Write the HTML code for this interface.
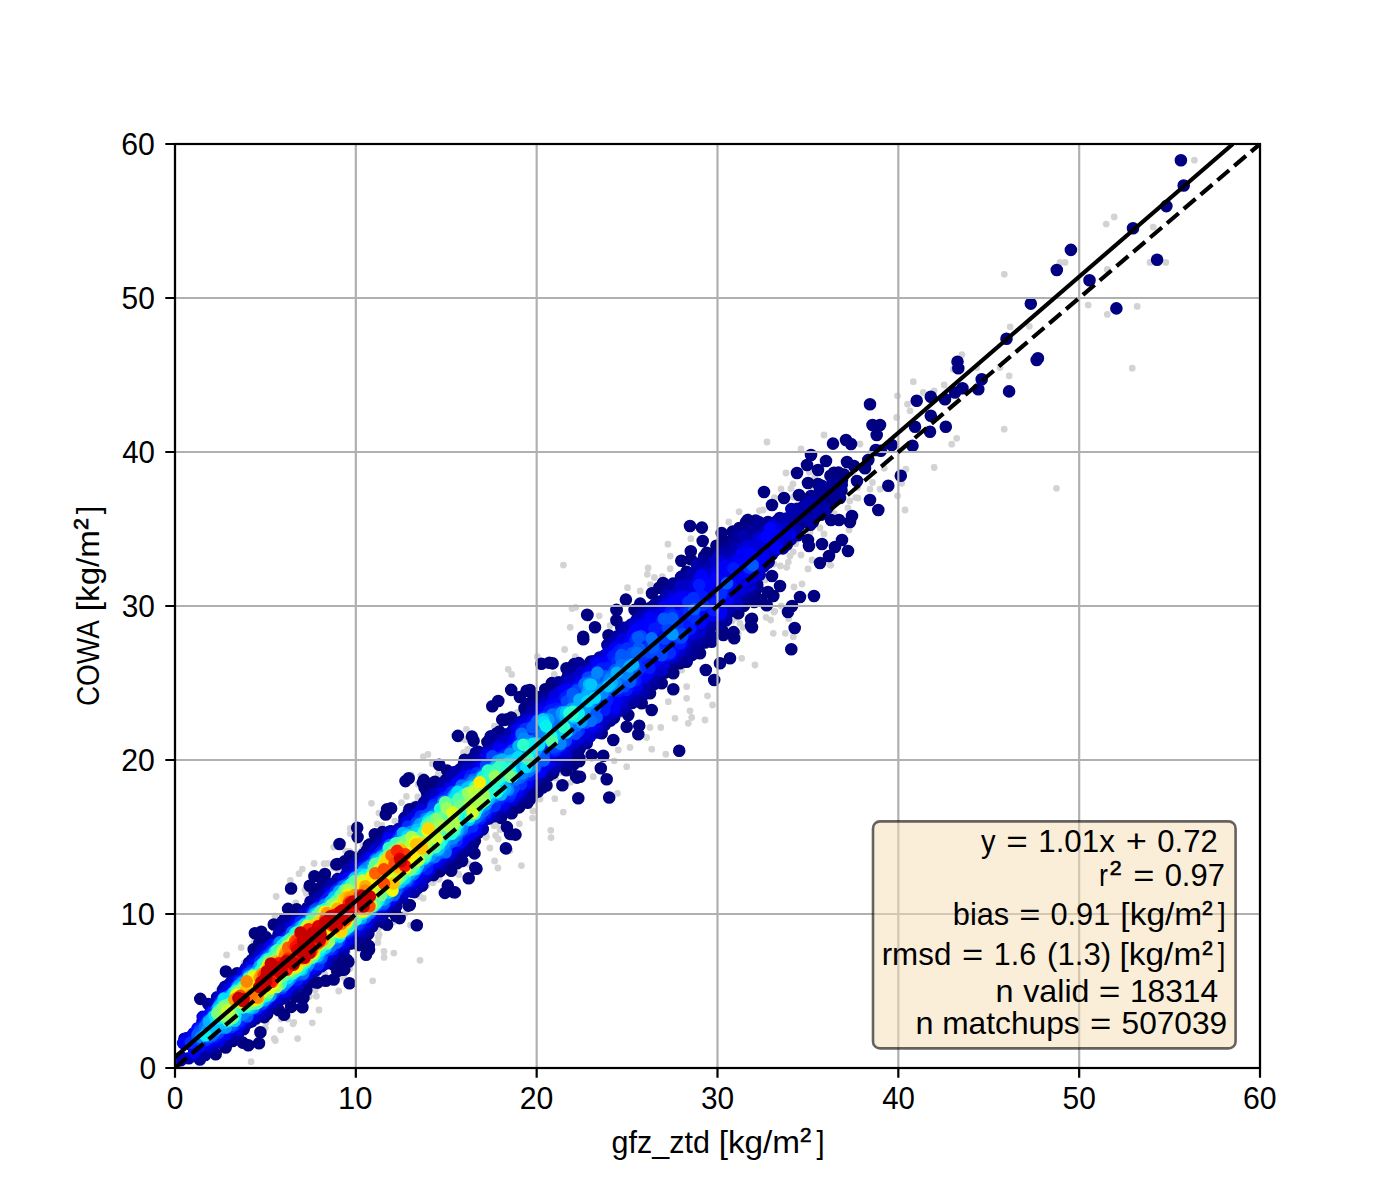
<!DOCTYPE html>
<html><head><meta charset="utf-8"><style>
html,body{margin:0;padding:0;background:#fff;}
svg{display:block;}
text{font-family:"Liberation Sans",sans-serif;fill:#000;}
</style></head><body>
<svg width="1400" height="1200" viewBox="0 0 1400 1200">
<defs><clipPath id="ax"><rect x="175.0" y="144.0" width="1085.0" height="924.0"/></clipPath></defs>
<rect width="1400" height="1200" fill="#fff"/>

<g clip-path="url(#ax)">
<path d="M319 1010h0M791 488.5h0M420.8 775.7h0M411.2 775.2h0M347.5 951.5h0M620.3 715h0M478.5 748.6h0M570.3 768h0M763.1 510h0M464.9 739.8h0M532.9 810.9h0M333.7 868h0M460.3 739.1h0M418.2 784.4h0M349.7 851.3h0M350.1 828.3h0M274.9 916h0M406.4 796.4h0M849.7 500.9h0M276.2 896.5h0M812.9 488.1h0M496 823.8h0M786.6 499.7h0M423.2 898.2h0M303.5 992.5h0M761 586.2h0M285.5 1002.3h0M423.3 756.6h0M417.8 796.8h0M467.8 749.4h0M410.5 925.2h0M509.2 816h0M371.5 803.3h0M312.3 1022.8h0M494.1 825.8h0M290.3 880.5h0M299 873.7h0M570.2 627.3h0M496.6 824.5h0M321.8 983.7h0M432.2 763.8h0M458.3 874h0M293 1023.8h0M521.4 865.6h0M564.6 649.5h0M857.5 487.7h0M315.2 989.9h0M803.5 526.8h0M484 834.7h0M797.7 504.6h0M280.6 1029.9h0M463.5 752.7h0M560.6 772.4h0M393.8 953.1h0M805.7 497.3h0M500 829.7h0M253.9 942.4h0M326.9 966.7h0M324.6 973.7h0M497.9 868h0M597.4 655.5h0M439.2 879.3h0M384.1 957.4h0M358.9 853.8h0M793.3 551.8h0M495.6 835.5h0M498.2 839h0M333.7 847.2h0M393.5 922.1h0M793.5 497.2h0M379.2 934.3h0M338.7 991h0M554.8 798.7h0M551 837.6h0M565.2 784.2h0M417.8 802h0M265.3 1027.8h0M550.8 830.3h0M575.6 607.3h0M809.3 472.3h0M774 564h0M378.3 928.8h0M572 608.6h0M394.9 821.1h0M258.5 1038.6h0M327.7 863.3h0M220 1098.3h0M293.8 1022.3h0M345.5 850.8h0M251.1 1061.7h0M256.5 1022.1h0M377.2 823.9h0M554.3 674.4h0M424 776.5h0M295.7 902.9h0M220.8 1047.8h0M489.9 848h0M508.2 669.3h0M377.9 942.6h0M361.5 850.9h0M359.4 854.9h0M555.6 778.2h0M304.9 889.8h0M793.1 543.2h0M343.7 977.4h0M563.4 565.1h0M511.6 674.4h0M404.6 812.3h0M437.6 875.9h0M433 882.8h0M570.6 782.3h0M427.9 754.4h0M350.1 833.6h0M485.9 837.3h0M436.8 879.1h0M384 951.4h0M226.6 955h0M532.5 818.1h0M466.3 729.4h0M316.4 996.2h0M297.6 1038.6h0M423.6 888.5h0M788.3 562.1h0M244 963h0M485.9 834h0M517.4 712.5h0M440.3 778.8h0M726.9 624.5h0M774.4 497.6h0M486.5 836.8h0M241.1 947.6h0M302.3 869.1h0M765.1 580h0M324.1 863.7h0M341.9 871.2h0M314.1 863.5h0M287.6 1019h0M470 752.8h0M349.9 968.4h0M563.3 812.1h0M218.8 990.3h0M494.4 726.2h0M309.4 996.5h0M855.8 497.6h0M736.4 617.8h0M244.5 964.4h0M280.9 1019.1h0M870.4 453.2h0M510 850.5h0M358.2 948.8h0M763.6 577.5h0M382 825.5h0M586.2 661.6h0M420 960.3h0M629.5 622.3h0M244.2 1032.6h0M389.7 915.2h0M834.1 513.3h0M494.6 861h0M244.8 965h0M759.4 510.6h0M413.4 804.5h0M405.1 913.4h0M802.7 501.1h0M401.5 802.6h0M663.5 678h0M306.4 893.5h0M426.8 885.6h0M795.8 543.7h0M814.7 477.4h0M266.2 1022.2h0M780.3 565.9h0M312.6 974.3h0M853 473h0M575.3 656.6h0M291 1000.1h0M468.8 864h0M458.9 874.8h0M558.3 772.3h0M532 801.8h0M362.9 845.6h0M537.3 656.7h0M378.9 813.1h0M438.3 774h0M274.3 1038.7h0M372.7 980.8h0M275.3 1040.5h0M419.6 896.4h0M518.6 717.4h0M378.3 937h0M519.4 823.8h0M540.1 799h0M338.6 871.3h0M1194.4 160.2h0M1114.2 216.9h0M1106.2 224.1h0M1153.2 227.1h0M1065 262.4h0M1060 262.4h0M1004.3 274.3h0M1165.8 262.4h0M1150 262.4h0M1107.3 269.4h0M1088.2 305.1h0M1107.3 314.4h0M1137.2 306.4h0M1010.2 326.8h0M1029.3 326.3h0M1132.2 368.2h0M1056.5 488.3h0M961.8 354.7h0M913.3 381.7h0M897.5 395.8h0M907.5 404.2h0M910 410.8h0M896.7 417.5h0M923.3 392.5h0M934.2 390.8h0M944.2 385h0M1009.2 375.8h0M1000 367.5h0M1004.2 429.2h0M956.7 438.3h0M951.7 444.2h0M934.2 467.5h0M905.8 469.2h0M901.7 483.3h0M897.5 495.8h0M905 510h0M880 489.2h0M870 489.2h0M872.5 482.5h0M884.2 468.3h0M953.3 369.2h0M976.7 367.5h0M767 442h0M824 435h0M801 449h0M860 444h0M786 473h0M793 484h0M781 489h0M858 498h0M848 508h0M820 528h0M824 534h0M810 532h0M849 530h0M790 556h0M801 555h0M812 560h0M830 565h0M808 569h0M802 584h0M794 587h0M774 612h0M830.7 565.3h0M786.7 567.3h0M781.3 606h0M774.7 611.3h0M770.7 620h0M766 617.3h0M773.3 633.3h0M785.3 633.3h0M793.3 636.7h0M788.7 618.7h0M739.1 511.7h0M728.8 522h0M748.6 516.5h0M690.8 538.7h0M667.9 544.2h0M670.2 556.1h0M670.2 568.7h0M648.1 568h0M647.3 574.3h0M654.4 577.5h0M662.3 576.7h0M627.5 587.7h0M640.2 590.9h0M650.5 584.6h0M610.1 625.7h0M732 621h0M743.1 627.3h0M738.3 633.7h0M599.2 615.8h0M741.7 658.3h0M755 665h0M681.7 670h0M686.7 686.7h0M668.3 701.7h0M686.7 698.3h0M707.5 695.8h0M712.5 705h0M690 710.8h0M691.7 717.5h0M688.3 723.3h0M705 720h0M675 718.3h0M660.8 727.5h0M650 727.5h0M646.7 737.5h0M651.7 749.2h0M630 747.5h0M618.3 750h0M665.8 754.2h0M614.2 760.8h0M626.7 766.7h0M617.5 793.3h0M593.3 776.7h0M726.7 623.3h0M740 623.3h0" stroke="#d3d3d3" stroke-width="6.8" stroke-linecap="round" fill="none"/>
<path d="M1180.9 160.2h0M1183.7 185.5h0M1166.4 206.1h0M1133 228.2h0M1070.9 249.9h0M1056.8 270h0M1157.1 259.8h0M1089.5 280.2h0M1030.8 303.6h0M1116.4 308.4h0M1006.5 338.7h0M1037.9 358.2h0M1009.1 391.4h0M870 404.2h0M872.5 425h0M880 425h0M876.7 435h0M875.8 450h0M880.8 450.8h0M891.7 445h0M868.3 460h0M865 468.3h0M870 500h0M878.3 510h0M888.3 485.8h0M900.8 475.8h0M916.7 400.8h0M930.8 396.7h0M945 399.2h0M955 392.5h0M962.5 388.3h0M981.7 379.2h0M978.3 389.2h0M957.5 361.7h0M958.3 368.3h0M930.8 415.8h0M915 426.7h0M930 431.7h0M945.8 426.7h0M912.5 445.8h0M1036.7 360h0M833 443.6h0M846 440h0M851 444h0M811 455h0M826 461h0M807 465h0M818 470h0M797 473h0M847 462h0M854 466h0M842 480h0M808 483h0M818 484h0M857 481h0M764 492h0M784 498h0M772 505h0M799 495h0M811 496h0M840 498h0M830 502h0M768 522h0M813 522h0M831 520h0M839 520h0M850 522h0M852 516h0M808 540h0M809 546h0M822 544h0M835 547h0M842 540h0M848 551h0M820 563h0M829 556h0M772 576h0M780 586h0M768 592h0M800 597h0M814 596h0M792 606h0M788 612h0M794.7 628h0M791.3 649.3h0M773.3 596h0M766.7 605.3h0M761.3 600h0M752 618.7h0M752 627.3h0M690 526h0M701.9 527.6h0M702.7 541h0M721.7 533.1h0M732.8 531.5h0M755.7 520.5h0M690.8 551.3h0M681.3 560.8h0M690.8 559.2h0M706.7 552.9h0M663.1 583h0M659.2 587.7h0M652 593.3h0M625.9 599.6h0M640.2 603.6h0M634.6 609.9h0M616.4 609.9h0M587.1 614.7h0M595 627.3h0M616.4 620.2h0M621.2 627.3h0M583.2 636.8h0M608.5 635.2h0M757.3 587.7h0M754.2 602h0M751 619.4h0M751 625.7h0M733.6 632.1h0M722.5 632.1h0M587.5 615h0M583.3 639.2h0M616.7 610h0M738.3 613.3h0M734.2 638.3h0M723.3 635h0M711.7 641.7h0M730 658.3h0M720 663.3h0M705.8 670h0M714.2 680h0M700 653.3h0M686.7 661.7h0M673.3 673.3h0M673.3 689.2h0M661.7 683.3h0M650 693.3h0M651.7 710h0M641.7 703.3h0M628.3 715h0M626.7 726.7h0M639.2 725.8h0M638.3 734.2h0M613.3 740h0M601.7 733.3h0M679.2 750.8h0M603.3 755.8h0M591.7 755h0M586.7 743.3h0M600.8 768.3h0M606.7 779.2h0M580 776.7h0M609.2 797.5h0M578.3 798.3h0M349.5 983.2h0M447.8 885.6h0M291.1 888.5h0M259 1043.3h0M254.9 933.3h0M510.1 834h0M506.9 827.1h0M200.3 998.9h0M416.8 925.3h0M444.9 892.9h0M314.4 876.2h0M457.9 735.9h0M471.9 736.6h0M577 777.6h0M339.5 844h0M302.4 1007.3h0M473.6 740.8h0M405.5 781.1h0M366.1 954.8h0M562.4 785.2h0M515.5 834.6h0M505.9 848.4h0M242.7 1042.6h0M549.4 662.8h0M576 776.4h0M357.2 827.7h0M408.7 778.3h0M541.4 663.8h0M552.6 663.4h0M475.3 867.7h0M248.3 1045.3h0M454.9 892.4h0M453.9 892.3h0M474.5 853.4h0M424.6 787.7h0M357.6 837.1h0M385.8 814.5h0M511.2 689.9h0M387.1 809.2h0M476.5 868.7h0M502.2 719.6h0M498.3 701h0M225.9 971.5h0M519.9 697h0M261.3 931.7h0M260.4 1032.3h0M451.2 870.7h0M391.1 808.4h0M468.7 878.3h0M492.3 706.2h0M369 949.9h0M425.2 783.4h0M529.9 690h0M288.1 908.9h0M439.2 764.7h0M344.3 969.6h0M374.8 834.3h0M333.7 979.5h0M309.7 885.8h0M504 720h0M427.3 790.6h0M526.6 690.7h0M447.2 770.6h0M422.8 782.6h0M399.7 918.1h0M457.1 863.3h0M434.9 781.7h0M423.9 780.1h0M462.1 861h0M273.8 924.5h0M284.1 1014.8h0M426.8 791.9h0M368.8 946h0M303.5 997.7h0M324.9 874h0M409.8 905h0M337.3 864.1h0M325.9 980.8h0M278.8 1010.2h0M408.5 905.6h0M336.3 864.4h0M337.1 970.9h0M337.9 970.9h0M296.1 996.5h0M396 916.1h0M324.5 876.5h0M387.1 924.8h0M349.9 856.3h0M317.5 982.6h0M507.2 719.4h0M338.6 963.9h0M323.2 883h0M306.3 990.3h0M259.1 943.5h0M315.8 982.4h0M306.3 987.2h0M333.9 965h0M291.2 1006.9h0M344.6 861.4h0M348.5 961.7h0M253.7 949.3h0M284.7 918.8h0M318.5 888.9h0M347 959.9h0M365.8 942.8h0M566.5 668.3h0M394.9 912.1h0M314.7 892.6h0M546.5 785.5h0M382.4 832.1h0M579.2 761.2h0M519 807.4h0M538 791.6h0M296.7 909.3h0M383.5 922.5h0M511.4 717.6h0M542.7 787.5h0M747.7 520h0M277.3 1007.8h0M368.9 845h0M369.8 844.4h0M755.1 593.7h0M282.6 921.4h0M361.7 942.6h0M472.9 844.6h0M359.1 944.9h0M743.9 605.9h0M566.3 770.2h0M746.2 521.9h0M830.4 475.7h0M748.4 600.9h0M532.2 796h0M511.7 813.3h0M531.3 796.9h0M368.3 933.9h0M530.2 799.1h0M579.4 758.2h0M265.9 937.1h0M527.5 802.8h0M574.3 664h0M215.7 1054.2h0M739.3 528h0M527 705.5h0M409.5 809.2h0M838.5 472.6h0M716.4 545.7h0M467.8 849.7h0M833.9 472.8h0M225.7 1047.5h0M464.6 759.8h0M545.3 689.3h0M752.3 593.7h0M357 943.6h0M487.4 742h0M573.7 764.4h0M536.6 696.7h0M748.3 525.1h0M737.5 611.3h0M354.4 858.1h0M460.5 854.6h0M471.9 843.2h0M324.3 886.8h0M264.3 1017.1h0M524.5 708.2h0M530.7 702.5h0M529.4 795.9h0M289.4 919.2h0M704.1 556.4h0M722.9 541.3h0M551.8 683.1h0M499.4 731.6h0M439.8 871.3h0M533.3 701.1h0M496.6 733.5h0M692.2 654.9h0M718.3 547.9h0M465.5 850.6h0M698.3 648.9h0M752.3 522.4h0M517.3 803.9h0M691.9 652.5h0M577.9 664.4h0M474.9 840.7h0M536.1 699.2h0M525.8 711.3h0M711.7 554.6h0M843.9 474.5h0M836.3 476.7h0M720.4 547.7h0M839.2 492h0M553.1 773.1h0M488.4 744h0M500.9 817.9h0M232.6 1041h0M549.2 775.2h0M237.1 973.2h0M514.4 722.8h0M267.2 1014h0M705.1 642.5h0M327.9 883.3h0M431.7 792.4h0M296.2 913.9h0M721.9 629.9h0M367.2 849.9h0M461.6 852.9h0M445.6 780.1h0M376.3 841.7h0M394.5 908.2h0M288.4 921.3h0M826 494.3h0M488.7 740.8h0M669.6 669.5h0M254.9 952.6h0M708.9 639.2h0M727.3 541.9h0M382.8 834.8h0M841.5 490.4h0M741.1 531.2h0M704.3 641.4h0M548.8 689.4h0M493.9 736h0M832.2 486.4h0M686.6 571.8h0M523 799.6h0M447.9 861.7h0M441.7 868.4h0M537.4 701.8h0M433.5 875.1h0M750.1 529.8h0M418 887.7h0M679.9 663.2h0M320.5 893.2h0M519.9 800.3h0M337.6 954.1h0M665.7 672.4h0M323 890.9h0M537.4 783.1h0M542.7 699.2h0M574.4 753.9h0M684.4 655.7h0M554.8 685.3h0M452.4 776h0M757.1 584.4h0M510.5 807.7h0M639.8 697.9h0M677.4 663.1h0M567 678.4h0M682.3 576.4h0M689.4 574.1h0M733.2 538.5h0M427.4 797h0M659 678.4h0M625.2 709.7h0M488.9 747.8h0M368.3 929.6h0M724.5 551.3h0M815.7 499.7h0M579.6 749h0M270.6 1007.3h0M747.2 533.2h0M308.8 978.5h0M651.3 607.2h0M416.1 807.3h0M782.2 519.3h0M477.8 833.1h0M460.2 769.3h0M269.4 1008.2h0M703.1 636.1h0M614 717.9h0M652.3 608.5h0M813.6 509.1h0M242.7 1028.3h0M351.2 943.4h0M274.9 1003.8h0M449 784.3h0M701.7 629.3h0" stroke="#000080" stroke-width="12.6" stroke-linecap="round" fill="none"/>
<path d="M284.3 920.9h0M490.8 736.3h0M578.8 663.1h0M343.5 951.3h0M821.9 485.9h0M414.3 892.1h0M199.9 1059.5h0M463.6 852.1h0M279.8 929.3h0M835.8 488.8h0M450.2 776.2h0M838.4 493h0M711.5 638.8h0M422.3 885.6h0M643.4 694.8h0M700.4 641.4h0M694 648.9h0M748.9 529.1h0M532.6 705.8h0M574.8 669.3h0M750.8 591.8h0M687.6 658.2h0M284.8 998.3h0M450.6 775.8h0M491.8 738.8h0M820.4 490.3h0M692.5 650h0M841.8 484.6h0M835.9 497h0M506.7 811h0M527.8 791.2h0M545.9 696.8h0M408.7 812.8h0M475.8 752.7h0M759.3 522.4h0M820 490.5h0M558.7 682.2h0M478.4 751.8h0M826.1 492.2h0M711.5 636h0M428.7 795.8h0M684 657.6h0M526 795.3h0M755.6 531.1h0M363.6 854.2h0M736.2 534.4h0M718.6 553.5h0M719.6 623.5h0M396.1 906.4h0M705.2 560.7h0M237.8 1034.8h0M467.8 845.2h0M826.8 508.9h0M706.5 562h0M568.4 674.3h0M699.8 563.4h0M464 763.5h0M726.2 549h0M810.4 524.8h0M832.5 483.4h0M574.5 751.3h0M681.1 577h0M243.8 1029h0M234.7 977.3h0M653.8 684.3h0M825.4 490.2h0M310.4 901.8h0M684.9 654.4h0M740.1 602.5h0M532.4 709.2h0M357.8 938.2h0M701.6 563.2h0M467.8 761.8h0M724.9 550.3h0M561.8 683.5h0M821.1 501.4h0M820.9 514.7h0M278.5 934.5h0M757.8 530.8h0M566.5 762h0M404.5 817.9h0M571.3 673.2h0M655.1 604h0M678.7 582h0M412.2 891.8h0M691.1 647.3h0M673 583.6h0M671.1 586h0M726.2 620.3h0M452.6 855.7h0M812.9 520.4h0M382.1 918.4h0M707 633.8h0M356 939.6h0M707.1 636.8h0M825.2 507.8h0M813.3 497.8h0M677 583h0M357 938h0M444 784.2h0M743.8 596.4h0M756.6 585.5h0M817.2 504.2h0M779.8 518h0M715.1 624.5h0M372.2 926.5h0M745.2 533.1h0M482.7 828.9h0M671.3 587.8h0M473.1 757.9h0M388.4 910.7h0M625.2 708.1h0M701.2 564h0M639.3 615.1h0M725.7 551.2h0M249 962.8h0M364.1 854.6h0M750.6 589.6h0M381.4 918.1h0M448.3 858.7h0M669.1 590.5h0M726.9 550.7h0M641.5 613.4h0M817 515.4h0M326 890.4h0M208.3 1004.1h0M704.8 634.4h0M707 565h0M251.8 960h0M821.2 507.7h0M330.4 959.1h0M688.3 648.5h0M271.7 1006.4h0M738.8 535h0M373 924.9h0M418.3 885.9h0M681.8 581.3h0M525.4 791.9h0M815.7 508.8h0M337.5 879.1h0M251.3 960.6h0M743.1 594.6h0M360.6 934.5h0M822.9 510.8h0M749 589.1h0M260.4 950.8h0M759.1 530.9h0M554.6 768.8h0M696.1 640.2h0M576.4 748.8h0M520.7 797.6h0M282.2 931h0M378.9 918.1h0M778.4 519.7h0M489.5 747.9h0M758.7 532.7h0M394.9 904.8h0M632.5 702.9h0M682.3 653h0M704.3 636.9h0M470 840.6h0M583.5 743.4h0M551.4 769.3h0M811.5 519.2h0M728.4 549.9h0M741.5 595.7h0M527.4 715.3h0M205.2 1055h0M550.4 769.9h0M686.2 578.6h0M316.9 898.6h0M223 989.7h0M728 613h0M710.1 562.1h0M296.9 917.2h0M659.8 601.5h0M610.5 720.6h0M388.8 832.3h0M323.3 893.5h0M505 734.6h0M705.7 566.9h0M497 740.5h0M375.8 846.2h0M633.9 701.1h0M590.9 661.5h0M733.6 542.8h0M777.9 521.1h0M675.9 587.8h0M254.6 957.3h0M371.3 925.4h0M374.6 847.3h0M469.7 840.5h0M353.4 941.7h0M768.7 562.1h0M632.1 702.1h0M644.4 687.1h0M498.6 814.1h0M812.9 512.4h0M757.6 535.5h0M371.8 849.7h0M261 951h0M798 535.2h0M725.3 615.7h0M674.1 589.9h0M332.5 955.5h0M688.9 646h0M407.7 817.9h0M585.4 741.3h0M541.1 776.3h0M334.6 953.9h0M329.4 886.9h0M730.8 550.2h0M616.8 636.6h0M385.2 911.2h0M753.1 538h0M411.9 889.7h0M692.1 640.3h0M284.7 996.1h0M813.6 507.3h0M643.1 614h0M481.5 755.1h0M775.9 522.5h0M697.8 638h0M738 543.6h0M674.4 591h0M744.9 538.3h0M574.6 674.1h0M515.6 800.7h0M630.2 702h0M698.5 569.2h0M809.2 519.4h0M478.3 831.7h0M645.1 683.4h0M441.1 788.2h0M274.2 940.6h0M604.9 724.7h0M409.8 815.6h0M748.4 587.3h0M643.7 686.3h0M786.8 544.5h0M608.9 720.8h0M480.3 756.8h0M227.8 985.5h0M328 888.8h0M724.2 616.5h0M635.3 699.8h0M533.3 783.9h0M609.7 720.3h0M441 789.3h0M656.1 677.1h0M449.1 856.7h0M722.8 617.2h0M357 934.7h0M668.8 664.1h0M607.4 644.9h0M255.8 1018.5h0M798.8 519.7h0M701.3 631.9h0M729.6 609.4h0M493.9 816.3h0M796.8 509.1h0M568.8 750.2h0M374.7 918.9h0M736.7 595.5h0M624.8 702.8h0M462.4 770.7h0M258.8 953.1h0M716.3 558h0M307.4 907.8h0M222.6 1043.2h0M565.1 759h0M334.1 953.2h0M627.4 627.4h0M227.9 1040.2h0M715.7 619.9h0M450.1 783h0M391.2 831.3h0M464.1 845.3h0M322.8 895.1h0M338.2 882.3h0M581.3 670.1h0M744.7 588.8h0M350.5 943.3h0M740.1 591.9h0M593.1 661.2h0M493.3 746.9h0M721.4 558.4h0M279.1 1000.6h0M697.8 635h0M742.2 536.9h0M525.8 717.9h0M610.6 717.7h0M231.3 1036.5h0M799 525.5h0M611.8 643.1h0M316.4 901.4h0M657.5 673.6h0M463.5 846h0M799.1 510.3h0M526.8 717h0M660 603.9h0M247 1023.5h0M388.7 834h0M603.8 724.5h0M567.3 682.8h0M652.2 610.2h0M357.8 861.5h0M798 509.4h0M664.4 599.8h0M738.3 545.8h0M808.5 502h0M797.9 524.2h0M424.3 802.2h0M339.1 882.3h0M589.7 663.8h0M795 514.2h0M397.8 900.1h0M377.6 915.2h0M616 640.6h0M617.4 638.8h0M796.5 532.8h0M636.6 620h0M775.9 524.4h0M766.7 529.2h0M257.9 1015.6h0M682 649.8h0M805.8 520.9h0M598.2 730.3h0M610.4 718h0M593.3 661.8h0M217.1 997.2h0M462.1 773h0M524.8 789.4h0M644.7 682.1h0M618.9 637.2h0M251.6 1021.6h0M348.2 871.6h0M285.4 994.3h0M689.1 582.2h0M743.2 543h0M380.2 845h0M723.6 614.7h0M453.2 851.5h0M796.5 529.8h0M299.3 918h0M700.3 629.2h0M570.9 680.6h0M332.7 886.7h0M635.3 692.9h0M654.7 610.9h0M705.8 625.3h0M737.4 592.1h0M802.6 507.2h0M619 709.2h0M654.5 676.4h0M455.5 849.4h0M804.8 505.1h0M408.2 819h0M782.7 525.4h0M783.4 541h0M475.2 832.3h0M761.7 566.8h0M421.3 807.5h0M646.2 615.8h0M261.2 1012h0M631.5 696.5h0M765 559.8h0M563.8 752.8h0M575.1 676.8h0M296.2 921h0M479 828.3h0M497.4 745.2h0M537.7 777.2h0M570 747.1h0M753.4 543.4h0M589 736.7h0M508.8 734.5h0M744.7 543.5h0M364.1 861.9h0M794.1 533.3h0M258 956.2h0M361.8 928.6h0M762.9 563.7h0M562.3 688.2h0M249.8 965.5h0M583.8 670h0M514.4 799h0M587.6 737h0M705.1 624.8h0M554.4 762.4h0M732 604.9h0M779.5 536.8h0M711 573.2h0M537.4 709.6h0M781.8 527.7h0M599.6 657.6h0M745.4 585h0M566.9 685.8h0M500.4 742.9h0M709.1 575.1h0M678.2 650.8h0M754.7 546.4h0M736.8 586.7h0M425.9 807.3h0M766.2 534.5h0M287.7 990.9h0M474.1 764.8h0M712.6 573.4h0M265.9 1004.6h0M679.6 595.4h0M707.1 618.7h0M610.1 650.1h0M479.4 763.8h0M667.6 660.6h0M658.3 667.9h0M373 915h0M392.4 900.2h0M656.7 612.4h0M408.4 822.7h0M655.1 672.1h0M414.7 881.8h0M671.8 656.8h0M325.8 897.4h0M502.9 745h0M554.3 757.6h0M694.1 629.9h0M300.1 980.8h0M510.8 800.2h0M485.7 759.3h0M422.7 811.2h0M749.9 557.3h0M721.8 603.9h0" stroke="#000096" stroke-width="12.6" stroke-linecap="round" fill="none"/>
<path d="M454.7 772.1h0M280 933.1h0M482.4 829.5h0M697.1 565.4h0M824.9 508.7h0M691.9 573.7h0M442.7 786.2h0M262.6 949.4h0M775.3 522.3h0M817.3 509.8h0M451.2 780.4h0M666.2 594.2h0M684.7 649.8h0M624.9 628h0M389.9 831.5h0M725 554.4h0M642.7 690.3h0M283.4 929.8h0M413.5 888.9h0M643.9 688.2h0M719.2 555.2h0M744.4 591.6h0M450.7 855.6h0M767.2 563.1h0M365.1 931.1h0M791.3 509.1h0M441.4 864.6h0M810.7 520.5h0M326.3 963.2h0M380.5 915.8h0M265.9 1011h0M623.6 708.1h0M331.2 885.2h0M543.4 701.9h0M231.2 981.9h0M326.5 962.2h0M379.7 915.7h0M225 986.7h0M353.5 864.6h0M295.6 987.4h0M641.6 689.2h0M431.1 796.6h0M356.7 861.4h0M799.1 516.6h0M344.1 947.8h0M735.2 547.6h0M434.5 793.9h0M517.5 723.9h0M597.3 732.5h0M288.4 926.4h0M530.6 713.1h0M410.5 890.8h0M374.4 849.6h0M782.9 548.4h0M380.2 843.2h0M347.7 869.8h0M586.6 740.4h0M261.8 1014.1h0M640.4 616.8h0M291.9 922.3h0M786 518.5h0M683.2 587h0M740 593.4h0M695.9 636.8h0M797.1 534.6h0M710.9 622.5h0M811.1 502.3h0M697.7 637h0M699.7 634.1h0M627.7 627.7h0M621.8 633.2h0M743.3 536.1h0M566.1 756.5h0M767.2 560.5h0M425.9 877.3h0M565.7 683.6h0M763.7 566.4h0M796.7 511.3h0M387.8 835h0M620 710.6h0M316.7 900.1h0M615.6 639.2h0M332.8 954.2h0M292.8 989.2h0M320.8 897h0M642.1 686.9h0M235.8 1032.6h0M687.8 583.4h0M481.7 756.7h0M772 554.2h0M631.2 624.6h0M418.5 884.1h0M459.3 775h0M694.9 636.2h0M622.8 704.7h0M428.2 874.6h0M719.9 557.9h0M281.8 935.4h0M504 807.1h0M402.3 897.1h0M294.8 920.7h0M573.1 744.4h0M687 584h0M764.9 561.6h0M553.4 766.1h0M789.1 517.6h0M535 781h0M681.8 588.1h0M635.6 692h0M804.7 508.6h0M648.3 611.5h0M474.9 761.7h0M711.2 564.9h0M285.5 994.8h0M709 621.2h0M706.1 569.6h0M389.3 905.5h0M422.5 805.2h0M469.9 765.1h0M662.6 601.4h0M466.9 767.3h0M258.5 1015.2h0M483.8 754.4h0M615.9 712.8h0M633.9 697.5h0M610.1 716.4h0M253.8 960.7h0M781.1 548.3h0M404.4 822.1h0M449.1 855.2h0M793.3 526.2h0M675.8 657h0M210.6 1048h0M796.1 515.7h0M544 771.6h0M415.2 884.9h0M556.3 763.7h0M448.5 785.3h0M707.1 570.5h0M601.6 725.3h0M374.6 917h0M581.7 741.5h0M622.2 704.9h0M520.9 722h0M456.5 848.4h0M212.7 1046.2h0M341.5 879.8h0M486.8 752.4h0M611.7 714.8h0M265.5 1006.3h0M703.3 627.4h0M359.1 862.9h0M263.5 1011.1h0M661.6 603.3h0M677.2 592.3h0M645.1 616.2h0M351.5 938.9h0M514 728h0M769.2 556.8h0M648.4 679h0M326.8 893.3h0M794.4 527.2h0M271.1 944.5h0M731.5 555.5h0M422.9 805.2h0M689.1 585.5h0M510.2 732.9h0M791 520.3h0M746.9 584.8h0M725 612.6h0M629.8 628.3h0M662.6 666.2h0M747.3 542.8h0M765.5 531.4h0M645.5 616.9h0M368.9 923.1h0M809.1 503h0M700.8 572h0M749 543.1h0M279.9 997.6h0M791 539.3h0M381.4 844h0M626.2 631.1h0M728.1 559.4h0M316.4 970h0M345.9 875.2h0M762.4 534.1h0M759.7 574.8h0M738.7 548.3h0M561.6 757.8h0M445 787.6h0M728.3 608h0M681.1 590.9h0M780.8 545.1h0M456.2 780h0M303.5 913.5h0M806.2 504.7h0M662.2 603.7h0M697.9 574.8h0M345.2 876.6h0M701.9 627h0M383.4 841.5h0M496.6 812.9h0M790.4 518.9h0M422.5 876.8h0M623 635.8h0M626.1 634.8h0M395.9 899.8h0M423.8 876.5h0M779.3 527.4h0M515.6 727.4h0M608.9 647.5h0M563.2 754.2h0M423.3 875.4h0M340.1 883.2h0M583.4 739.6h0M657.5 608.5h0M691.1 582.4h0M550.2 766.3h0M525.3 787.1h0M772.5 526.9h0M232 1033.6h0M780.6 527h0M622.6 637.2h0M688.6 640.1h0M544.6 770.8h0M761.4 565.2h0M674.4 656.6h0M713.7 618.2h0M493.9 813.7h0M589.8 733.5h0M537.9 708.7h0M758.9 569.2h0M639.2 620.6h0M691 589.4h0M392.1 833.2h0M788.8 522.9h0M317.3 902.9h0M640.5 685.1h0M698.1 629.5h0M292.1 988h0M522.2 723.4h0M374.2 915.9h0M774.3 527.4h0M756.4 541.5h0M706.5 622h0M568.6 748.1h0M756 543.8h0M789.7 537.7h0M510.4 734.7h0M769.2 554.7h0M621 638.9h0M253.3 1016.1h0M696.3 576.2h0M755.2 544.6h0M774.4 528.2h0M245.8 968.5h0M774.3 551.4h0M502.1 740.2h0M472.4 834.5h0M787.3 535.1h0M522.9 789.3h0M607.3 716.8h0M691.1 634.3h0M723.4 613.3h0M492.2 813.9h0M321.3 966.2h0M554.7 694.9h0M496.5 748.1h0M245.5 1022.3h0M510.8 736.3h0M653.2 674h0M572.5 681h0M443.9 857.5h0M756.6 568.5h0M497.7 809.9h0M771 529.6h0M425.9 806.1h0M757.9 543.1h0M665.2 662.8h0M398.5 829.1h0M772.5 529.3h0M488.8 818.5h0M770 552.9h0M656.4 610.5h0M684.8 593h0M751.4 546.1h0M431 870.1h0M464.2 775.4h0M734.5 591.1h0M339.7 947.2h0M762.3 538.1h0M227.3 989.5h0M738.4 588.1h0M728.5 603.4h0M539 709.2h0M465.3 773.2h0M573.8 681.3h0M736.5 588.4h0M778.8 546.1h0M188.8 1058.2h0M304.7 915.1h0M498.1 746.5h0M231.7 984.7h0M415.6 814.5h0M606.5 654.1h0M742.3 548.4h0M588.3 730.7h0M600.3 658.9h0M526.9 785.1h0M544.6 706.1h0M732.7 595.2h0M687.4 593.2h0M426.7 807.2h0M238.2 1028h0M619.1 643.3h0M692.7 584.7h0M605.3 655h0M611.3 711.1h0M732.5 597.2h0M389.9 902.5h0M671.1 657.6h0M484 758.4h0M745.5 581.8h0M753.8 575.9h0M692.4 586.2h0M456.4 846.9h0M548.9 765.5h0M282.1 937.7h0M597.8 661.1h0M586.3 735.7h0M513.6 732.6h0M489 814.1h0M653 615.4h0M719.2 563.2h0M370.7 857.5h0M708.3 576.9h0M528.9 719.2h0M586 735.5h0M256.3 960.4h0M607.1 713.6h0M713.8 571.8h0M767.9 554h0M555.8 757h0M644 678.6h0M358.8 866.2h0M274.2 1001.7h0M740 585.9h0M604.7 657h0M605.1 716.6h0M278.3 940.6h0M184.4 1038.8h0M264.7 1005h0M378 850.9h0M633.4 629h0M766.6 555.2h0M717.2 565.2h0M508.1 737.8h0M729.6 601.3h0M469 835.6h0M348.3 876.2h0M462.5 842.2h0M620 643h0M284 993.2h0M267.1 950.3h0M761.8 558.9h0M585.9 731.3h0M619 698.6h0M695.5 583h0M617.7 646.2h0M559.5 693.1h0M383.1 846.9h0M494.9 750.3h0M532 717.8h0M505.2 741.6h0M609.2 650.5h0M561.2 751.7h0M722.1 613h0M419.7 877.1h0M759.6 562.4h0M211.4 1043.5h0M777.3 542.6h0M501.6 744.6h0M761.7 542.1h0M619.6 644h0M666.5 603.8h0M602.5 658.8h0M737.9 556.5h0M246.8 1019.7h0M500.9 803.7h0M734.6 558.7h0M670.8 601.8h0M617.3 700.4h0M611.1 651.1h0M325.1 958.6h0M395.3 833.5h0M616.4 702.9h0M555.5 754.3h0M292.5 927h0M767 553.4h0M740.1 553.7h0M427.3 807.6h0M764.7 554.6h0M695.3 585.6h0M561.3 750.1h0M413 883.3h0M613.9 707.5h0M551.1 763h0M563.1 749.2h0M606.4 657.8h0M596.3 663.7h0M684.4 643.1h0M606.1 713.9h0M629 634.6h0M412.1 883.6h0M531.5 779.4h0M696.8 584.1h0M754.4 568.5h0M729.7 597.6h0M733.8 560.8h0M760.5 558.9h0M746.5 548.7h0M714.9 568.5h0M376.6 853.3h0M422.3 810.3h0M261.7 1006.7h0M288.9 931.1h0M549.9 705.3h0M677.5 649.1h0M432.6 866.5h0M504.7 803.1h0M715.2 569.4h0M729.9 596.7h0M418.8 878.4h0M537.7 772.6h0M356.6 869.1h0M722.1 565.7h0M766.5 540.5h0M196.7 1053.1h0M752.6 551.3h0M427.3 869.5h0M563.2 690.6h0M551.5 759.3h0M730.8 592.4h0M764 550.6h0M611.3 651.7h0M512.3 798.1h0M355.9 869.5h0M599.2 719.8h0M754.2 566.5h0M761.3 556.7h0M359.6 928.3h0M766 542.2h0M440.2 796.3h0M529.3 720.7h0M647.6 673.8h0M700 623.6h0M429.5 868.8h0M392.5 898.9h0M770.5 533.7h0M585.9 728h0M631.6 690.3h0M590.3 668.1h0M570.2 687.7h0M550.3 760.7h0M450.4 787.5h0M533.1 776.9h0M605.5 659.4h0M620.9 646.7h0M507.7 743.6h0M740.3 579.6h0M516.3 731.2h0M584.2 732h0M523.4 727.1h0M404.1 829.4h0M732.8 563.1h0M709 585.4h0M757.4 560.9h0M334.5 948.3h0M696.7 585.2h0M528.9 723h0M555.9 700.1h0M696.7 625.1h0M717.2 567.9h0M264.4 954.2h0M718.9 579.1h0M515.7 736h0M320.6 902.6h0M487.8 813.7h0M247.7 969.5h0M507.9 745.1h0M362.5 924.6h0M668.9 608h0M583 731.6h0M720.7 576.9h0M770.1 536.3h0M326 956.3h0M434.3 862.2h0M514.2 737.8h0M641.1 676.6h0M287.7 988.1h0M709.4 585.8h0M470.3 831.7h0M718.9 569.8h0M700.8 582.4h0M622.7 646h0M651.6 669.2h0M354.8 872.3h0M686.4 635.5h0M417.2 877.8h0M286.6 935.8h0M668.2 609.5h0M454.7 786.6h0M612.3 700.8h0M448.7 848.9h0M641 629.8h0M534.4 772.8h0M730 581.6h0M414.4 821.8h0M204.6 1044.8h0M256.6 1009.9h0M513.3 739.5h0M654.6 663.4h0M202.5 1022h0M499.8 802.2h0M581.4 728.6h0M610.5 703.3h0M475.5 822.3h0M605.8 663.2h0M518 787.8h0M629 690.1h0M605.6 706.7h0M614.9 655.9h0M477 820.4h0M467.1 831.4h0M664.4 626.1h0M669.8 613.9h0M614.3 691.4h0" stroke="#0000ad" stroke-width="12.6" stroke-linecap="round" fill="none"/>
<path d="M737.3 603.9h0M661.7 670.6h0M680.5 586.4h0M750.4 585.7h0M749 585.9h0M566 754.6h0M700.2 631.3h0M569.6 681.2h0M590 736.5h0M757.4 538.3h0M733.7 601.6h0M420.8 881.9h0M323.2 964.9h0M374.5 850.3h0M758.3 537.3h0M772.2 525.6h0M622.9 702.9h0M614.3 711.7h0M686.2 586.6h0M684.9 590.4h0M324.5 962.7h0M333.8 952.1h0M716 560.6h0M697.3 632.6h0M721.4 560.1h0M582 672h0M598 727.4h0M759 539.9h0M652 613.2h0M406 822.4h0M327.9 893.2h0M521.2 792.3h0M634.1 624.9h0M602.3 720h0M359.5 930.9h0M673.3 657.8h0M343.5 878.2h0M261.3 954h0M257.1 1013.1h0M487.7 753.2h0M623.4 700h0M242.8 972.7h0M679.1 651.3h0M502.9 806.3h0M454.4 848.8h0M704.1 573.1h0M652.2 614.7h0M575.7 678.1h0M493.6 749.4h0M513.1 799.8h0M638.3 686.7h0M786.3 528.5h0M620.1 701.9h0M734.2 594.6h0M758.4 568.3h0M574.7 742.3h0M467.1 770.4h0M492.7 750.1h0M776.5 528.2h0M779 543.1h0M286.7 991.8h0M404.8 892.2h0M719.9 561.7h0M527.4 719.8h0M673.3 595.9h0M387.8 837.8h0M645.7 617.9h0M436.4 795.7h0M261.3 1010.4h0M474.9 831.3h0M786.1 533.9h0M664.2 663.4h0M778.1 539.6h0M698.9 627.1h0M758.8 542.4h0M298.7 983.9h0M310.4 972.9h0M778.3 547.1h0M575.6 740.9h0M348.1 940.3h0M303.8 915.5h0M249.6 1018.9h0M667.6 601.6h0M440.5 793.6h0M489.5 814.2h0M330.1 893h0M686.1 593.4h0M558.9 691.7h0M555.7 760.9h0M546.4 704.3h0M392.6 834.6h0M513.8 798.4h0M608.3 713.9h0M180.8 1060.2h0M440.9 859.6h0M762.6 559h0M588.5 730.1h0M403.7 891.9h0M498.7 745.5h0M732.4 595.9h0M290.3 928.4h0M691.8 633.4h0M685.6 643.3h0M254.9 1013.7h0M776.5 548.8h0M434.8 798.7h0M743.1 548.5h0M208.8 1045.4h0M354.6 868h0M591.7 727.7h0M394.3 833.8h0M643.2 620.7h0M483.4 760.9h0M622.8 699.4h0M605.7 716.9h0M434.9 864.1h0M421.3 809.3h0M502.6 744h0M706.5 619h0M566 748.5h0M596 725.2h0M713.1 578.2h0M485.2 757.5h0M755.6 575.2h0M384.4 907.6h0M506.4 740.9h0M770.8 551h0M642.5 679.3h0M259.5 956.8h0M685.2 643.4h0M751.3 547.6h0M607.4 654.2h0M772.8 530h0M218.3 998.5h0M706.4 617.8h0M299.4 982.3h0M743.9 583.1h0M564.3 749.8h0M429.7 869.9h0M765.6 538.3h0M775.6 548h0M642.2 621.6h0M755.2 570h0M459.1 844.7h0M685.6 594.9h0M765.1 538.9h0M568 687.4h0M346.8 876.9h0M452.9 784.9h0M306.7 913.8h0M705.9 579.7h0M736.9 555.9h0M469.5 771.2h0M568.8 743.2h0M769.2 533.6h0M404.1 890.1h0M725.6 563.8h0M667.3 603.3h0M692.7 631.2h0M182.1 1057.8h0M774.7 548.6h0M732.8 589.9h0M339.7 946.1h0M607.5 712.7h0M360.3 865.6h0M257.7 959.4h0M451.3 786.5h0M449.4 787.1h0M695.2 590.2h0M690.1 595.1h0M406.4 826.3h0M522.2 786.8h0M444.1 855.8h0M761.5 544.1h0M218.6 1042.1h0M544.4 708.9h0M485.9 819h0M766.4 552.9h0M736.5 559h0M487.2 756h0M272.6 1001.7h0M768.8 535.4h0M760 560.4h0M378.2 911.6h0M525.6 722.8h0M686.5 595.8h0M276.3 998h0M234.6 983.2h0M674.9 600.3h0M654.7 669.7h0M477.2 765h0M309.3 911.7h0M285.5 990.9h0M555.7 752.5h0M639.8 681.8h0M636.8 626.7h0M755.2 568.2h0M512.9 797.2h0M736.6 559.3h0M465 777.4h0M379.2 851.8h0M490.8 812.4h0M543.4 710.1h0M544.4 767.1h0M676.5 598.1h0M523.5 785.6h0M762.5 545.8h0M546.4 765.5h0M547 707.5h0M673.3 654.2h0M614.4 649h0M202.7 1016.9h0M685.8 638.3h0M463.2 777.8h0M774.2 548.4h0M629.2 638.2h0M603.5 715.5h0M465.6 777.7h0M614.6 649.2h0M673.5 604.6h0M753.9 555.2h0M656.7 667h0M753.6 555.8h0M317.5 967.2h0M435.9 799.3h0M767.1 550.3h0M348.9 937.2h0M304.4 916.6h0M663.9 607.5h0M362.4 865.5h0M765 550.3h0M475.6 827h0M764.6 547.5h0M650.4 672.8h0M375.8 912h0M612 651.4h0M653.9 669.7h0M371.4 915.8h0M409.7 884.9h0M767.3 542.8h0M518.1 729.3h0M643.6 624h0M497.8 751.2h0M633.7 687.1h0M563.9 692.1h0M353.4 872.2h0M281.3 939.4h0M253.6 1013.5h0M300.6 979.5h0M623.2 644.2h0M752.6 568.2h0M750.6 573.6h0M595.8 665h0M594.9 724.1h0M345.2 880.5h0M598.1 720h0M345.8 941.6h0M209.3 1042.6h0M346 879.7h0M755.6 564.5h0M746.9 555h0M313.2 968.8h0M614.3 705h0M216.2 1001.9h0M735.9 561.3h0M639.6 680.7h0M259 1009.6h0M383.4 848.1h0M216.6 1041.1h0M699.1 581.5h0M298.8 980.5h0M640.9 678.5h0M528 724.9h0M572.9 739h0M530.3 721.3h0M450.3 788.5h0M695 625.9h0M585.4 728.8h0M421.6 874.7h0M553.9 704h0M439.7 857.9h0M743.8 564.6h0M662.6 661.2h0M624.3 644.5h0M556.6 700.4h0M598.1 663.1h0M547.8 764.4h0M276.6 996.8h0M558.1 749.6h0M485.3 760.2h0M664.4 608.6h0M635 631.6h0M702.5 620.4h0M549.6 707.8h0M502.3 747.5h0M384.4 847.2h0M339.9 945.2h0M627.3 641.9h0M283.5 938.3h0M452.8 846.6h0M413.3 880.7h0M733 583.3h0M627.1 694.5h0M621.9 646.5h0M545.6 763.4h0M634.3 685.1h0M405.1 888.3h0M643.4 673.8h0M703.1 618.2h0M720.9 566.6h0M483.4 819.5h0M502.6 801.6h0M498.8 751.2h0M520.1 786.9h0M713.7 585.9h0M518.3 789.6h0M681.8 606.4h0M224.8 1035.9h0M606.6 709.5h0M548.4 761.9h0M581.7 732.7h0M411.6 882.2h0M741.1 566.2h0M643.4 627h0M636 683.4h0M719.3 568.9h0M477.3 767.1h0M404.2 829.5h0M487.2 812.9h0M691.3 596.4h0M404.7 829.2h0M733.6 573.9h0M740.8 576.4h0M502 749.9h0M697.2 592.3h0M456.2 843.2h0M607.7 660.4h0M574.6 685.9h0M549.6 760.2h0M723.8 575.2h0M289.3 932.4h0M723.5 602.1h0M701.5 617.4h0M242 977.7h0M580.9 681.9h0M262.3 956.3h0M646.1 670.1h0M290.3 986.1h0M711.6 614.3h0M687.7 597.5h0M290.3 932h0M727.6 592.4h0M745.5 567.4h0M420 874.8h0M522.5 731h0M564.3 698h0M724.7 600.7h0M731 566h0M238.8 1024.8h0M555.3 705.1h0M250.5 968.8h0M580.9 731.9h0M289 987.1h0M429.9 866.7h0M242.8 1020.1h0M564.5 745.5h0M672.2 609.9h0M584.8 727h0M499.6 802.6h0M574.7 686.9h0M653.2 666h0M202.8 1045.7h0M746.3 574.1h0M703 612.2h0M506.6 746.6h0M685.2 604h0M449.2 789.9h0M747.9 570h0M611.4 654.8h0M729.2 582.2h0M579.1 736.7h0M719 600.6h0M585.1 676.5h0M389.1 900h0M729.1 588.3h0M697.9 593h0M708.3 589.3h0M694.7 595.6h0M722.1 583.9h0M519.2 732.3h0M725.3 597.5h0M546.9 710.5h0M602.8 709.4h0M628.2 644.3h0M322.3 902.9h0M699.9 589.6h0M435.2 803.2h0M684.5 606.7h0M481.9 818.8h0M733.5 570.1h0M553.8 707.6h0M406.4 829h0M549.8 709.5h0M514.4 740.4h0M457 842h0M724.1 569.2h0M705.6 591.9h0M254.9 1010.8h0M359.7 925.6h0M687.7 626.9h0M711.3 595.6h0M424.1 870.3h0M235.5 1026.5h0M400 833.3h0M587.9 673.7h0M622.2 692.8h0M619 650.6h0M687.7 626.4h0M254.6 967.7h0M506.1 748h0M633.2 683.3h0M362 923.2h0M653.5 658.4h0M704.3 591.8h0M560.4 704.2h0M705 604.5h0M595.1 668.7h0M513.6 742.8h0M448.8 793h0M708 601.5h0M475.1 772.3h0M634 640.5h0M669 651.8h0M638.2 675.4h0M400.6 889.5h0M588 675.6h0M493.7 806.8h0M660.9 620.6h0M694.5 618.2h0M582 683.5h0M410.1 880.7h0M723.8 588.7h0M373.5 858.9h0M652.9 630.3h0M291.9 983h0M416.1 822.6h0M681.6 610.8h0M623.4 692.2h0M516.3 785.4h0M629.3 685.8h0M630.5 682.1h0M380.5 853.6h0M490.8 758.4h0M698.9 594.8h0M377.1 908.8h0M568.1 698.6h0M267.5 1001h0M632.6 649.7h0M645.5 664.2h0M695.7 603.3h0M701.6 603.6h0M696.1 598.1h0M290.9 984.2h0M640.1 637h0M579 726.6h0M413.2 876h0M650.5 640.4h0M603.6 700.6h0M438.1 803.5h0M376.9 856.6h0M656.2 654.2h0M638.8 659.1h0M204.6 1040.8h0M681 634.9h0M563.5 739.9h0M273 949.1h0M673.6 614h0M346.5 935.5h0M454.6 790.3h0M667.8 635h0M678.4 632.4h0M439.5 852.2h0M402.3 885.5h0M643.2 655.8h0M649.1 649.5h0M473.2 819.9h0M585.9 713.1h0M612.5 670h0" stroke="#0000c8" stroke-width="12.6" stroke-linecap="round" fill="none"/>
<path d="M740.9 589.1h0M237.1 1029.9h0M368 857.6h0M269.7 946.7h0M449.5 854h0M411.7 818.5h0M748 546.4h0M487.2 754h0M756.9 574.6h0M596 662.1h0M692.4 633.8h0M527.8 784.3h0M503.7 804.9h0M622.4 639.2h0M367.1 922.5h0M303.6 978.3h0M349.7 939.1h0M525 722h0M776.8 528.8h0M790 533.5h0M760.1 541.4h0M776.4 537.9h0M554.4 695.8h0M540.6 708.9h0M556.6 695h0M733.4 592.5h0M593 727.6h0M650.9 616.3h0M703.3 576h0M407.8 822.4h0M296.9 922.1h0M720.5 615.1h0M759.7 563.4h0M694.4 585.3h0M465.6 775.1h0M715 572.4h0M221.7 995.6h0M523 723.9h0M723 563.8h0M427.3 870.6h0M552.7 702.2h0M635.4 688.7h0M751.1 577.6h0M620.7 697.7h0M752.6 575h0M362.3 865.1h0M735.4 585.8h0M483.7 760.7h0M322.1 963.8h0M409.7 821.6h0M514.5 796.7h0M608.4 653.6h0M499.7 746.7h0M623.9 641.2h0M653.5 616.7h0M342.8 882.3h0M418 813.2h0M674.7 597.9h0M564.4 748.9h0M672 598.5h0M638.3 625h0M727.7 563.4h0M612 709.8h0M237.1 980.6h0M634.6 628.9h0M747.4 579.1h0M256.3 962.6h0M459.2 780.8h0M470.3 834.6h0M243.4 974h0M777.5 542.3h0M264.2 1005h0M707.7 616.6h0M753.8 571.1h0M622.4 642.1h0M344.6 942.6h0M588.1 727.7h0M673 603.5h0M584.8 732h0M414 819h0M712.7 580.2h0M662.1 662.6h0M437.4 862.1h0M751.8 549.6h0M363.2 924.8h0M517.5 728.6h0M698.6 578.6h0M247.5 1017.6h0M775.4 536.7h0M556.6 698.3h0M733.7 582.2h0M639.8 625.3h0M749.9 576.3h0M391 900.4h0M691.2 630.6h0M516.5 729.7h0M615 703.1h0M694.7 593.9h0M568.9 742.3h0M549.7 762.5h0M718.3 570.4h0M705.8 580.7h0M593.4 725.6h0M398.2 832.2h0M462.9 840.7h0M452.6 847.6h0M444.2 792.9h0M550.4 761.6h0M332.1 891.3h0M249 967.8h0M292 928.5h0M601.6 660.9h0M716.1 615.3h0M546 709.1h0M705.4 617.2h0M501.5 747.8h0M262.9 1005h0M708.2 583.8h0M435.5 861.6h0M738.5 560.7h0M644.2 675.7h0M545.6 710h0M430.7 807.2h0M691 630.2h0M319.4 966h0M233.6 1029.4h0M228.2 989.5h0M330.3 952h0M688.6 631.9h0M494 753.7h0M463 839.3h0M729.5 593.2h0M349.4 877.2h0M422.9 811.7h0M771.1 536.2h0M660.1 663.2h0M389.2 840.7h0M660.1 612.4h0M774.1 543.5h0M415.3 818.6h0M742.5 578.4h0M766.6 544.4h0M679.1 607.2h0M358.6 868.5h0M724.7 602.5h0M572.4 738.7h0M457.8 843.6h0M650.4 620.3h0M187.3 1038.1h0M240.3 1023.8h0M596.5 720h0M519.1 729.1h0M580.1 737.1h0M728.6 565.2h0M593.5 667.6h0M659 616.2h0M578.2 738h0M558.9 699.4h0M752.9 560.6h0M657.6 663.5h0M374.8 912.1h0M218.8 1040.1h0M669.8 608.3h0M430.9 808h0M683.5 601.7h0M330.7 951.2h0M628.7 639.8h0M393.4 897.6h0M617.6 695.5h0M662.7 659.3h0M319.9 904.2h0M722 579.7h0M395.1 836.1h0M611.5 703.5h0M657 663.7h0M771.4 537.8h0M741 564.8h0M331.2 894.6h0M432.3 864.5h0M727.9 596.7h0M689 631.2h0M620.6 695.6h0M562.5 747.5h0M650.2 669.9h0M519.6 786.5h0M673.4 608.5h0M550.7 759.1h0M570.6 690.5h0M649.1 621.4h0M753.9 561.4h0M607.5 707.7h0M697.8 590.5h0M503.2 749.1h0M644.6 628.2h0M458.5 784.3h0M625.3 644.6h0M709.9 588h0M723.4 577.8h0M694.6 623.7h0M223.3 1036.2h0M600.6 663.6h0M769.5 544.6h0M580.8 734.5h0M657.4 663.3h0M738.1 571.2h0M538.2 768.1h0M686.5 631.7h0M354.1 930.9h0M629.7 640.2h0M278 993.6h0M337.6 888.1h0M586.8 726h0M658.5 660.9h0M261.7 1005.8h0M475.5 823.3h0M658.6 659.7h0M586.4 726.6h0M473 773.1h0M493.1 755.2h0M699.1 587.1h0M623.6 648.1h0M723.7 577.5h0M744.8 572.5h0M512.4 742.5h0M388.4 842h0M687.9 600h0M410.6 881.3h0M538.7 716.6h0M725.2 569.9h0M344.7 939.9h0M729.4 584.3h0M232 987.5h0M252.8 1012.7h0M465.3 835.7h0M626.5 693.1h0M279.6 992.3h0M560.6 702.6h0M745.7 569.9h0M509.4 798.5h0M742.6 572h0M329.3 897.5h0M316.5 965.2h0M420.2 814.4h0M480.4 768.2h0M364.4 921.7h0M729.3 571.3h0M651.1 661.1h0M719.5 596.7h0M393.4 839h0M730.7 570.4h0M655.6 659.3h0M487.2 761.2h0M328.7 952.4h0M446.6 850.8h0M630.3 642.4h0M665.2 656.6h0M448.2 848.3h0M729.6 569.1h0M598.2 716h0M721.4 596.2h0M600.4 714.9h0M356.3 929.4h0M355.6 873.8h0M511.9 744.6h0M422.4 815.2h0M638.7 679.2h0M422.8 813.6h0M535.9 770.5h0M464.6 835.1h0M701.3 590.6h0M629.6 690.8h0M346.4 881.3h0M242.6 978.2h0M241.6 1020.3h0M688.7 625.6h0M623.3 693.2h0M484.4 766h0M704.7 608h0M639.9 631.1h0M646.9 668.6h0M354.5 874.9h0M468.4 777.9h0M517 787.4h0M638.5 631.9h0M416 822.1h0M728.1 581.4h0M646.6 628.2h0M703.9 590.7h0M665.9 615h0M654.8 656.7h0M671.8 611h0M601.3 711.2h0M569.2 693.2h0M299.9 923.4h0M649.6 661.7h0M713.6 601.1h0M648.6 632.4h0M439.9 799.1h0M425.2 812.6h0M658 621.5h0M566.4 695.6h0M648.5 660.8h0M712 606.9h0M444.7 852.4h0M239 982h0M725.4 592.7h0M541.4 715.7h0M449.7 845.2h0M301.5 921.9h0M670.1 648.6h0M227.4 992.4h0M718.7 590.8h0M574.3 733.9h0M309.1 969.6h0M686.2 629.7h0M697.6 618.1h0M470.2 776.7h0M568.7 694.4h0M251 970h0M578.2 685h0M192 1035.6h0M520.1 782h0M687.6 605.2h0M282.2 989.7h0M630.3 687.1h0M407.1 828.7h0M651 630.9h0M565.2 699.1h0M469.6 830h0M324.8 902.1h0M704 602.9h0M616.8 693.6h0M381.7 905.9h0M706.5 598.7h0M391.7 840.1h0M514.6 742.1h0M372.2 859.2h0M310.5 913.5h0M244.8 1017.2h0M693.3 603.3h0M673.1 611.3h0M367.3 918.4h0M210 1013.1h0M272.3 948.6h0M472 824.6h0M549.7 753.9h0M575.3 731h0M251.4 1011.9h0M649.5 658.6h0M501.6 799.6h0M686.9 607.4h0M209.1 1041.1h0M277.8 992.5h0M688.7 606.6h0M481.2 818h0M557.9 708.3h0M587.9 676.8h0M616.9 691.9h0M701.6 591.1h0M363.5 868.6h0M465.3 834h0M690.7 606.3h0M645.9 637.3h0M514.5 787.3h0M358.9 925.2h0M535.1 721.5h0M684 631.4h0M512.7 790.5h0M578.7 728.7h0M693.1 605.6h0M247.8 1013.5h0M568.8 738h0M649.6 656.3h0M434 859h0M533.8 770.4h0M489.5 809.4h0M657.8 634h0M446.7 796.4h0M337.9 943h0M541.8 762.4h0M309.3 968.8h0M370.2 862.3h0M694.4 599.4h0M422.6 815.8h0M666.9 649.1h0M406.5 830.1h0M647.7 658.3h0M570.2 698.3h0M550.1 751.2h0M551.9 710.7h0M413.2 825.5h0M597.8 710.9h0M426.6 813.9h0M639.2 639.5h0M692.7 608.5h0M517.8 739.8h0M568.3 703.5h0M486.8 765.4h0M448.1 794.5h0M416.9 823.5h0M687.4 610.4h0M191.5 1045.3h0M629.5 651.7h0M692.2 607.8h0M680.7 637.7h0M534.5 723.8h0M661.2 637h0M194.4 1048.2h0M516 783.1h0M616.6 656.1h0M212.9 1037.6h0M402.1 887.3h0M659.7 650.3h0M374.3 909.2h0M204.9 1021.3h0M601.5 700h0M632 680.9h0M653.2 639.8h0M561.6 741.4h0M419.9 819.5h0M510.8 747.6h0M655.6 637.7h0M495.8 800.8h0M486.3 810.6h0M665.9 623h0M274.3 993.6h0M689 616.4h0M258.2 967.5h0M671.4 616.1h0M424.4 816h0M489.5 760.6h0M489.1 808h0M313.3 963.9h0M245.7 1014.3h0M457.8 836.7h0M244 978.8h0M610.5 667.2h0M504.4 797h0M667.9 632.2h0M350.4 879.5h0M410.4 828h0M348.9 932.5h0M512 786.6h0M624 681.4h0M669.6 625.2h0M676.9 614.4h0M242.9 1015.6h0M492.2 759.4h0M239.6 1019.9h0M647.8 655h0M251.1 971.9h0M379.8 904.8h0M524.8 775.3h0M603.3 673.2h0M594.8 675.5h0M675.6 635.1h0M507.5 752.5h0M305.5 921.1h0M252.6 1009.3h0M453.6 836.9h0M595 704.8h0M207.2 1018.3h0M251.6 972.4h0M615.6 686.2h0M581.5 693.4h0M576.2 703.3h0M567.2 710.1h0M383.3 901.8h0M201 1036.3h0M414.9 827.4h0M490.6 804.2h0M418.1 869.7h0M340.6 936.5h0M466.6 824.9h0M239.1 1016.8h0M489.3 769.3h0M257.2 970.3h0M504.8 779.4h0" stroke="#0000df" stroke-width="12.6" stroke-linecap="round" fill="none"/>
<path d="M701.3 575.2h0M776.7 547.4h0M389.1 838h0M464.9 776.1h0M475.3 830.3h0M644.4 677h0M540.7 771.8h0M254.6 963.9h0M240.9 1024h0M664.6 606.3h0M614.6 707.4h0M564.4 690h0M701.8 577.1h0M615.4 647.7h0M762.8 555.4h0M650.1 618.3h0M757.9 562.8h0M674.3 601.7h0M679.6 599.7h0M721 612.5h0M670.2 606h0M441.4 856.6h0M683.7 596.4h0M236.6 981.9h0M540.3 769.5h0M518 791.7h0M482.4 763.9h0M499.1 749.9h0M774.5 535.6h0M670.8 607.6h0M646.5 673.6h0M742.1 553.3h0M772.6 534.2h0M712 614.6h0M716.9 579.9h0M252.1 967.2h0M478 823.5h0M715.1 581.5h0M737.2 561h0M559.3 749.6h0M365 922.2h0M615.6 699.6h0M648 672.5h0M286 989.7h0M341.8 943.9h0M194 1052.6h0M541.4 714.3h0M268 951.1h0M754.1 562h0M773.5 537.1h0M746.7 565.5h0M676.3 607.8h0M465 836.8h0M444.1 793.6h0M674.8 649.3h0M642.9 624.9h0M719.9 605.3h0M516.1 792.3h0M598.2 664.1h0M485.3 815.6h0M655.6 619.9h0M390.6 899.1h0M371.5 914.6h0M750.2 570.9h0M526.9 781.8h0M283.7 991.4h0M460.6 782.2h0M737.2 575.7h0M183.1 1043.1h0M722.2 567.2h0M384.3 847.7h0M723.3 575.2h0M619 649.6h0M542.9 712.8h0M388.9 900.6h0M435.8 802.2h0M667.1 655.9h0M411.3 882.2h0M451.9 847h0M626.7 645.1h0M677.5 646.5h0M560.9 701.9h0M344.9 940.6h0M543.3 765.1h0M305.7 974h0M446.8 851.7h0M474.4 827.4h0M681.8 643.7h0M650.1 623.2h0M434.3 861h0M725.5 598.4h0M653.3 622h0M736.9 566.5h0M708.6 587.6h0M533.2 773.8h0M656.7 619.2h0M722.1 568.4h0M632.6 634.7h0M739.1 571.2h0M690.2 597.6h0M566.1 693.5h0M728 575.4h0M287.3 987.3h0M331.7 894.1h0M712.3 611h0M704.5 609h0M611 658.3h0M610.6 702.9h0M724.5 580.8h0M340.5 943.7h0M656.4 622.5h0M630.9 641h0M415.2 878.5h0M207 1043h0M512.2 794.2h0M448.1 848.5h0M624.2 648.7h0M568.2 692.7h0M650.9 663.5h0M388.1 901h0M703.1 589.6h0M673.6 610.1h0M727.6 589.1h0M484.3 813.7h0M387.5 843.5h0M461.8 836.7h0M245.3 974.5h0M612.4 655.1h0M389.9 898.7h0M685.6 606.4h0M374.2 911.2h0M570 738.4h0M520.7 731.8h0M680.6 609.2h0M501.2 752.3h0M506.6 798.8h0M515.8 738h0M521.8 782.1h0M467.5 832.2h0M295.8 926.1h0M589.2 673.5h0M225.3 1033.7h0M712.8 611.2h0M615.8 653.5h0M602.9 663.3h0M723.7 582.6h0M626 648.4h0M433 861.7h0M456 787.1h0M386.8 845.5h0M698.6 616.4h0M496.2 754.4h0M580.6 683.4h0M727.6 587.1h0M674.6 644.3h0M464.5 781.2h0M545.9 761.9h0M389.9 842.3h0M527.8 777.7h0M343.4 884.3h0M355 929.8h0M586.9 675.7h0M629.3 647.1h0M265.8 1002.6h0M260.9 959.8h0M676.6 610.9h0M642.5 669.5h0M418.6 874.7h0M633.2 640.9h0M525.3 778.9h0M728.8 567.5h0M602.3 707.5h0M376.5 855.9h0M719.7 588.6h0M434.8 806.4h0M713.7 595.9h0M681 610.1h0M397.7 836.3h0M488.4 761.6h0M611.6 699.5h0M592.4 719.9h0M256 1009.8h0M458.6 785.9h0M366.1 919.8h0M547.1 713.4h0M491.1 757.2h0M380.2 907.1h0M325.6 954.4h0M691.8 604.5h0M719.5 593.6h0M700.6 607.2h0M697 614.6h0M556.2 748.9h0M293.9 981.3h0M720.6 591.1h0M532.1 773.2h0M549.3 712.6h0M700.3 607.8h0M581 726.2h0M494.3 755.9h0M414.6 876.2h0M305.9 972h0M611.9 661.6h0M540.7 717.2h0M352.2 930.9h0M576.2 688.4h0M297 977.8h0M704.3 602.3h0M681.2 641.6h0M577 687.1h0M480.1 770h0M510.4 747.2h0M346.9 936.3h0M263.7 1003h0M249.4 970.8h0M324.2 902.9h0M416.2 875.2h0M246.1 1015.3h0M391.8 896.6h0M545.6 761.4h0M489.6 759.3h0M284.3 939.4h0M507.3 748.9h0M638.6 671.9h0M634 678.8h0M604.1 665.8h0M429.1 812.2h0M405.9 883.9h0M377.5 855.5h0M660.1 624.4h0M655.9 632.6h0M366.8 865.9h0M654.1 656.9h0M540.6 763.8h0M610.5 698.7h0M544.5 715.5h0M611.5 694.9h0M700.4 592.9h0M684.8 623.8h0M457 787.9h0M702.1 602.5h0M520.9 734.7h0M208.6 1039.8h0M608.7 702.6h0M607.9 699.9h0M435.8 805.8h0M390.1 897.3h0M445.7 848.7h0M518.4 782h0M623.6 690.8h0M206 1017.6h0M604.9 702.1h0M679.5 612.3h0M439.1 854.1h0M651.6 632.3h0M694.1 610.4h0M236.6 1024h0M318.4 907.5h0M257.7 965.3h0M211.4 1038.8h0M331.1 948h0M643.5 661.3h0M277.5 944.1h0M413.8 876.1h0M571.7 735.6h0M635.8 675.8h0M532.2 728.2h0M226.9 994.3h0M685.9 610.4h0M299.1 975.9h0M398.1 837.3h0M363.6 920.4h0M618.3 690.4h0M386.8 900.9h0M672.6 642.1h0M361 922.5h0M691.4 607.9h0M665.8 632.2h0M444.5 850.4h0M193.8 1033.2h0M415 875.2h0M494.5 757.5h0M639.2 640.1h0M679.9 640.1h0M447.7 846h0M607 666.1h0M563.6 741.4h0M495 802.3h0M329.6 899.1h0M258.7 963.9h0M631.7 650.6h0M341.6 939.9h0M541.6 717.6h0M506.9 750.9h0M659.4 654.4h0M581.8 685.5h0M693.6 614.7h0M462.6 834.7h0M395.6 892.9h0M649.6 645.4h0M505.3 752.6h0M590 718h0M240.7 1019.8h0M664.1 624h0M211.9 1011.3h0M678.5 639.6h0M645.4 658h0M475.3 775.1h0M257.4 967.2h0M562.9 742.8h0M354.7 927.7h0M455.9 838.9h0M570.7 734.9h0M465.2 831.4h0M553.3 748.9h0M659 640.4h0M534.3 725.8h0M689.7 617h0M661.2 644.8h0M253.8 1010h0M333.5 894.2h0M564.1 738.8h0M578.6 688.5h0M680.7 635.7h0M508.6 794.4h0M574.4 695.8h0M537.1 763.5h0M293.2 980.2h0M653.8 635h0M209.2 1015.4h0M654.8 636h0M304.9 971.3h0M657 637.9h0M619.6 686.4h0M432.6 858.6h0M615.4 659.3h0M531.4 771.5h0M406 881.9h0M651 653.7h0M308.9 967.6h0M193.3 1039.7h0M360 871.3h0M252.7 970.9h0M547.7 753.2h0M424.1 867.3h0M300.3 974.6h0M319.8 960.4h0M307.9 917.2h0M322.1 905h0M635.2 637.6h0M422.3 868.8h0M641.8 648.3h0M606.1 694.3h0M445.1 847.7h0M478.6 816.9h0M605.5 669.4h0M579.2 691.3h0M604.8 698.6h0M214 1037h0M642.4 650.1h0M636.9 648.4h0M552 711.6h0M239.3 982.9h0M255.6 969.3h0M613.7 660.1h0M418 872.9h0M533.2 769.6h0M331.4 947h0M198 1043.8h0M220.9 1033h0M526.5 735.3h0M645.2 650.3h0M428.8 814.4h0M201.4 1026.3h0M348.8 932.3h0M377.3 907.6h0M668 619.8h0M627.4 656.2h0M291.5 980.9h0M256.7 969.4h0M568.4 707.9h0M624.3 679.9h0M597.1 704.1h0M569.3 733.8h0M532.2 732.7h0M413.3 874.9h0M352.8 929.5h0M306 969.9h0M292.8 979.5h0M504.5 754h0M547.9 750.7h0M210.1 1037.2h0M450.1 795.6h0M653 642.9h0M636.6 649.6h0M632.9 651.4h0M464.9 829.5h0M613 666.7h0M423.1 867.8h0M669.9 624.5h0M569 707.4h0M369.5 864.6h0M670.2 637h0M469.6 822.2h0M579.3 692.5h0M457.3 789.6h0M587.5 680.9h0M249.7 1010.8h0M234.4 1023.9h0M278.4 989.7h0M584.6 715.7h0M280.8 988.5h0M523.8 737.3h0M255.7 970.3h0M505.3 794.5h0M579.3 697.7h0M436.8 807.6h0M529 735.3h0M401.2 885.3h0M492.1 803.1h0M412.4 828h0M490.2 763.7h0M504.3 795.1h0M570.6 727h0M429 815.4h0M238.4 1019.6h0M518.5 742h0M340 938.9h0M506.3 754.6h0M431.5 813.7h0M495.2 800h0M522.3 739.8h0M216.5 1034.9h0M596.4 700.6h0M592 677.4h0M584.9 712.2h0M280.3 987.7h0M205.5 1022.7h0M630.5 674.1h0M509.3 786.2h0M249.8 973.9h0M271.7 996h0M407.8 831.5h0M580.1 698h0M548.2 719.4h0M586 693.1h0M489 805.6h0M584.2 716h0M523.2 773.9h0M636.9 651.1h0M546 752.1h0M489.6 805.2h0M542.7 752.7h0M625.2 677.5h0M542.9 720.5h0M530.7 738.3h0M479.2 776.3h0M568.4 725.5h0M625.7 661.5h0M556.3 715.7h0M591.6 706h0M418.2 870.8h0M277.6 988.6h0M434.8 854.2h0M560.7 738.8h0M559.8 742.1h0M373.2 861.9h0M536.4 758.3h0M310.6 916.9h0M277.6 946.2h0M469 783.8h0M252.6 972.6h0M593.5 700.9h0M232.4 991.2h0M499.4 795.1h0M584.5 706.9h0M320.1 954.8h0M509.8 780.4h0M554.2 744.3h0M308 965h0M221.3 1002.9h0M462.7 827.8h0M433.6 815.4h0M555.6 743.3h0M219.9 1030h0M287.2 980.5h0M513.2 755.1h0M527 740.6h0M616.1 682.2h0M357 920.9h0M435.3 851.9h0M453.2 833.7h0M586 697h0M587.2 701h0M531.5 752.9h0M441.7 845.5h0M227.6 1023h0M429.3 854.6h0" stroke="#0000fa" stroke-width="12.6" stroke-linecap="round" fill="none"/>
<path d="M770 528.3h0M765.8 536.7h0M716.2 578.5h0M727.7 600.9h0M456.5 783.7h0M460.3 842.7h0M704.1 582.8h0M552.1 705.2h0M593.1 725.4h0M749.8 553.4h0M273 944.9h0M636.7 684h0M732.1 585.9h0M637.1 629.4h0M634.8 685h0M740.6 563.7h0M331.3 893.1h0M347.2 878.5h0M464.4 838.4h0M701 622.9h0M754.7 557.6h0M752.7 558.7h0M312.5 968.6h0M671.6 654h0M520.4 729.3h0M372.5 857.5h0M570 689.8h0M702.9 584.8h0M711.5 614.8h0M699.1 584.3h0M518.2 789.1h0M629.5 641.3h0M451.3 788.7h0M561.6 700.7h0M253.2 967.3h0M731 571.9h0M204.2 1017.5h0M372.4 912.9h0M700.7 613.8h0M475.3 824.6h0M702.5 587h0M632.8 634.3h0M391.2 840.2h0M557.1 704h0M296.8 980.9h0M648.7 625.1h0M727.2 594.4h0M569.8 691.5h0M617.6 694.6h0M654.5 661.4h0M690.3 628.1h0M714.8 606.5h0M336.8 889.1h0M700.8 589.9h0M653 625.9h0M698.6 619.7h0M744.5 571.8h0M658.4 621.2h0M427.7 866.3h0M707.5 592.5h0M532.8 721.5h0M376.6 909.7h0M300.3 976.5h0M499.9 801.5h0M487.6 760.8h0M659.7 658.9h0M697.7 622.1h0M437.7 801.8h0M725.7 583.4h0M472.8 774.6h0M715.5 588.1h0M626.8 647.7h0M703.1 607.2h0M716.5 591.4h0M341.8 941.1h0M547.6 759h0M355.4 874.5h0M638.9 632.7h0M672.6 651.4h0M557.1 707.6h0M451.9 789.5h0M612.7 658.8h0M664.1 618.2h0M491.2 808.7h0M283 989.5h0M552.9 751.1h0M292.9 982.9h0M295.1 980.9h0M662.1 656.5h0M724.5 588.2h0M362.7 921.6h0M240.2 1022.2h0M594.7 715.9h0M726 585.8h0M627.5 648.8h0M573.4 690.7h0M466.2 832.8h0M533.1 771.1h0M295.1 927.2h0M473.1 824.7h0M681.6 641h0M517.7 738.2h0M639.7 672.5h0M515.9 787.6h0M475.8 820.7h0M553.1 709.2h0M567.2 695.9h0M665.8 619.8h0M675.8 642.5h0M444.3 851.3h0M199.7 1046.8h0M581.7 684.3h0M613.5 659.2h0M716.3 592.1h0M602.7 706h0M417.6 820.6h0M535.7 720.2h0M572.2 692.8h0M322.2 904.1h0M567 740.2h0M469.2 778.4h0M686.5 627.2h0M660.6 654.7h0M641.7 633.8h0M667.1 653.8h0M470.5 826.8h0M496 755.8h0M650.8 635.3h0M486 766h0M683.1 627.8h0M696.9 607.3h0M329 949.9h0M382.7 905.1h0M214.3 1038h0M698.4 595.1h0M596.5 669.8h0M275.2 946h0M197.6 1028.3h0M599.2 708.5h0M649.2 638.2h0M506.2 796.6h0M540.4 718.5h0M472.5 823.1h0M470.3 779.1h0M632.3 648.2h0M635.7 634.5h0M567.1 737.8h0M658.7 636.3h0M576.1 691.7h0M292.2 931.4h0M540.7 717.7h0M562.5 708.3h0M462.6 785h0M609.6 694.1h0M505.4 751.6h0M571.5 696.6h0M684.6 620.1h0M316.4 962.9h0M314.2 910.5h0M615.2 691.7h0M218.8 1036.3h0M639 661.8h0M682.5 627.5h0M454.1 789.1h0M660.7 649.1h0M565.6 708.4h0M241.3 980.1h0M616.8 690.2h0M419 872.5h0M388.4 899.2h0M587.4 723.5h0M512.2 787.9h0M513.4 746.5h0M408.4 828.9h0M436.5 806.1h0M332.5 895.9h0M447.2 845.7h0M487.2 766.3h0M430.5 812.4h0M692.4 609.1h0M286.7 938.5h0M530.7 729.6h0M487.1 766.7h0M580.1 725.5h0M637.1 640.1h0M505.3 795.9h0M618.3 689.2h0M225 997h0M666.4 636.7h0M585.6 680.3h0M531.5 771.6h0M599.2 668.6h0M554.1 747.7h0M650.6 655.4h0M384.7 850.4h0M638.3 636h0M684.4 612.1h0M590.4 719h0M283.1 987.8h0M570.5 700.6h0M655.4 649.8h0M250.2 971.5h0M651.8 643.5h0M225.4 1031.2h0M634 674.9h0M679.6 612.9h0M464.2 832h0M623.5 688.4h0M324.6 952.7h0M286 985.3h0M616 658.1h0M450.2 794.1h0M529.9 772.7h0M552.1 748.7h0M228 1028.5h0M656.5 640.8h0M481.5 770.2h0M576.7 694.5h0M637.5 665.2h0M609 694.7h0M419.4 820.4h0M539.6 760.7h0M489.8 761.5h0M533.7 727.5h0M432.6 811.3h0M499 756.4h0M476.2 820h0M566.5 735.7h0M508.3 749.9h0M470.5 823.6h0M645.5 655.8h0M417.9 822.8h0M529.7 733.4h0M657.7 638.9h0M468.8 825.8h0M198.9 1027.8h0M489.6 763.4h0M261.4 960.8h0M331.4 898.5h0M678.9 629.1h0M668.6 636.4h0M591 675.1h0M362.1 870.6h0M502.2 755.4h0M257.7 967.8h0M613.2 665.1h0M537.4 723.2h0M587.5 721.2h0M459.3 787.8h0M623.9 684.3h0M494.1 802.9h0M546.8 754.5h0M393 894.5h0M614.2 688.6h0M630.5 676.8h0M398.4 889h0M550.3 714.2h0M531.7 770.6h0M579.8 723.5h0M527.1 774.3h0M604.2 696h0M288.8 936.5h0M669.7 631.4h0M637.3 668.1h0M232.4 989.6h0M403.4 885h0M454.9 790.9h0M604.4 672.4h0M612.9 689h0M280.8 988.9h0M596.3 673.4h0M676.6 616.9h0M502 796.6h0M465.5 785h0M585.3 722.4h0M569.9 730.9h0M590.1 709.3h0M536.2 728.5h0M672.8 625.7h0M608.4 690.3h0M683.4 614.3h0M685.5 614.5h0M342.8 937.8h0M221.6 1001.1h0M474.3 778.1h0M491.8 759.8h0M471.5 821.3h0M676.7 635.2h0M647.1 654.7h0M490.8 806.5h0M355.1 925.9h0M275.9 991.1h0M671.9 619.2h0M561.8 738.3h0M582.1 690.4h0M640.3 656.7h0M597.9 672.5h0M576.4 698.2h0M198.8 1037.7h0M374.2 860.2h0M622.4 657.8h0M647.9 653.5h0M635.9 655.3h0M270.3 997.6h0M319.4 908.3h0M341.3 888.3h0M322.3 954.6h0M568.3 730.8h0M670.5 632.6h0M463 787.1h0M223.6 1030.7h0M203.5 1037h0M673.9 627.7h0M645.2 651.2h0M427.2 860h0M537.9 760.7h0M599.6 697h0M203.2 1026.5h0M615.4 666.7h0M563.4 710.9h0M613.2 688h0M419.1 824h0M321.8 954.3h0M529.7 770h0M228.8 994.4h0M370.1 911.8h0M539.9 722.8h0M560.9 711.6h0M579.4 722.4h0M528 772.9h0M332.4 898.3h0M412.2 828.9h0M248.6 974.7h0M256.1 970.7h0M422.5 818.7h0M585.9 688.3h0M603.4 692.6h0M515.4 748.1h0M527.3 771.8h0M576.8 703h0M260.4 964.5h0M230.1 993.2h0M618.4 659.8h0M328 902.5h0M318.3 959.8h0M604.9 690.6h0M478.7 815.2h0M590.6 679.3h0M630.1 671.1h0M541.4 732.7h0M465.9 825.5h0M508 788.1h0M533.5 765.3h0M229.7 1025.7h0M576.3 720.7h0M617.4 664.2h0M521.1 741.2h0M246.5 977.8h0M462.5 787.8h0M383.2 900.7h0M537.8 738.9h0M623.9 661.7h0M421.8 867.3h0M398 887.8h0M462.7 787.9h0M440.1 806h0M621.3 661.5h0M333.2 943.2h0M389.9 845.7h0M516 748h0M629.3 670.7h0M396.3 889.6h0M525.4 738.2h0M626.1 664.4h0M610.9 687.8h0M245.1 1011.8h0M528.9 736.4h0M399.6 885.6h0M207 1034.4h0M451.1 839.4h0M538.6 754.9h0M529.2 738.2h0M551.3 743h0M464 829.2h0M203.3 1028.6h0M446.8 842.2h0M540.2 751.4h0M240.5 1014.2h0M636.1 651.5h0M283.9 983.3h0M233.7 1021.7h0M210.2 1033.4h0M530.1 767.9h0M610 687.3h0M542 748h0M331.2 943.7h0M518.9 776h0M554.3 721.1h0M236.7 1018.9h0M399.2 839.1h0M625.2 674.8h0M620 668.1h0M546.9 722.7h0M464.9 823.9h0M627.4 665.2h0M575.6 706.3h0M261.6 1001.7h0M602.7 689.3h0M357.4 878h0M430.7 856.7h0M593.2 701.8h0M422.4 823.2h0M291.8 935.5h0M294.3 974.7h0M556.5 742.1h0M339.5 936.9h0M494.8 795.2h0M466.5 820h0M580.9 716.4h0M268.5 996.2h0M561.7 718.6h0M514.4 754h0M475.4 817.5h0M238.5 1013.4h0M583.8 703.9h0M568 711.2h0M487.8 804.7h0M438.8 810.3h0M448.7 801.7h0M563.4 714.6h0M226.8 999.5h0M604.3 686h0M611 679.9h0M545.2 734.4h0M316.3 958h0M235.4 1017.5h0M274.6 989.3h0M352.4 882.1h0M548.9 738.5h0M407.3 876h0M552.9 739.1h0M441.3 808.9h0M249.5 976.2h0M382.9 856.4h0M414 831.6h0M431.1 854.7h0M537.1 746.7h0M335.7 897.2h0M400.6 881h0M459.1 793.7h0M300.4 928.5h0M499 785.5h0M514 765.2h0M549.1 735.6h0M278.3 948.8h0M537 744.5h0M380.7 899.5h0M249.4 979.5h0M377.6 864.5h0" stroke="#0001ff" stroke-width="12.6" stroke-linecap="round" fill="none"/>
<path d="M690 628.9h0M380.8 852.1h0M604.3 710h0M555.2 750.6h0M426.9 868.6h0M699.3 585h0M485.7 812.7h0M332.6 949h0M327.9 898.4h0M620.3 649.7h0M239.3 981.2h0M297.3 979.7h0M733.5 568.4h0M509.9 796.3h0M565.4 697.6h0M330.1 896.6h0M654.4 628.9h0M470.5 776h0M715.1 603.6h0M649.3 667.9h0M679.9 643.3h0M713.6 610h0M480.4 818.5h0M420.3 816.9h0M325.8 901h0M317 963.4h0M613.5 656h0M437 803.8h0M362.8 867.8h0M531.6 726.2h0M444 797.9h0M440.3 801.1h0M304.1 919.9h0M683.2 635.2h0M383.6 905.1h0M359.7 924.4h0M549.2 711.1h0M667.4 654.6h0M552.1 709.8h0M341.6 886.2h0M621.4 653h0M530.1 775.1h0M521.9 732.3h0M561.1 745.9h0M690.3 619.7h0M604.4 705.4h0M670.3 612.3h0M257.2 1008h0M635.3 680.6h0M261 1004.8h0M564.6 742.4h0M722.4 589.9h0M592.8 716.8h0M568.7 695.4h0M569.5 695.8h0M664.1 651.2h0M436.5 856.4h0M634.4 642h0M641.3 666.1h0M600 708.1h0M662 621.9h0M619.8 653.8h0M617.3 653.4h0M542.5 761.2h0M409 881.2h0M702.2 596.3h0M547.5 715.3h0M529.5 774.2h0M265.5 956h0M607.5 700.1h0M240.1 1021h0M556.5 708.6h0M251 970.7h0M572.6 733.3h0M521.2 780h0M287.6 937h0M566.1 737.3h0M618.7 690.7h0M596.1 711.2h0M334.7 945h0M666 628h0M647.8 656.9h0M492.7 805.8h0M427.5 864.5h0M369.2 864.4h0M544.1 716.9h0M692.2 616.9h0M443.4 800.2h0M700 595.9h0M682.4 624.8h0M635.2 647.8h0M608.3 667.5h0M364.8 868.4h0M550 713.1h0M535.7 767.5h0M520.9 737.8h0M676.5 640h0M594.8 710.1h0M312 912.9h0M626.6 689.8h0M327.9 900.7h0M420.7 818.3h0M664.4 621.7h0M404 884h0M259.7 1005.4h0M343.8 885.5h0M560.8 709.9h0M387.5 846h0M658.7 642.9h0M215.1 1036.2h0M366.2 866.9h0M334 945.7h0M628.1 654h0M592.1 708.8h0M680 637h0M637.5 671.4h0M569.5 703.3h0M615.1 690.4h0M207.1 1039.8h0M529.2 773.1h0M622.6 656.5h0M236.6 1022.8h0M514.1 783.4h0M658.6 643.7h0M690.3 609.1h0M684.9 612.6h0M265.9 956.6h0M653.6 649.8h0M410 878.3h0M343.4 886.1h0M443.3 850.2h0M377.7 857.1h0M199.6 1028.2h0M311.5 914.5h0M544.2 718.6h0M249 1011.8h0M413.3 827.4h0M601.8 668.5h0M399.1 888.2h0M681.7 624.3h0M631.6 674.8h0M588.4 679.2h0M597.7 701.9h0M584.6 688.1h0M676.6 616h0M374.3 859.5h0M461.9 785.8h0M365.6 868.5h0M581.1 724.1h0M243.7 1014.5h0M554.9 713h0M604.5 672.3h0M645.2 656.2h0M679.7 626h0M675 616.9h0M266.3 1000.6h0M599.1 671h0M470.2 781.9h0M528.5 734.3h0M615.1 688.3h0M241.5 1016.3h0M263.8 958.6h0M628.5 677.5h0M219.2 1032.8h0M328.2 901.6h0M254.2 1009h0M502.3 756.5h0M669.5 634h0M451.6 840.3h0M510 786.2h0M573.5 724.8h0M347 933.8h0M499.8 798.7h0M300.5 973.4h0M629 677.4h0M625.5 679h0M574.1 704.2h0M553.8 715.5h0M353.2 878.6h0M461.7 832.5h0M488.2 767.8h0M291.6 979.6h0M311.5 964.2h0M452.7 839.3h0M541.3 758.2h0M412.2 874.5h0M504.2 755h0M498.5 799.1h0M675.2 628.6h0M438.7 805.3h0M276.4 989.8h0M335.3 893.7h0M398.3 838.3h0M449.6 797.4h0M480.4 773.5h0M527.8 736h0M486.6 769.5h0M287.2 938.6h0M584.3 717h0M464.7 828.9h0M404.7 882.4h0M650.5 647.8h0M340 889.2h0M247 976.6h0M569.3 727.9h0M493.4 761.7h0M502.9 794.2h0M396.6 889.5h0M212.6 1012.5h0M626.7 678.3h0M633.7 652.6h0M556.1 712.5h0M460.6 832.9h0M587.3 689.2h0M514 781.5h0M403.6 882.5h0M627.8 675.7h0M532 766.6h0M298.5 927.3h0M545.6 719.2h0M581.4 696.2h0M538 729h0M589.3 686.4h0M227.2 996.4h0M597.2 675.3h0M445.1 800.3h0M640.5 652.5h0M414.9 873h0M436.9 809.1h0M424.6 864.3h0M353.8 878.7h0M539.3 727.6h0M506 789.6h0M498.1 797.8h0M366.4 869.1h0M514.9 778.8h0M583.3 715.2h0M303.7 970.6h0M335.6 940.5h0M583.1 695.3h0M472.2 819.4h0M594.6 678.8h0M542.6 745.9h0M200.9 1033h0M631 669.8h0M580.5 699.4h0M435.5 812.8h0M495.7 796.6h0M542.5 721.8h0M561.4 713.1h0M391 845h0M385.3 853.3h0M561.5 733.1h0M420.5 868.4h0M488.3 769.7h0M322.6 952.3h0M476.4 778.1h0M559 736.1h0M518.2 743.5h0M461.7 830.4h0M540.9 728.2h0M572.2 707.4h0M376.7 859.5h0M426.4 860.7h0M265.8 1000h0M340.2 889.7h0M524.9 771.6h0M509.9 780.6h0M402.5 836.4h0M520.7 774.9h0M565.7 724.7h0M322.9 951.3h0M441.3 846.7h0M241.3 1012.1h0M528.1 740.1h0M587.4 694.1h0M603.7 678.8h0M558.9 714.9h0M559.4 717.7h0M217.7 1031.1h0M504.3 789.6h0M463.9 788.4h0M591 705h0M235.3 1019.3h0M352.6 925.7h0M619.7 677.2h0M351.4 926.5h0M554.6 743.6h0M283.1 983.4h0M596.7 693h0M349.2 929.5h0M490.8 768.2h0M260.5 1002.7h0M270.7 954.2h0M309.1 963.5h0M539.6 749.4h0M546.3 727.9h0M622.7 673.5h0M436.1 813.2h0M488.8 802.9h0M560 717.7h0M419.6 867.7h0M584.9 697.9h0M592.8 700.6h0M560.3 733.3h0M359.2 875.8h0M525.1 741.2h0M590.3 682.4h0M572.7 718.6h0M259.7 967.7h0M460.6 830.1h0M450.1 800.8h0M544.1 736.5h0M354.3 923.8h0M389.5 893.7h0M248.1 977.1h0M288.8 979.1h0M558.5 726h0M489.3 802.4h0M411.1 872.6h0M500 793.8h0M476.2 816h0M422.5 864.6h0M269.6 994.2h0M318.4 956.9h0M321.3 909.2h0M562.7 732.1h0M612.6 680.5h0M422.3 825.7h0M287.9 979.4h0M372.9 864.5h0M429.4 817.4h0M360.8 875.2h0M612.2 684.7h0M496.6 792.6h0M314.2 914.5h0M531.1 758.4h0M469.8 817.9h0M257 1004.5h0M305 967.3h0M546.1 737.3h0M460.7 791.6h0M312.2 960.5h0M389.9 892.7h0M227.1 1023.8h0M432.4 816.7h0M323.8 908h0M510.5 757.4h0M610.8 684.2h0M449.6 835.8h0M263.1 1000.7h0M443.2 842.5h0M333.7 937.8h0M293.2 934.8h0M610.6 682.2h0M393 889.7h0M312.9 958.8h0M347.6 928.3h0M297.7 930.2h0M559.6 727.5h0M265 961h0M476.6 810.7h0M460 825.1h0M383.5 856.7h0M491.6 769h0M488.6 796.6h0M297.3 931.1h0M497.8 764.1h0M331 902.6h0M496.8 790.2h0M291.2 975.2h0M345.5 929.6h0M571 712.3h0M232.8 993.6h0M461.8 818.5h0M525.6 760.9h0M530 744.4h0M249.2 1006.2h0M477 808.7h0M378.6 898.3h0M505.1 776h0M265.3 996.8h0M439.4 816.9h0M471.3 814.8h0M342.8 930.7h0M356.4 915.3h0M380.2 863h0M446.1 810.7h0M470.9 791.4h0M502.5 767.7h0M462.1 813.8h0" stroke="#0019ff" stroke-width="12.6" stroke-linecap="round" fill="none"/>
<path d="M748.9 567.6h0M407.7 826.6h0M525.4 728.8h0M521 784h0M433.6 805.2h0M300.4 922.1h0M318.3 964.4h0M721.1 594h0M578.7 731h0M456.7 840.9h0M693.2 598.2h0M670 652.7h0M688.4 602.1h0M627.6 648.3h0M472.2 826.5h0M623.6 651.3h0M628.9 653h0M494.7 805.7h0M554.8 748.8h0M576.5 689.9h0M420.9 816.3h0M703 604.9h0M317.1 908h0M446.4 848.2h0M510.7 793.4h0M693.8 616.7h0M339.5 941.1h0M234.1 1025.3h0M231.1 1027.1h0M190.8 1042.6h0M671.8 615.3h0M558.9 745.8h0M661.2 652.1h0M667.5 618.6h0M636.1 639.6h0M648.6 647.1h0M521.6 738.2h0M669.9 616.5h0M336.1 890.9h0M476.9 773.3h0M630.4 652.9h0M632.7 676.7h0M631.6 677h0M260.2 961.4h0M452.2 791.8h0M571.9 700.8h0M358.7 923.7h0M639.5 668.5h0M244.4 1015.5h0M251.5 970.9h0M204.9 1040.3h0M299.8 974.4h0M428.5 860h0M429.4 813.1h0M653.9 646.4h0M517.2 780.6h0M296.9 975.9h0M238.8 1020.8h0M276.9 945.7h0M449.5 795.5h0M538.1 762.3h0M559.4 710.8h0M474.4 819.4h0M689.3 612h0M466.5 827.7h0M470 779.6h0M570.7 730.7h0M238.4 1021.1h0M603.5 695.2h0M677 638.6h0M274.2 992.7h0M636.6 637.7h0M689.4 611.5h0M677.1 625.2h0M336.3 892.5h0M416.2 825.5h0M262.4 960.4h0M634.4 651h0M637.7 667.5h0M671 627.3h0M466 829.2h0M634.7 671.5h0M466.9 783.5h0M488.5 807.8h0M672.4 625.6h0M459.4 789.2h0M461.6 787.1h0M381.5 903.5h0M589 719h0M642.5 655.7h0M358.5 922.6h0M460.6 788.4h0M569.6 728.2h0M235 1023.1h0M468.1 826.7h0M382.1 854.1h0M526.3 774.4h0M431.9 813.2h0M632.3 671.6h0M617.4 661.5h0M202.3 1038.2h0M591.1 676.7h0M240.3 1016.5h0M380.6 904.4h0M620.4 681.3h0M502.2 796.1h0M346.6 884.5h0M362.5 919.4h0M500.4 758.3h0M315.2 911.4h0M328.3 948.6h0M487.7 807.3h0M271.7 951.1h0M220.1 1002.4h0M350.7 930.2h0M542.5 720.6h0M536.8 727.7h0M575.2 704.3h0M502.2 795.3h0M534.5 763.6h0M492.5 763.1h0M381.4 855.4h0M361.7 919.7h0M500 796.1h0M332.7 943.9h0M578.2 703.2h0M567.5 709.5h0M520.5 776.5h0M590.6 707.1h0M456.7 834.4h0M581.8 719.2h0M335 942.2h0M442.4 803.6h0M634.8 667h0M302.5 924h0M309.8 964h0M226.7 997.5h0M410.8 830.4h0M237.3 1019.7h0M601.1 693.7h0M581.1 720.9h0M541.7 754.6h0M479.3 813.9h0M310.8 916.1h0M531.2 767.4h0M541.3 754.9h0M323.9 905.4h0M279.1 988.2h0M337.8 891.8h0M596 698.2h0M611.5 677.6h0M619.5 664.4h0M541.8 753.2h0M245 978.8h0M540.5 752.3h0M387.2 897.6h0M498.5 797.3h0M320.5 908.2h0M294.4 931.2h0M387.2 849.9h0M632.4 667.2h0M339.5 937.7h0M397.2 840.1h0M603 691.6h0M600.3 693.2h0M406 879.4h0M443.4 845.1h0M481.1 811.4h0M606.4 687.7h0M594 703.6h0M593.9 702.7h0M625.4 676h0M397.1 888.9h0M254.6 1007.1h0M284.5 941.2h0M413.8 828.8h0M461.3 831.2h0M539.7 739.7h0M452.2 796.4h0M551.7 719.2h0M624.3 666.1h0M590.8 706.2h0M238.5 985.3h0M632.2 667.8h0M509.1 754.1h0M581.4 700.4h0M612.8 678.4h0M590.4 686.8h0M200.6 1031.9h0M617.7 670.8h0M253.8 1007.3h0M317.1 960h0M582.9 696.4h0M218.6 1005.7h0M386.6 897.2h0M330.2 945.4h0M514.3 750h0M411.6 873.3h0M368.5 867.5h0M405 880.1h0M250.1 974.9h0M251.7 1008.6h0M500.2 759.2h0M398.2 887.3h0M404.2 835.8h0M592.9 703.6h0M315.6 959.3h0M524.1 771.9h0M353.4 879.5h0M389.9 894.7h0M497.3 795.8h0M504.8 788.2h0M483.2 809h0M526.9 770.2h0M551.8 723.3h0M490 800.7h0M538.1 754.2h0M509.6 753.1h0M534.1 754.9h0M288.9 939.3h0M619.6 671.6h0M591.8 703.3h0M445.5 803.4h0M586 705.6h0M608.7 686.8h0M252.6 1007.7h0M346.8 931.8h0M462.7 826h0M444.6 841.9h0M307.6 921.3h0M604.4 688.1h0M388.3 849.9h0M502.4 791.5h0M204.5 1031.8h0M453 834.7h0M261.1 1001.6h0M505.4 756.4h0M222.3 1002.5h0M609.4 678.8h0M208.5 1031.1h0M391.5 891.7h0M448.9 838.5h0M525 766.9h0M370.6 866.4h0M537.6 742.8h0M495 764.3h0M482 774.3h0M503.2 788.3h0M332.8 900.2h0M386.8 852.8h0M210.4 1019.1h0M357.6 920.1h0M510.9 754.7h0M374.8 905.8h0M352.2 925.8h0M494.1 765.4h0M221.5 1026.2h0M241.6 1010.8h0M223 1002.5h0M414.2 830.3h0M340.4 891.3h0M483 774.3h0M286.2 980.1h0M401.4 838.4h0M236 1015.6h0M605.2 682.8h0M393.6 889.9h0M461.8 790.1h0M589.9 695.9h0M493.4 766.4h0M376.1 903.9h0M365.8 914h0M567.5 712.5h0M276.5 948.8h0M567.5 719.2h0M556.8 727.3h0M358.5 877.3h0M268.6 994.8h0M278 987.1h0M348.4 928.6h0M486.5 804.3h0M589.3 701.6h0M265.8 999.1h0M574.7 709h0M236 1014.8h0M283.9 981.9h0M247 979.1h0M218.1 1009.2h0M224.7 1024.4h0M444.2 807.3h0M536.1 743.2h0M218.9 1024.7h0M504.1 779.4h0M421.3 826.6h0M439.1 847.6h0M223.2 1023.9h0M555.7 735.1h0M238.7 987.8h0M494.7 793.1h0M354.2 881.9h0M524.2 759.9h0M219.4 1023.3h0M306.3 963.6h0M488.8 771.5h0M350.5 925.2h0M220.3 1007.9h0M428 854.9h0M467.4 815.7h0M480.9 807h0M241.6 985.7h0M221.9 1020.8h0M484.6 803.4h0M307.9 961.8h0M379.5 899.1h0M470.5 788.2h0M507.6 763.1h0M217.1 1016.4h0M325.5 944.5h0M569.9 713.3h0M284 978.8h0M508.9 767.6h0M213.2 1022.8h0M307.3 924.3h0M286.5 976.4h0M380 860.4h0M212.6 1021.7h0M302.4 967.5h0M310.6 959h0M217.7 1017.6h0M281.8 980.6h0M222.1 1007.8h0M274.2 954.4h0M351.6 920.5h0M460.7 816.8h0M334.8 935h0M309.8 923h0M416.3 835.4h0M485.7 801.7h0M224 1018.8h0M481.2 781.7h0M415 864.7h0M447.4 810.9h0M456.4 820.7h0M434.6 843.5h0M414.8 862.8h0M344.4 926.5h0M333.4 906.4h0M297.9 937.1h0" stroke="#002dff" stroke-width="12.6" stroke-linecap="round" fill="none"/>
<path d="M492.3 756.4h0M575.5 733.8h0M486 765.4h0M565.8 740.9h0M433.4 808h0M661.7 655.2h0M641 636.3h0M566.9 701.2h0M262.5 1003.5h0M314.9 909.7h0M416.6 822.8h0M681.5 637.5h0M664.8 638.8h0M513.7 787.9h0M577.4 690.9h0M588 677.9h0M282.1 988h0M624.5 686.1h0M682.2 634.1h0M668.1 627.4h0M356 876.5h0M572.6 728.3h0M653.7 643.1h0M328.8 949.2h0M407 881h0M649.7 652.2h0M487.4 767.8h0M425.4 816h0M198.7 1039.1h0M401.3 834.8h0M430.5 813.4h0M510.7 790.1h0M615.6 686.7h0M557.4 746.3h0M588.5 710.1h0M533.6 768.2h0M588.8 678.8h0M323 953.4h0M441.6 850.3h0M479.9 816h0M535.9 724.4h0M492 760.8h0M248 973.8h0M391.4 895h0M297.8 974.7h0M672.1 630.2h0M625.8 657.3h0M543.9 755.8h0M545.6 718.3h0M553.5 747h0M432 858.2h0M346.2 885.2h0M436.6 853.6h0M562.1 736h0M547.7 717.7h0M335.4 894.8h0M448.5 841.6h0M197.3 1035.6h0M356.8 923.5h0M367.7 867.5h0M471.5 820.3h0M290.2 935.8h0M469.1 783.3h0M641 651.4h0M542.5 755.8h0M268.5 955.1h0M209.1 1037.3h0M555.5 716.4h0M626.7 677.1h0M218.2 1032.5h0M433.6 855.3h0M296.9 928.6h0M389.1 847.2h0M595.8 699.6h0M582.1 695.8h0M614 672.2h0M406.8 833.3h0M624.1 658.7h0M205.4 1025h0M236.6 986.7h0M556.8 713.6h0M512.5 750.4h0M569.2 722.9h0M565.4 732h0M220.2 1003.9h0M208.1 1035.5h0M318.7 909.4h0M582.5 697.5h0M507.1 784h0M309.1 918.8h0M539.9 724.2h0M482.9 809.8h0M496.9 759.7h0M440.9 806.4h0M574.4 706.4h0M519.2 777.3h0M425.3 862.5h0M577.2 703.7h0M560 713.6h0M534 739.9h0M337 939.8h0M535.7 741.3h0M199.9 1030.7h0M207 1022.1h0M597.7 677.9h0M362.2 917.7h0M290.6 936.3h0M308 919.9h0M548.9 720.4h0M485.1 772.3h0M484 808.6h0M630.3 663.8h0M371.7 865.2h0M267.2 998.7h0M276.6 947.8h0M316.9 959.3h0M364 917h0M242.7 1011.8h0M629.8 669.2h0M591.9 704.5h0M557.1 737.6h0M326.5 948.6h0M421.6 866.1h0M294.9 932.4h0M560 716.3h0M231 1022.7h0M351.4 880.9h0M589.7 705.1h0M444.9 842.8h0M533.9 756.5h0M317.9 957.6h0M576.1 718.6h0M514.7 777.4h0M496.1 763h0M618.3 676.5h0M545.4 722.6h0M337.2 937.8h0M206.1 1027.1h0M321.9 951.8h0M506.5 781.1h0M418.4 826.5h0M592.8 682.5h0M457.6 832.8h0M485.9 805.8h0M354.2 880.5h0M545 739.7h0M502.9 789.5h0M322.3 951.3h0M324.9 948.6h0M624.9 672.1h0M548 739.2h0M552.3 739.5h0M516.8 775.9h0M552.2 725.7h0M566.5 723.9h0M420.6 865.9h0M421.2 825h0M220.6 1028.5h0M379.2 901.7h0M208.3 1027h0M424.2 822.2h0M478.6 778.1h0M306.1 966.4h0M546.4 737.8h0M308.9 920.4h0M453.4 797.2h0M503.2 781.4h0M619.5 675.3h0M539.8 744.8h0M564.1 718.7h0M396.7 886.3h0M350.6 925.5h0M446.2 839.5h0M532.1 741.6h0M549.4 729.5h0M545.9 735.9h0M337.3 936.6h0M332.8 941.6h0M461.7 826.9h0M489.6 798h0M395.2 887.3h0M475 816.2h0M422.6 863.6h0M580.4 713.7h0M530.9 758.8h0M426.9 857.6h0M364.5 914.7h0M436 815.1h0M579.6 715.2h0M557.2 728.3h0M332.2 900.9h0M477.7 780.4h0M512.2 776h0M557.5 727.4h0M364.7 872.1h0M461.4 826h0M231 1022.1h0M374.7 903.2h0M432.9 853h0M550.1 732.2h0M461.9 821.7h0M242.3 983.6h0M422.7 825h0M445.5 805.2h0M386.2 855.1h0M438.4 848.5h0M419.8 866h0M239.7 986.5h0M513.7 773h0M565.2 714.3h0M232.8 1019.7h0M561.9 728.9h0M511.4 758.1h0M473.9 784.2h0M498.1 790.1h0M325.5 946.7h0M524.1 763.6h0M561 727.5h0M215.4 1027.7h0M445.4 806.1h0M551.3 730.1h0M500.4 762.4h0M555.2 731.7h0M558.9 729.9h0M346.8 928.7h0M527.6 764.7h0M506.3 759.5h0M392.4 846.9h0M510.2 758.8h0M487.1 774.1h0M389.2 850.1h0M459.1 829.3h0M384.6 894.5h0M439.8 813.1h0M494.3 790.8h0M440.9 843.8h0M322.2 949.4h0M210.5 1020.6h0M528.2 758.5h0M566.3 713.6h0M244.9 1007.6h0M507.5 776.5h0M227.3 1001.1h0M535.1 745.3h0M508.6 760h0M505.8 762.3h0M526 754.8h0M458.5 796.9h0M373.9 904h0M365.6 912.6h0M308.4 922.7h0M324.6 908.4h0M526 744.2h0M221.8 1005.9h0M286.5 978.6h0M461.5 816.7h0M351.4 884.7h0M243.7 984h0M233.9 1017h0M297.6 971.1h0M306.9 962.5h0M449.9 833h0M498.8 780h0M468.6 814.8h0M609.6 683.1h0M411.4 834.9h0M318.7 950.8h0M248.2 979.8h0M272 988.3h0M458 826.9h0M464.8 815.1h0M403.4 839.7h0M216.8 1019.5h0M393.7 846.4h0M348.8 923.8h0M426.1 824.3h0M494 783h0M472 788.1h0M501.2 776.6h0M394 886.2h0M421.8 857.8h0M571.8 714.9h0M412.2 867.7h0M456.5 829h0M221.7 1019.7h0M283.3 979h0M398.6 879.3h0M222.3 1018.5h0M370.3 871.8h0M394.9 881.5h0M442.1 815h0M500.5 772.5h0M483.6 800.7h0M300.3 967.9h0M421.8 854.9h0M457.9 816.4h0M404.3 843.1h0M369 907.4h0M263.9 992.7h0M421 852.8h0M398.5 877.2h0M287.5 973.7h0M342.5 927.8h0M311.1 923.7h0M302.8 960.7h0" stroke="#0044ff" stroke-width="12.6" stroke-linecap="round" fill="none"/>
<path d="M752.7 565.2h0M596.7 717.4h0M247.4 1016.2h0M727 583.2h0M663.8 618.8h0M302.9 974.2h0M384.1 903.4h0M621.4 655.1h0M572.6 693.8h0M694.4 609.3h0M394.1 895.1h0M630.2 681.7h0M439.7 853h0M543.8 760.4h0M532.7 727.2h0M537.4 721h0M321.4 957.7h0M534.8 767h0M594.9 707.7h0M613.4 690.1h0M617.5 688.2h0M638.9 648.1h0M585.7 722.5h0M584.1 684.6h0M589.1 720.3h0M370.2 913h0M653.4 647.5h0M638.2 637.2h0M617.4 686.9h0M451.9 841.6h0M483.7 810.9h0M574.3 701.6h0M672.4 618.4h0M448.6 843.3h0M375.5 859.1h0M605.5 676.4h0M365.5 917.4h0M574.3 723.7h0M563.5 735.1h0M197.8 1034.5h0M634.3 668.4h0M231.7 1025h0M632.3 653.4h0M621.2 659.1h0M523.3 739.2h0M539.5 758.1h0M519.9 777.8h0M613.5 687.3h0M516.2 778.9h0M606.2 690.5h0M240.3 982.9h0M456.7 791.5h0M212.3 1035.6h0M475.2 818.4h0M614.9 670.4h0M539.1 726.1h0M523 774.8h0M228.5 996.3h0M626.4 660h0M632.6 666.1h0M225.6 998.6h0M307 967.3h0M449.4 799h0M508.3 788.6h0M349.4 883.1h0M589.9 706.5h0M396.1 890.8h0M537.7 759.1h0M252.1 973h0M348 884.2h0M559.3 739.5h0M416.7 826.8h0M301.1 926h0M599.7 675.1h0M313.9 912.8h0M446.7 801.4h0M470.4 783.4h0M380.4 856.9h0M320.4 909.3h0M349.6 928.9h0M228.4 1025.3h0M603.3 684.7h0M518.3 747.5h0M621.7 677h0M426.3 860.4h0M272.2 991.6h0M436 851.7h0M238.4 1015.7h0M549.6 740.6h0M592.6 681.6h0M434.4 813.8h0M527.9 769.9h0M533.3 761.3h0M624.6 673.4h0M583.4 697.7h0M224.8 1025.7h0M275.5 989.4h0M578.4 718.7h0M614.5 678.9h0M475.1 781.4h0M532.3 763h0M584.2 697.2h0M411.9 831.4h0M595.3 696.6h0M606.9 687.4h0M344.1 887.4h0M425.2 861.1h0M519.3 745.3h0M412.2 872.1h0M296.2 973.8h0M447.7 839.3h0M249.7 1008.6h0M216.8 1010.1h0M208.7 1020.5h0M545.2 737.5h0M258.3 970.3h0M334.7 896.8h0M366.5 870.1h0M557.9 724.5h0M257.6 971.2h0M407.6 876h0M562.9 718.1h0M591.6 695.6h0M553.2 742.3h0M585.1 702.9h0M409.1 832.8h0M479.7 810.8h0M402.8 880.5h0M253.5 1006h0M248.6 977.5h0M406.4 877.4h0M437.9 812.4h0M207.4 1025.4h0M267.4 958.5h0M482.5 807.9h0M516.7 773.4h0M529.7 763.2h0M247.7 978h0M551 727.7h0M277.3 987.7h0M522.2 745.7h0M474.1 783.1h0M339.6 935.6h0M290.5 976.3h0M562.9 725.5h0M422.9 862.3h0M481.3 775.1h0M403 878.9h0M352.7 882.2h0M443.3 805.7h0M370.4 867.7h0M483.8 805.6h0M502 760.4h0M215 1028.7h0M607.5 684.7h0M589.2 700.4h0M531.3 751.2h0M423.8 860.4h0M577.7 711.6h0M315.4 914.2h0M535.4 748.1h0M435.6 850.3h0M528.2 743.1h0M608.2 681.7h0M460.6 824.9h0M560.9 726.3h0M369.4 869.6h0M430 854h0M561.4 729.7h0M384.6 896.8h0M264.3 962.1h0M478.5 810.8h0M402.2 838.4h0M523.7 743.8h0M567.3 716.5h0M458.8 830.4h0M400.6 839.6h0M450.9 803h0M513.1 758.3h0M573 709.3h0M219.3 1008.7h0M310.5 920.4h0M488 800.2h0M332.1 937.7h0M303.6 967.5h0M528.9 758.3h0M244.8 981.9h0M223.9 1023.5h0M410.2 833.9h0M268.7 992.7h0M371.6 907.6h0M510.6 774.4h0M459.8 823.1h0M512.2 768.5h0M242 1009.7h0M281.9 983.2h0M456.5 831.3h0M247.9 1007.3h0M419.2 864.9h0M435.2 848.8h0M230.6 1019.7h0M567.3 714.2h0M358.5 878.5h0M505.8 763h0M391.7 889.9h0M575.7 715.2h0M499.7 780h0M500 765.2h0M262.3 965.4h0M236.8 1009.9h0M378 861.2h0M393.2 887.7h0M328.1 941.7h0M529.7 745.4h0M344.7 930.2h0M487.6 795.8h0M455.3 800.6h0M378 898.8h0M234.8 1014.2h0M325.5 944.7h0M503 778h0M433 819.1h0M474 785.9h0M274.1 953.3h0M491.2 774.4h0M254.2 975h0M454.7 802.1h0M439.3 816.4h0M279.5 982.6h0M431.4 849.8h0M382.5 859.3h0M382.5 894.9h0M428.1 821.4h0M236.4 991h0M421.1 861.7h0M573.7 714.4h0M260.4 970.5h0M376.3 864.4h0M501.3 768.5h0M482.7 803.9h0M448.8 832.7h0M329.8 905.2h0M453.6 830.1h0M571.4 714.7h0M436.4 818.6h0M465 797.2h0M227.9 1002.4h0M243.2 1006h0M454.2 804h0M464 798.4h0M409.4 837h0M371.9 903h0M455.8 826.5h0M235.2 993h0M393.2 885h0M311.5 922.5h0M444.7 811.8h0M477.1 803.4h0M491.7 776.6h0M498 772.2h0M500.6 772h0M452.6 828.7h0M227.4 1018h0M471.3 813.4h0M324.6 944.1h0M472.3 790.8h0M326.6 938.8h0M278.1 951.4h0M425.1 828.4h0M277.2 953.8h0M240.4 1004.7h0M393.2 852.9h0M475.6 790.1h0M483.5 801.3h0M475.2 795.9h0M339.1 931.6h0M409.1 840.1h0M394.8 877.5h0M297.6 967.6h0M444.2 816.3h0M376.1 894.6h0M476.7 796h0M332.5 932.6h0M369.9 875.3h0M409.4 841.4h0M391.3 880.1h0M343.1 926.2h0M367.8 902.7h0M367.9 899.1h0M302.3 959.8h0" stroke="#0059ff" stroke-width="12.6" stroke-linecap="round" fill="none"/>
<path d="M445.6 852.2h0M303.6 972.7h0M461.5 785.6h0M521.6 733.8h0M591.1 720.9h0M651.7 638.4h0M577 725.1h0M585 683.6h0M434.6 856.8h0M245.8 1012.3h0M552.3 714.6h0M343.5 886.2h0M443.5 801.2h0M570.8 729.8h0M292.4 932h0M331.5 945.9h0M456.9 835.3h0M336.6 942.5h0M324.7 904.5h0M531.6 767.8h0M473.4 779.7h0M366.6 867.9h0M630.6 664h0M529 771.1h0M390 845h0M208.1 1036.2h0M212.1 1034.3h0M515.1 779.6h0M407.3 878.7h0M610 677.1h0M636.9 652.9h0M594.3 680.5h0M413 874.4h0M368.9 912.5h0M242.7 981.4h0M586.3 708.1h0M260.9 964.6h0M582.3 716.6h0M476 817h0M388.5 895.6h0M621.6 665.2h0M334.9 939.7h0M370.2 910.6h0M456.2 792.8h0M204.6 1027.5h0M357.6 876.6h0M281.8 943.4h0M595 698.9h0M478.4 814.2h0M523 740.6h0M289.8 979.4h0M582.5 710.7h0M546.3 720.9h0M387.1 851.4h0M214 1032.5h0M581.8 714.3h0M542.8 726.7h0M618.1 678.9h0M334.2 897.6h0M500.2 759.8h0M495 796.3h0M455.3 794.3h0M415.4 871h0M508 780.3h0M623.1 672h0M535.2 752h0M220.1 1004.8h0M401.9 881.8h0M449.9 838.4h0M545.9 724.6h0M389.4 849.1h0M217 1009.3h0M584.1 698.8h0M590.2 682.6h0M472.6 818h0M568.2 720h0M469.6 785.4h0M581.4 712.9h0M294.1 932.9h0M455.8 793.8h0M489.2 769.7h0M212.6 1031.7h0M319.6 953.8h0M435.8 814.3h0M580.9 710.1h0M289.6 977.8h0M295.9 931.5h0M553.9 725.6h0M318.1 910.8h0M270.1 993h0M562 724.9h0M376.6 904.2h0M212 1030h0M245.2 980.4h0M498.6 792.7h0M505.8 759.3h0M511.9 777.7h0M529.3 764.3h0M307.8 962.9h0M530.6 741.3h0M478.3 811.9h0M335.3 897.7h0M534 751.5h0M522.4 765.2h0M610 686h0M538.6 746.7h0M416.4 829.9h0M525.5 741.5h0M449.4 836.8h0M446.8 837.9h0M462 829.2h0M341.2 890.5h0M246.5 1008.8h0M521.6 748.4h0M268.2 995.3h0M307.3 922.2h0M576.7 709.5h0M329.5 943.8h0M546.7 736.5h0M502.2 780.6h0M383.7 898.8h0M374.3 905h0M451.1 801.4h0M592.1 698.7h0M368 869.8h0M469.9 786.4h0M441.9 810.5h0M574.4 709.4h0M209.9 1024.8h0M587.9 699.6h0M403.6 836.9h0M399.7 840h0M346.1 887.2h0M318.4 954h0M523.8 743.1h0M241.5 985.4h0M462.4 819h0M457.1 796.2h0M447 837.5h0M516.8 759.2h0M487.4 772.3h0M416.8 868.5h0M551.2 733.6h0M554.9 734.5h0M414.7 831.5h0M460.3 795.1h0M337.8 895.3h0M454.6 798.2h0M281.1 944.9h0M521.6 757h0M559.1 728.4h0M422.4 860.9h0M220.4 1006.9h0M501.8 778.6h0M394.5 844.2h0M452 832.7h0M210 1022h0M344 889.1h0M485.7 775.1h0M373.1 904.6h0M236.4 1013h0M495.2 769.1h0M288 941.2h0M572 716.7h0M375.9 863h0M479.9 807.8h0M505.4 763.7h0M321.7 910.1h0M370.9 868.4h0M424.3 857.1h0M442.8 839.8h0M455.7 799.2h0M257 1002.3h0M441.7 812.3h0M531.6 744.7h0M271.5 956.3h0M345.8 888.1h0M494.2 787.6h0M413.9 833.7h0M468.6 789.5h0M427.3 853.8h0M478.1 782.6h0M498.1 780.3h0M404.9 838.5h0M494.9 784.6h0M493.5 771h0M266.2 961h0M252.2 976.7h0M359.2 915.7h0M467.9 792.2h0M385.6 892.1h0M297.8 933h0M507.9 773h0M323.9 946.8h0M487.4 794.4h0M360 878h0M266 993.9h0M231.6 997.3h0M220.4 1011.3h0M361.4 878.3h0M462.1 815.8h0M234.1 993.5h0M479.9 784.6h0M478.8 804.8h0M297.9 970.3h0M324.4 910h0M278 983.7h0M303.2 927.3h0M403.5 875.6h0M433.4 820.5h0M443.4 814.3h0M254.7 975.9h0M461 800h0M421.9 833.4h0M352.8 918.8h0M293.2 938.9h0M297.3 934.5h0M354.3 884.7h0M348 888.5h0M469.2 792.7h0M232.8 996.1h0M218.6 1013.5h0M409.9 838.1h0M448.5 810.5h0M408 869.6h0M350.5 920.8h0M314.4 919.2h0M229.5 1002.6h0M359.8 912.7h0M333.9 933.7h0M222.7 1016.5h0M396.6 879.1h0M280.2 979.7h0M406.3 870.4h0M427.8 847.6h0M322 913h0M347.8 923.6h0M301.5 966h0M220.8 1011.4h0M379.5 893.2h0M458.5 814.9h0M295.7 938.1h0M356.5 913.3h0M316.2 920h0M317 950.1h0M465.9 807.6h0M413.5 862.4h0M317.8 915.4h0M453 815.3h0M364.7 878.8h0M232.5 1008.5h0M416.8 856.8h0M258.8 976.4h0M240.4 992.8h0M363.1 884h0M264.5 987.1h0M352.8 911.7h0" stroke="#006dff" stroke-width="12.6" stroke-linecap="round" fill="none"/>
<path d="M279.7 942.4h0M560.5 743.7h0M242.4 1014.5h0M523.9 738.5h0M200.7 1037.1h0M597.3 672.6h0M284.5 984.9h0M602.5 693.7h0M508 789.8h0M258.8 966.9h0M370.5 911h0M387.5 896.8h0M615.9 683.9h0M282.9 985.5h0M370.8 865.2h0M440.1 850.1h0M452.7 838.4h0M363.5 870.6h0M522.2 773.5h0M419.2 826.3h0M541.9 734.8h0M626.6 674.3h0M376.1 905.4h0M323.8 906.1h0M205.8 1032.3h0M533.6 759.7h0M337.6 938h0M249 1009.7h0M576 708.3h0M238.3 986h0M533.8 753h0M626.9 669.7h0M589.2 694.6h0M528.4 767.8h0M370.8 910h0M627.6 671.6h0M468 785.9h0M561.7 715.6h0M460.5 790h0M593.4 695.6h0M381.7 856.3h0M583.4 705.3h0M492.5 794.7h0M376 861h0M234.3 1019.3h0M291.4 977.1h0M576.9 709.1h0M247.6 1008.9h0M489.9 798.7h0M605.3 686.7h0M572.6 708.4h0M510 753.7h0M291.4 976.1h0M613.6 683.4h0M505.8 779.5h0M571.2 710.3h0M609.4 679.7h0M473.2 782.3h0M231.3 995.4h0M585.4 701.9h0M323.6 949.4h0M463.2 824.4h0M426.2 818.8h0M562.9 716.4h0M496.3 764.4h0M532.2 761.4h0M592 696.8h0M560.7 731.3h0M411 831.7h0M302.6 968.9h0M254.6 973.5h0M384.7 897.8h0M548.4 731.7h0M501.2 790.5h0M359.6 917.7h0M311.7 918.1h0M468.2 787h0M537.8 744.1h0M533.7 749.6h0M516.3 758.2h0M269.5 956.8h0M578.3 710.9h0M528.6 762.8h0M509.7 757.9h0M354.6 920.9h0M527.8 741.3h0M231.7 1020.7h0M380 859h0M589.9 698.5h0M286.7 941.4h0M278.7 985.9h0M237.8 1012h0M554.5 737h0M512.3 771.5h0M558.5 730.9h0M334.2 900.5h0M486.2 803.7h0M246.3 1008.8h0M209.5 1024h0M353.8 920.8h0M420.1 828.4h0M558.3 731.7h0M235.8 1014h0M222.1 1005.3h0M589.9 699.3h0M495.1 767.2h0M502.7 779.7h0M437.3 816.4h0M527.5 762.7h0M433.2 851h0M441.1 845.7h0M302.1 968.6h0M273.2 989.3h0M367.6 911.9h0M387.5 893.2h0M272.4 953.9h0M481 807.9h0M325.6 907.5h0M509 775.7h0M447.4 835.7h0M273.5 952.4h0M452.3 802.7h0M429.4 854.5h0M455.5 798.5h0M279.9 946.8h0M382.6 897.6h0M298.6 930.3h0M492 790.8h0M422.9 859.1h0M240 1008.8h0M511.3 769.9h0M459.3 827.3h0M329.3 904.9h0M399.2 841.4h0M359.8 876.9h0M488.5 794.4h0M439.9 844.3h0M482.1 805.6h0M358.5 879.1h0M435.6 848.1h0M494.7 788.8h0M378 899.8h0M472.6 816h0M418.1 831.8h0M240.6 1007.9h0M282.7 980h0M366.6 873.4h0M384.9 893.6h0M228.1 1001h0M328 940.7h0M479.6 781.4h0M228.4 1021.6h0M382.3 896h0M317.9 912.8h0M217.7 1020.9h0M457.7 824.1h0M232.2 1018.3h0M425 824.6h0M494.9 782.7h0M326.5 907.4h0M360 914h0M295.3 935.4h0M449.1 833.7h0M489.2 775.9h0M320.9 948.6h0M246.1 983.2h0M506.5 765.8h0M415.6 865.8h0M284.8 978.1h0M304 965h0M491.7 787.6h0M487.6 788.6h0M451.7 831.1h0M446.1 810.5h0M374.1 900h0M275.4 955.3h0M503.6 769.5h0M256.4 975.1h0M430.3 820.7h0M327.7 939.7h0M275.5 953.6h0M493.3 780.5h0M226.7 1003.3h0M487.6 778.3h0M258.1 1000.6h0M251.6 1003.7h0M256.7 975h0M455.4 826.7h0M280 981.9h0M220.9 1017h0M240.7 987.7h0M274.5 986.6h0M220.8 1010h0M384.3 858.9h0M574.1 713.3h0M417.6 862.3h0M245.8 983.9h0M428.8 821.8h0M227.2 1003.9h0M362.7 877.2h0M237.8 991.2h0M385.1 889.9h0M422.9 832h0M328.7 906.4h0M273.5 985.6h0M324.9 911h0M394.2 851.1h0M488.8 778h0M354.8 885.2h0M482.2 802.9h0M263 969h0M316.5 953h0M310.7 957.6h0M437.1 843.6h0M266.7 963h0M248 983.2h0M381.5 892.4h0M488.8 783.8h0M456.6 807h0M386.1 858.5h0M304.8 960.8h0M278.7 951.8h0M443.7 832.8h0M331.1 906.4h0M234.2 995.3h0M381.6 890.1h0M290.1 942.3h0M344.7 926.2h0M327.5 909.7h0M362.3 910.6h0M324.1 943.4h0M315.7 953.8h0M297.2 937.1h0M246.4 985.4h0M463.5 805.3h0M379.1 864.3h0M448 820.8h0M272.4 961.1h0M474.9 790.9h0M249.3 983.5h0M234 997.3h0M383.1 862.3h0M306.4 928.9h0M431.1 844.5h0M434.2 825.1h0M259.6 996.8h0M316.2 950.1h0M427.5 837.5h0M242.6 989.1h0M273.7 984.2h0M339 902.8h0M429.3 833.3h0M363.1 882.9h0M275.4 961.9h0M345.1 896.7h0M300.7 959.6h0M297.4 941.1h0" stroke="#0085ff" stroke-width="12.6" stroke-linecap="round" fill="none"/>
<path d="M253.7 1007.8h0M581.3 722.1h0M672.4 634.2h0M587.6 692h0M225.9 1027.6h0M548.4 719.5h0M420.1 824h0M584.4 710.7h0M287.7 981.6h0M270.4 995.9h0M444.4 843.8h0M376.2 860.4h0M497.6 761.1h0M443.3 803.7h0M562 712.4h0M566.8 726.6h0M454.1 795.2h0M308.7 964.1h0M311.8 917.2h0M264.5 1000.1h0M363.1 872.1h0M583.5 703.4h0M300.9 926.7h0M218.2 1007.8h0M313.9 914.3h0M536.1 749.6h0M530.6 766.2h0M383.5 899.9h0M597.3 689.8h0M453.5 833.6h0M571.2 709.4h0M207.7 1029.3h0M430 855.7h0M589.4 703.5h0M390.5 848.2h0M355 880h0M416.2 829.4h0M384.4 854.9h0M219.8 1027.7h0M224.2 1001.4h0M516.3 765h0M237.9 987.4h0M215.8 1029.8h0M486.1 773.3h0M457.3 795.4h0M448.2 803.1h0M513.7 770h0M489 799.3h0M318.4 956.2h0M482 776.8h0M383.9 856.1h0M499 790.3h0M220.5 1025.1h0M213.4 1026.6h0M458.2 830.9h0M375.5 862.4h0M424.9 858.4h0M255.8 973h0M304.3 925.1h0M477.3 781.9h0M488.9 798.4h0M352.2 924.2h0M331.6 939.2h0M254.9 1004.9h0M325.7 945.5h0M345.4 930.7h0M526.3 747.2h0M485.2 804.5h0M321.5 910h0M432.4 852h0M224.6 1003.3h0M577.3 711.1h0M295.3 933.9h0M464.9 791.7h0M303.2 926.5h0M293.7 973.6h0M450 834h0M504.7 763.5h0M254 1005.3h0M573.1 710.1h0M413.5 832.7h0M436.5 847.1h0M327 906.1h0M327.6 944.3h0M216.3 1023.4h0M310.1 921.5h0M222.5 1021.6h0M455.3 799.9h0M342.6 932.3h0M406 874.6h0M497.5 767h0M211.4 1021.1h0M391.1 850.5h0M240.4 987.6h0M353.2 883.4h0M478.4 782.2h0M571.4 716h0M461.1 818.9h0M333.8 936h0M216.5 1017.2h0M350 885.6h0M234.4 992.8h0M253.4 1004.8h0M342.4 891.6h0M267.8 990.8h0M289 941h0M501.7 776.8h0M370.9 869h0M383 894.1h0M501.7 766.5h0M442.9 838.3h0M381.5 896.5h0M214.5 1021.9h0M235.7 1011h0M454.2 830.6h0M256.8 974.2h0M464.2 797.5h0M439.9 841.5h0M484.7 777.2h0M338.2 896.9h0M361.6 913h0M279.9 948.8h0M258.5 973.2h0M224.5 1004.6h0M486.1 794.3h0M393.5 847.8h0M422.4 856.3h0M309.3 959.6h0M289.8 973.9h0M441.6 838.5h0M300.1 931.1h0M396.3 845.7h0M226.3 1003.6h0M243.3 985.5h0M456.7 823.1h0M325.7 943h0M440.5 839.9h0M292.6 938.4h0M292.1 940.2h0M404.7 875.3h0M390.5 853.6h0M398.3 844.2h0M293.2 972.4h0M360.6 912.8h0M389.2 855.8h0M431.6 846.7h0M402.1 876h0M242.3 987.9h0M395.2 881.4h0M360.7 879.8h0M394.7 847.5h0M377.9 896h0M247.8 1005.3h0M222.8 1017.8h0M375.5 898h0M412.7 866.5h0M412.9 837.4h0M389.8 888h0M380.9 894.2h0M462.7 800h0M456.9 819.6h0M253.3 1002.9h0M350.5 888.7h0M472 813.6h0M482.6 783.1h0M445.8 831.3h0M247.7 1004.1h0M442.5 833.8h0M370.3 903.6h0M373.7 872.3h0M270.4 961.4h0M364.6 876.8h0M303.1 930.8h0M440.7 836.2h0M455.5 809.1h0M358.7 882.3h0M337.6 900.7h0M461.3 810.3h0M395 879.3h0M463.2 808.8h0M395.7 877.6h0M367.2 877.2h0M227.4 1014.5h0M468.7 806.4h0M322.7 943.5h0M464.9 806.9h0M432.9 822.5h0M410.2 839.6h0M397.1 852.2h0M300.6 964.4h0M439.3 820h0M269 962.5h0M410.6 863.7h0M227.9 1005.2h0M429.9 826h0M392.6 879.6h0M436.2 840h0M427.3 830.6h0M369.8 901.3h0M410.1 863.6h0M277.8 979.6h0M408.1 841.9h0M363.5 909.2h0M394.4 876.3h0M318.5 946.4h0M332.5 908.7h0M236.1 1002.8h0M423.6 845.8h0M381.6 872.6h0M286.3 949.8h0M239.3 1002.1h0M387.3 861.8h0M405.3 866.6h0M297.8 938.8h0M309.3 954.8h0M360.4 908.1h0M385.1 884.1h0M368.4 894.1h0" stroke="#0099ff" stroke-width="12.6" stroke-linecap="round" fill="none"/>
<path d="M403 833h0M633 664.6h0M579.4 699.6h0M501.1 794.5h0M589.1 684.5h0M505.4 788.6h0M629.7 666.4h0M518.6 746.1h0M361 918.2h0M616.7 672.7h0M339.3 891.2h0M405.4 878.5h0M213.5 1016.3h0M587.6 695.8h0M400.5 882.4h0M260.8 966h0M405.7 835.1h0M520.9 747.9h0M248.9 976.4h0M242.9 982.8h0M502.2 759.5h0M380.9 858h0M437.4 850.2h0M575.8 708.6h0M219 1006.8h0M239.3 985.9h0M510.7 776.6h0M574.5 717.9h0M409.7 873.8h0M565.4 716.3h0M208.8 1021.8h0M216.4 1028.1h0M376.9 860.7h0M490.6 795.3h0M379.7 900.6h0M585.9 697.7h0M397.3 883.5h0M467.3 788h0M410.3 871.5h0M373 866.1h0M424.5 823.1h0M416.2 869h0M330.1 903.1h0M310.9 918.7h0M465.7 789.9h0M460.1 794.4h0M211.4 1019.2h0M512.6 769.4h0M487.8 799.1h0M576.7 715.5h0M554.8 735.9h0M394 844.4h0M447.6 803.6h0M513.8 759.7h0M493.2 769.1h0M472.7 785.5h0M331.5 939.3h0M445.8 806.4h0M456.9 830h0M520.6 762.1h0M313 919.1h0M473.8 785.1h0M349.8 924.1h0M390.8 889.5h0M348.3 925.2h0M527.8 744.5h0M332 902.1h0M454.5 801.5h0M293.2 936.2h0M482.3 778.9h0M453.4 803h0M276.4 951.2h0M215 1023.6h0M611.5 683h0M526.8 760.1h0M357.2 918.2h0M496.7 783.3h0M364.3 912.8h0M510.4 774.7h0M386.9 891.9h0M263.7 965h0M500.8 764.9h0M214.4 1024.3h0M489.1 793.2h0M483.4 777.8h0M406.9 837.7h0M435.3 847.5h0M497.9 768.5h0M272.2 956.3h0M309.5 959.6h0M484 776h0M492.8 788.7h0M429.2 820.4h0M495.6 782.5h0M574.3 715h0M300.9 967.8h0M232.4 1015.1h0M372.9 904h0M448 806.2h0M372.8 902.4h0M379.9 862.3h0M346 889h0M430.3 850.1h0M425 826.2h0M249.5 1005.4h0M456.7 800h0M456.2 801.8h0M244.1 985.1h0M384.4 857.9h0M366 874.4h0M294.7 935.9h0M486.2 799.4h0M249.7 979.4h0M339.5 932.5h0M452.4 806.4h0M505.7 774.9h0M383.3 893.4h0M474.9 810.4h0M453 806.5h0M444.2 812.9h0M470.8 789.3h0M373.4 869.4h0M260.7 972.4h0M500.5 770.3h0M284.6 976.5h0M262.6 997.9h0M468.5 814.1h0M433 845.9h0M231.7 998.7h0M473.8 814.4h0M456.3 804.7h0M445.8 812.4h0M444.4 833.6h0M470.2 792.8h0M415.1 837.3h0M363 878.1h0M372.3 871h0M343.2 893.2h0M484.7 798.9h0M444.4 814.7h0M265.4 964.4h0M297.9 968.5h0M358 882h0M386.4 857.9h0M415.1 838.2h0M373.5 872.2h0M265.9 989.5h0M233.7 1009.9h0M478.4 801.6h0M343.9 927.7h0M345.1 891.3h0M415.9 862.2h0M278.7 979.7h0M391 884.5h0M367.2 875.5h0M284.3 945.2h0M334.7 903.5h0M455.9 816.2h0M252.4 979.6h0M412.8 838.6h0M477.9 800.5h0M380.9 891h0M232.3 1012.6h0M352.9 917.1h0M398.6 846.3h0M293.9 938.5h0M364.7 878.3h0M283.5 947.7h0M421.6 851.6h0M412.6 862.7h0M370.6 900h0M226.2 1005.6h0M428.4 826.2h0M427.2 827.8h0M398.6 847.5h0M483.6 799.3h0M342 928.8h0M231.9 1010.9h0M281.6 951.3h0M425 847.7h0M366 878.9h0M284.7 973.7h0M277.3 956.3h0M427.3 833.9h0M400 848.4h0M358.2 888.5h0M402.9 844.9h0M289.3 944.5h0M307.1 928.4h0M376.4 878h0M432.5 829.8h0M304.6 958.6h0M412.7 857.6h0M317.6 920.1h0M297.9 938.1h0M270.5 985h0M248.8 985.2h0M405 846.9h0M236.2 995.8h0M254.7 981.3h0M364.2 882.8h0M265.4 988.1h0M288.5 947.4h0M382.8 878.4h0M283.3 952.8h0M361.7 884.5h0M253.2 982.2h0M280.6 957.4h0M273.3 963.4h0M377.8 887.4h0M251.3 999.9h0M384.8 882.4h0M360.2 890.6h0M238.3 995.1h0M344.6 903h0M340.1 905.9h0M329.5 915.3h0M390 860.3h0M393.8 865.4h0M294 947h0M286 967.5h0" stroke="#00b1ff" stroke-width="12.6" stroke-linecap="round" fill="none"/>
<path d="M543.1 719.2h0M354.4 878.4h0M235 1020.8h0M333.9 897.4h0M566.1 712.3h0M330.6 901.5h0M469 819.9h0M438.5 848.8h0M360.6 874.4h0M591.1 684.5h0M254 973.9h0M301.9 969.7h0M531.9 756.8h0M495.6 792.5h0M316 913.5h0M431.4 817.1h0M452.2 800h0M347.5 886.2h0M417.2 829.9h0M608.3 686.1h0M250 1007.5h0M461.6 792.6h0M399.9 881.7h0M265.9 959.6h0M221.8 1003.9h0M325.4 947.8h0M233.2 992.7h0M536.7 743.4h0M467.1 788.7h0M214.3 1027.7h0M469.9 787.1h0M417.8 866.1h0M424.2 858.9h0M362.3 874.5h0M316.5 956.2h0M481.3 778.8h0M266.5 996.4h0M232.2 994.4h0M444.1 809.3h0M511.8 771.4h0M556.1 734h0M496 767.2h0M224.9 1022.8h0M527.4 746.1h0M388.1 891.6h0M455.3 831.3h0M227.2 1021.6h0M497.3 785.6h0M446.2 807.5h0M510.7 760.8h0M232.4 1018.8h0M365.1 912.8h0M440.3 843h0M575.8 711.4h0M463.4 793h0M487.5 797.8h0M361.6 875.9h0M289.8 975.3h0M506.2 776.8h0M511 762.3h0M458.1 799.2h0M458.7 824h0M275.1 951.6h0M367.1 911h0M354.8 919.3h0M317.2 954.9h0M575.2 714.8h0M233.9 1016h0M300.3 930.5h0M306.4 924.6h0M345.4 889h0M337.6 935.1h0M399.1 843.1h0M298.4 931.7h0M419.4 832.1h0M392.6 887.1h0M420.7 831.1h0M220.3 1009.4h0M427.6 852.7h0M380 895.8h0M237.4 990.3h0M458.9 821h0M395.3 882.9h0M380.7 860h0M234.8 1011.9h0M286.1 976h0M457.2 802.1h0M226.9 1020h0M406 839.3h0M263.4 966.4h0M423.1 828.9h0M239.2 989.3h0M333.1 935h0M231.5 999h0M501.7 776h0M361.9 877.3h0M444.8 834.6h0M236.6 1008.8h0M493.2 775.1h0M481.4 781.2h0M419.4 861.2h0M331.3 934.5h0M232.1 1014.2h0M316.4 914.4h0M469.3 792.3h0M400.8 877h0M334.2 902.8h0M405.5 840.8h0M455.2 822.8h0M336.3 900.4h0M302.1 930.6h0M470.1 794.5h0M444.9 813.2h0M424.5 828.6h0M369.7 905.9h0M240.9 989.4h0M370.2 873.4h0M397.8 846.8h0M275.8 956.5h0M471.6 793.6h0M321.3 946.1h0M449.7 828.3h0M256.5 1001.3h0M474.6 790.1h0M416 839.1h0M263.3 997.1h0M461 813.1h0M277.4 983h0M426.8 848.7h0M280.1 950.7h0M367.7 908.7h0M419.1 856.2h0M375.8 867.4h0M393.2 882.1h0M459.6 804.2h0M228.8 1015.8h0M456.7 817h0M389.1 886.3h0M338 932.6h0M232.2 1012h0M451.4 811.5h0M305.9 927.5h0M351.1 919h0M303.8 961.6h0M325.7 939.9h0M223.8 1010.8h0M426.5 827.4h0M238.8 990.8h0M341.7 929.9h0M428.6 825.4h0M230.2 1014.2h0M454 813.5h0M290.3 942.8h0M401.8 873.9h0M229.4 1013.5h0M345.9 921.7h0M284 974.6h0M376.6 871.6h0M391.7 882h0M391 881.4h0M400.8 875.1h0M229.8 1012.2h0M275.5 982h0M265.7 965.4h0M230.6 1011h0M353.2 891.4h0M337.1 902.3h0M228.4 1013.5h0M413.1 840.2h0M367.6 906.6h0M400.2 875.5h0M369.1 879.8h0M346.6 892.9h0M247.9 1002.7h0M267.5 987.1h0M241.4 991.3h0M264.1 969.5h0M337.5 931.4h0M393 855.7h0M280.3 953.3h0M434.6 828.7h0M322.6 941.8h0M290.1 970.8h0M245.6 1002.6h0M359.9 910.8h0M355.3 911.8h0M285.1 972.7h0M392.3 874.5h0M320.1 917.6h0M229.2 1006.8h0M252.5 985.4h0M358.9 891h0M315.1 927.2h0M248.2 1000h0M298.9 960.6h0M379.9 884h0M255.4 984.3h0M336 912.9h0M310.1 929.9h0M353.4 898.2h0M286.5 959.1h0M296.6 958.9h0M331.2 920h0" stroke="#00c5ff" stroke-width="12.6" stroke-linecap="round" fill="none"/>
<path d="M223.6 998.6h0M566.3 732.4h0M543.9 722.4h0M339.7 936.6h0M594.9 697.7h0M457.6 791.9h0M518.1 757.3h0M295.1 933.2h0M500.8 788.4h0M526.7 766.1h0M587.7 701.2h0M526.3 766.9h0M455.4 796.8h0M539.3 744.7h0M214.7 1016h0M529.8 759.3h0M304.3 924.4h0M388.3 892.5h0M403.8 878.2h0M405 877h0M287.5 978.2h0M430.3 819h0M320.3 950.7h0M499.2 781.5h0M226.2 1001.6h0M236.2 989.9h0M490.3 792.6h0M337.4 935.7h0M234 992.4h0M428.1 820.4h0M389.3 853.4h0M532.7 745.9h0M572.8 716.3h0M447.2 835.1h0M230.5 998.2h0M511.6 763h0M510.9 772h0M409.4 835.5h0M230 1019.7h0M407 836.3h0M569.8 715.4h0M215.4 1018.2h0M285.3 943.4h0M345.6 929.2h0M460.8 797.7h0M418.2 833.2h0M309.2 923h0M389.9 888.9h0M368.5 909h0M357.8 915.7h0M479.7 805.4h0M278.1 984.8h0M335.4 900.4h0M216.9 1016.7h0M315.2 916.2h0M495.2 770.5h0M299 969.3h0M499.5 768.5h0M348.6 922.7h0M344.6 928.2h0M450.6 807h0M392.4 885.6h0M265.8 992.8h0M483.7 779h0M383.2 859.3h0M300.7 931.4h0M493.7 779.8h0M452.2 830.4h0M406.6 871.4h0M228.7 1018.8h0M391.4 886.6h0M387.6 888.7h0M491.2 783.7h0M375.5 867.6h0M431.2 846.2h0M384.1 891h0M489.1 784.8h0M338.5 898h0M482.9 802.1h0M493.1 777.1h0M460.5 802.5h0M305.9 961.6h0M387.7 888h0M373.5 897.3h0M267.8 961.9h0M473.2 790h0M482.3 786.5h0M371.2 902.7h0M484.5 795h0M435.2 821.4h0M227 1016.8h0M437.7 838.2h0M353.9 886.4h0M390 885.5h0M318.1 949.9h0M269.9 988.3h0M271.2 960.7h0M466.7 810.7h0M447.5 812.4h0M289 942.8h0M452.7 816.8h0M255.5 977.1h0M410.6 865.9h0M462.3 811.5h0M449.5 824.7h0M331.7 906.8h0M433.6 841.9h0M330.1 908.9h0M411.3 864.6h0M293.1 940.5h0M341 896.9h0M440.2 834.2h0M455 811.2h0M425.1 831.4h0M475.7 797.1h0M266.8 989.1h0M417.5 856.2h0M482.3 795.4h0M228.5 1004.3h0M352.7 916.5h0M256.8 977.3h0M447 813.3h0M348.1 890.6h0M299 935.7h0M279.7 977.7h0M421.1 850.5h0M424.9 832.3h0M310.2 956.8h0M407.4 843h0M483.5 797h0M233.4 998.5h0M262.7 969.6h0M371.2 877.6h0M258.9 998.1h0M301.1 963.3h0M298.8 967.2h0M302.2 962.3h0M371 878.9h0M289.5 971.7h0M430.2 841.3h0M341.7 927.6h0M391.6 879.6h0M329.8 910.4h0M323.6 940.8h0M419.6 841.4h0M375.8 876.3h0M255.7 999.7h0M399.7 873.5h0M345.2 921.9h0M271.9 984.8h0M341.7 927.2h0M279.7 955.3h0M283.3 952.1h0M379.1 888.6h0M259.8 994.2h0M322.4 916.3h0M411.6 858.5h0M269.2 964.4h0M251.3 983.9h0M279.3 959.5h0M333.4 909.4h0M366.3 906.7h0M320 945h0M380.8 878.3h0M421.4 846.1h0M263.2 974.1h0M284.5 972.4h0M350.7 915.5h0M294.5 941.8h0M332.8 911.8h0M343.4 901h0M341 927.9h0M323.2 916h0M248.7 1001.1h0M388.8 859.5h0M414.3 848.6h0M306.3 956.8h0M404.1 848.4h0M286.2 950.7h0M395.7 871.1h0M366.6 904.1h0M394 871.2h0M316.2 946.4h0M322.4 921.2h0M385.2 882.8h0M274.3 975.1h0M347.2 915h0M297 956.8h0" stroke="#00ddfe" stroke-width="12.6" stroke-linecap="round" fill="none"/>
<path d="M205.4 1035.2h0M545.9 726.1h0M285.3 942.4h0M578.7 713.3h0M549.5 738.4h0M235.4 1015.7h0M483 777h0M263.1 963.4h0M577.5 715.8h0M425.7 856.9h0M470 816.9h0M268.5 959.1h0M414.3 869.2h0M450.9 803.8h0M218.7 1009.9h0M531.1 750.2h0M362.6 913.6h0M441.9 840.8h0M258.6 1002.1h0M395.7 883.1h0M533.2 743.7h0M266.7 995.2h0M302.3 928.2h0M378.8 899.7h0M477 809.6h0M292.7 973h0M490.4 773.4h0M282.1 945.5h0M506.4 764.3h0M571 714.1h0M445.1 807.9h0M300.1 968.8h0M353.6 919.8h0M312.7 920.4h0M425.6 854h0M370.4 907.1h0M333.4 935.9h0M474 787.4h0M247.1 1006.7h0M378.2 863.8h0M377.6 897.8h0M420.8 859h0M496.6 772.4h0M319.5 949.5h0M494.8 773.6h0M275.1 952.8h0M252.4 978.1h0M218.7 1018.2h0M490.9 786h0M463.5 814.4h0M448.1 830.6h0M459.8 816.8h0M485.8 793.1h0M445.3 810.8h0M302.7 928.9h0M484.2 780.2h0M448.3 808.9h0M274.8 955.6h0M444.4 834.6h0M336.6 934.1h0M404.1 873.5h0M220 1015.6h0M480.7 803.7h0M469.5 793.6h0M312.5 957.8h0M234.9 1010.7h0M326.5 942.4h0M365.2 875h0M275.3 958h0M287.4 974.6h0M330 906.9h0M288 943.3h0M463.8 799.7h0M261.9 997.6h0M457.2 803.5h0M396.9 845.7h0M298.6 968.1h0M260.5 998.8h0M368.6 874.8h0M438.9 840.8h0M427.4 826.4h0M260.3 972.7h0M398.4 877.7h0M279.4 982.3h0M234.7 1009.5h0M425.9 851.1h0M329.4 907.8h0M252.7 979.3h0M458.4 807.9h0M462.9 811.8h0M278.1 981.2h0M478.8 791.9h0M484.3 781.8h0M263.6 992.1h0M438.9 819.2h0M358.4 912.6h0M331.3 908h0M350.5 919.6h0M277.2 955.4h0M228.7 1015.1h0M369.8 902.8h0M391.8 883.4h0M377.4 869.4h0M482.5 795.2h0M343.7 893.9h0M444.5 831.5h0M484.5 797.1h0M430.3 823.6h0M247.5 984.5h0M440.2 836.2h0M244.4 1004.5h0M385.6 887.7h0M434.7 823.4h0M231.3 1012.1h0M318.4 915.7h0M411.7 840.2h0M386.9 886.6h0M313.6 923.4h0M435.8 840.7h0M376.3 871.8h0M425.5 835h0M379.2 869.8h0M257.9 976.1h0M389.4 857.7h0M356.5 887.4h0M372.1 895.5h0M341.3 928.7h0M225.1 1011.7h0M232.7 1001.3h0M232.6 1005.9h0M356.9 888h0M405.8 868.2h0M415.1 858.9h0M482 798.9h0M368.8 901h0M342.7 897.8h0M311.2 926h0M334.6 932.6h0M335.7 905.3h0M226.2 1008.2h0M411.7 861.5h0M441.7 830.1h0M333.2 931.9h0M411.4 840.5h0M279.3 975.9h0M366.9 907.1h0M413.4 859.8h0M227.7 1007.3h0M371.5 880.4h0M411.1 842.2h0M302.2 961.3h0M438 829.3h0M421.4 847.5h0M300.4 935.9h0M408.5 861.8h0M320.5 944.7h0M239.9 992.2h0M284.9 949.6h0M249.7 1001.6h0M352.2 915h0M319 920.4h0M314.9 950.9h0M353.4 891.6h0M295.6 967.8h0M403.8 868h0M303.3 959.1h0M388.5 860.7h0M411.9 844h0M399.6 869.5h0M236.1 1001.2h0M247.4 990.1h0M377.2 885.5h0M411.7 854.2h0M349.5 893.9h0M285.9 970.9h0M296.1 941.3h0M258.9 978.8h0M321.2 920.9h0M406.5 861.5h0M400.7 867.3h0M361.8 908.6h0M273.9 980.5h0M348.1 898.8h0M300.3 939.4h0M388.7 869.3h0M242.2 994.3h0M293.7 966.1h0M392.4 860.2h0M282.6 970.6h0M256.6 987.4h0M287.9 967.8h0M322.5 935.3h0M280.6 970.8h0M313.6 947.3h0M272 967.9h0" stroke="#09f1ee" stroke-width="12.6" stroke-linecap="round" fill="none"/>
<path d="M440.1 808.7h0M512.6 776.4h0M349 926.7h0M391.4 847.9h0M351.2 884h0M451.7 833.7h0M497 792.1h0M551.3 736.2h0M355.8 881.5h0M569.4 713.1h0M391.3 848.7h0M458.6 798.4h0M439.3 843.8h0M464.1 794.6h0M509.6 769.1h0M329.7 937.7h0M277.3 950.2h0M254.8 1003.5h0M411.8 869.4h0M217.6 1014h0M412.8 868h0M229.1 1020.1h0M268.9 989.8h0M456.9 824.9h0M507.6 772h0M444 810.8h0M388.4 854.4h0M292 973.7h0M350.5 886.3h0M325.1 909.1h0M467.1 793.8h0M218.7 1013.1h0M498.9 767.5h0M475 813.7h0M490.6 776.3h0M384.8 857.3h0M295.6 971.2h0M494.4 774.3h0M265.3 995.6h0M305.7 962.6h0M327 909.2h0M406.7 871.7h0M436.8 845.6h0M456.7 820.8h0M289 973.9h0M327.2 939.5h0M502.7 775.8h0M260.9 970.3h0M291.3 940.5h0M399.9 877.5h0M366.3 910.9h0M362.2 877.9h0M449.8 808h0M475.9 789.4h0M450.2 808.8h0M428.7 850.6h0M428.9 849.9h0M274.2 958.8h0M485.7 780.3h0M263.8 994.1h0M471 794.2h0M485.2 794.2h0M407.4 869.6h0M242.6 986.7h0M482.1 785.3h0M419.4 857.8h0M390.6 885.6h0M372.6 872.9h0M292.4 972.2h0M463.6 802.4h0M451.1 810.4h0M407.4 867.8h0M377.2 867.9h0M339.5 898.3h0M394.8 850.8h0M252.9 1001.5h0M295.2 938.1h0M294.7 939.4h0M440.5 834.6h0M379.9 891.7h0M237.1 993.2h0M464.6 807.7h0M456.9 814h0M262.2 971.5h0M276 982.7h0M361.4 882h0M320.2 913.9h0M238.5 992.4h0M386.1 860.3h0M382.8 865h0M402.1 871.1h0M386.2 860.6h0M481.2 799.2h0M364 879.8h0M279 953h0M240.3 991.2h0M245.7 986.8h0M230.3 1010.5h0M281.6 975.1h0M253.1 980h0M347.9 891.9h0M408.6 864h0M319.5 946.5h0M258.1 977.4h0M247.1 986.4h0M230.4 1010h0M351.3 892.4h0M252.1 982.2h0M286.2 972.8h0M321.2 916.2h0M442.1 825.3h0M399.9 872.8h0M399.2 873.3h0M229.5 1006.1h0M390.4 878.2h0M337.3 905.8h0M274 982.9h0M284.6 950.5h0M413.8 842.4h0M376.9 890.1h0M249.7 986.3h0M228.6 1007.8h0M384.4 868.1h0M387.8 859.9h0M321 943.5h0M410.2 846.2h0M392.5 857.2h0M412.1 856.3h0M406.6 860.9h0M304.9 956.9h0M345 920.8h0M267 985.8h0M282 973.3h0M372 891.7h0M363.1 887.4h0M327.3 915.3h0M272.1 983.3h0M362.7 893.4h0M324.3 916.5h0M381.7 884.8h0M346.5 917h0M300.9 938.9h0M349.7 912.3h0M349.7 911.3h0M292.8 955.9h0M350.9 904.6h0M306.1 940.8h0" stroke="#1cffdb" stroke-width="12.6" stroke-linecap="round" fill="none"/>
<path d="M388.9 848h0M487.8 770.6h0M523.3 744.8h0M563.9 726.9h0M355.9 919.5h0M454.5 830.3h0M280.6 984h0M264.4 964.3h0M242.5 1007.5h0M296.9 932.3h0M311.6 919.8h0M572.7 711.8h0M497.4 779.6h0M490.8 789.1h0M452 804.6h0M500.7 765.8h0M272.5 957.5h0M295.8 935.3h0M486.6 795.3h0M392.6 850.4h0M343.6 930.3h0M496.4 773.2h0M379.2 862.9h0M471.8 814.7h0M441.1 837.7h0M431 821.3h0M319 913.2h0M314.7 954.7h0M439.1 818.3h0M483.3 780.7h0M254.5 1002.6h0M572.3 714.2h0M246.4 1005.6h0M490.9 781.5h0M274.5 985.4h0M421.3 857.5h0M444.8 833.4h0M438.3 819h0M351.3 887.2h0M230.9 1015.3h0M410.5 867.7h0M428.8 822.7h0M354.3 918.1h0M486.4 782.1h0M452.4 807.5h0M321 946.9h0M315.2 919.3h0M312.6 956.8h0M430 822.1h0M224.7 1017.3h0M489.8 782.6h0M282.5 949.3h0M320.4 913.4h0M223.7 1007.3h0M261.6 996.4h0M250.5 982h0M383.1 889.9h0M456 810h0M254.4 1001.9h0M477.4 791.4h0M374.9 872h0M309.4 924.7h0M410.4 839.4h0M265.3 966.5h0M301.8 964.7h0M418 857.2h0M261.3 973.3h0M402.9 874.7h0M352 917.2h0M239.6 1004h0M480.8 794.4h0M481.7 800h0M403.5 871.3h0M426.2 829.1h0M441.5 831.8h0M404.3 844.2h0M359.5 883.5h0M341.4 899.2h0M326.9 935h0M264.5 968.4h0M374.1 875.4h0M447.1 822.9h0M437 837.1h0M314.4 954.5h0M275.1 982.6h0M323.4 912.7h0M425.5 843.6h0M239.2 992.3h0M265.1 968h0M440.4 823.1h0M228.9 1012.1h0M252.9 1001.4h0M413.5 858h0M365.4 881h0M300.5 935.3h0M413.9 855.9h0M352.9 914.5h0M386.9 884.9h0M297.9 965.9h0M331.9 931h0M351.5 915.9h0M257.9 978.1h0M342.2 899.9h0M275.1 982.4h0M242.6 991.9h0M399.9 852.7h0M263.1 973h0M282.8 972.9h0M305.5 931.1h0M259.2 978h0M259.1 993.7h0M289.4 946.4h0M409.1 845.2h0M395.2 855.9h0M375.8 889.2h0M376.1 881.3h0M373.8 888.8h0M239.4 993.8h0M281 955h0M367.9 896.5h0M294.8 966.2h0M337.5 907.3h0M299.6 961.1h0M322.2 918.9h0M397.5 870.8h0M283.6 972h0M256.5 993h0M281 958.3h0M304.5 934.3h0M386.5 881.5h0M322.6 940.4h0M392.6 857.9h0M397.2 858.3h0M332.8 928.9h0M310.1 928.8h0M358.2 894.6h0M240.1 994.3h0M245.4 992.3h0M306.9 955h0M253.9 986h0M392.1 866.3h0M399.1 863h0M350.2 897.7h0M332.7 927.7h0M279.5 962.5h0M363.9 907h0M288.7 950h0M383.8 881.9h0M364.8 902h0M321.8 939h0M344.2 904.6h0M246.5 993.4h0M298.4 958h0M241.8 999.2h0M302.2 954.8h0M361 904.8h0M278.9 971h0" stroke="#2cffca" stroke-width="12.6" stroke-linecap="round" fill="none"/>
<path d="M289.8 939.2h0M375.8 903.3h0M396 843.3h0M449.8 804.5h0M495.5 770.1h0M527.6 758.6h0M470.6 815.7h0M424.8 855.6h0M341.6 932h0M218.6 1012h0M393.2 848.3h0M411.3 868.8h0M277.5 950.3h0M436.4 818.3h0M340.9 895h0M426.7 825.1h0M224.1 1005.7h0M484.8 800.5h0M399.9 843.1h0M250.3 981.1h0M251.4 1003.8h0M287.4 943.3h0M256.2 1001.8h0M233.2 1011.8h0M411 866.9h0M424.1 831.2h0M452.4 828.2h0M276.9 953.2h0M417.8 838h0M478.8 787.9h0M257.8 975h0M472.3 812.9h0M222.1 1011.6h0M251.6 981.4h0M300 932.8h0M464.4 803.5h0M421 838.8h0M405.3 842.5h0M256.3 977.1h0M453.5 815.8h0M460.4 807.2h0M310.2 925.7h0M474.8 794.2h0M479.9 795.9h0M384.5 860.4h0M381.7 865.7h0M445.6 828.7h0M242.3 1004h0M347.7 919.7h0M381.7 889.2h0M331.6 907.7h0M435.8 838.2h0M413.6 860.4h0M436.1 824.5h0M294.8 969.5h0M449.1 816.2h0M385.5 862.2h0M370.9 896.7h0M326.8 933.6h0M432.7 827.2h0M316.9 948.2h0M433.3 840.8h0M285.7 948.3h0M434.6 827.8h0M284.5 948.9h0M229.5 1003.9h0M432.8 833.4h0M389.5 882.3h0M328.1 913.2h0M394 856.1h0M303.3 933.7h0M399.7 871.9h0M244 989.5h0M356.2 911.6h0M357.6 910.6h0M275.3 980h0M409.7 858.3h0M408 845.4h0M300.6 962h0M280.3 958.1h0M402.4 848.3h0M309.2 955.9h0M258.2 996.1h0M282.3 954h0M330.5 913.2h0M322.3 916.7h0M256.4 998.6h0M358 890.8h0M265.6 986.6h0M298.6 962.4h0M280 974.7h0M275.9 978.1h0M248.2 989.3h0M332.3 912.5h0M381.4 886.2h0M346.2 900.3h0M258 981.4h0M399.7 866.8h0M405 856.4h0M405.4 854.5h0M300.4 938.1h0M270.1 984.2h0M404 854.8h0M353.7 910.8h0M336.5 911.5h0M399.3 866.3h0M365.6 901.2h0M345.7 918.6h0M363.3 907.6h0M255.8 990.5h0M359.2 894.9h0M311.2 954h0M287.4 953.3h0M337.5 927.8h0M382.2 882.6h0M305.9 935.8h0M351.6 911h0M285.3 956h0M345.6 902.3h0M398.6 860.2h0M273.3 965.5h0M329.9 917.4h0M270.9 978.3h0M238.6 998.9h0M299.1 955.8h0" stroke="#3cffba" stroke-width="12.6" stroke-linecap="round" fill="none"/>
<path d="M552 741.5h0M248.7 978.3h0M355 881h0M375.2 863.9h0M373.3 905.8h0M256.7 1003.2h0M344.5 890.3h0M340.7 933.3h0M373.9 868h0M307.7 924.7h0M236.6 991.2h0M320.7 911.1h0M355.7 916.1h0M476 786.6h0M346.7 925h0M458.6 799.5h0M435.1 847.2h0M453.6 827.9h0M320.7 912.1h0M402.3 842.3h0M311.8 921.1h0M317.3 915h0M331.2 905.1h0M335.9 901.6h0M326 940.8h0M283.1 976.6h0M310.3 957.7h0M445.2 831.9h0M419.7 839.2h0M432.1 844.1h0M453.5 817.1h0M227.8 1016.7h0M438.1 820.1h0M435.9 841.8h0M332.2 933.5h0M423.6 833.6h0M474.3 793.4h0M483.2 800h0M291 971.5h0M359.6 882.4h0M348.7 920.2h0M358 884.4h0M310.7 956.5h0M399.4 848.5h0M425.9 834.1h0M343.2 895.3h0M361.1 884h0M301.1 934.1h0M438.1 822.1h0M442 830.6h0M256.3 977.6h0M368.8 905.2h0M344.4 897.5h0M347.2 920.2h0M377.5 892.3h0M319.7 916h0M343.5 926.1h0M338.4 904.1h0M263.4 971.1h0M405.1 845.2h0M438.4 825.5h0M350 891.5h0M298 966.6h0M350.3 917.7h0M371.7 878.8h0M438.7 833.6h0M436.3 832h0M271.1 985.6h0M316.3 923.4h0M228.2 1005.8h0M321.4 917.2h0M375.5 891.8h0M237.4 1001.7h0M361.3 884.6h0M230.5 1008.6h0M291.7 969.6h0M296.7 965.5h0M366.4 881.5h0M338.4 906.5h0M382.9 887.3h0M283.9 952.2h0M246.4 988.3h0M347.2 896.3h0M342.8 924.3h0M415.6 849.7h0M361.1 886h0M269.8 984.9h0M262.1 975.9h0M376.7 881.4h0M340.7 904h0M347.4 917.5h0M256.8 995.2h0M269.4 984.9h0M419.5 845.6h0M418.6 845.4h0M364.9 882.5h0M370.5 893.1h0M295.3 942.3h0M403.6 866.8h0M243.5 992.5h0M372.7 889.8h0M293.8 967.8h0M372 890.5h0M286.2 953.5h0M398.1 868.8h0M377.8 884.6h0M250.1 999.9h0M253.2 986.9h0M268.1 966.1h0M368.2 894.7h0M244 1001.1h0M333.6 911h0M389.9 861.2h0M391.8 868.7h0M371.5 889.3h0M258.6 989h0M283.2 958.6h0M320.8 941.6h0M274 963.8h0M235.8 998.8h0M252.6 999h0M257.8 989.2h0M238.5 1000.4h0M257.7 983.4h0M279.7 972.2h0M329.9 927.2h0M288.7 955h0M264.3 986.1h0M352.4 901.1h0M298.9 956.7h0M243.4 999h0M308.4 934.3h0M270 979.7h0M293.9 955.9h0M361.7 902.2h0M274.3 971.8h0M354.7 906.7h0M329.2 922.7h0M360.2 905.3h0M332.2 923.6h0M330.9 922.8h0" stroke="#50ffa7" stroke-width="12.6" stroke-linecap="round" fill="none"/>
<path d="M445.2 802.3h0M232.7 1018h0M326.8 943.8h0M227.8 1020.2h0M268.4 960.3h0M413.9 865.8h0M374.7 867.3h0M355.5 882.5h0M422.6 852.5h0M400.5 876.8h0M443.2 816.8h0M357.5 883.2h0M251.8 978.5h0M268.4 962.9h0M407 840h0M371.9 873.8h0M396.6 848.8h0M264.5 990.7h0M311.9 956.9h0M254.5 977.9h0M417.6 859.5h0M342 896.2h0M273.4 985.6h0M244.3 988.3h0M244.5 986.7h0M396.2 852.3h0M250.7 1002.7h0M411.4 840.5h0M428.4 826.7h0M400.1 847.2h0M388.5 884.2h0M380.6 889.8h0M408.5 841.4h0M425.2 848.5h0M316.1 921.1h0M431.4 824.3h0M302.1 963.1h0M448.6 827.8h0M264 989.6h0M320.1 915.1h0M425.4 846.8h0M328.6 910.4h0M316.9 920.4h0M303.7 960.1h0M260.7 995.1h0M335 906.9h0M350.8 917.4h0M413.1 860.7h0M235.5 996.1h0M340.4 902.4h0M439.5 828.3h0M364.3 882.1h0M431.9 836.1h0M230.7 1009.3h0M435.8 826.2h0M401 871.6h0M383 865.9h0M339.1 904h0M397.5 854.9h0M403.3 868.7h0M368.7 881.3h0M290.3 944.2h0M317.5 945.8h0M235.1 1001.2h0M370.8 893.9h0M405.6 865.3h0M335.8 929.7h0M398 870.4h0M410.9 845.5h0M318.7 923.4h0M289.2 947.6h0M391.4 870.5h0M344.5 900.6h0M246.3 991.3h0M369.5 887.4h0M246.7 990.6h0M389 864.5h0M404 860.6h0M343.9 901.7h0M371 887.8h0M298.1 959.8h0M258.5 980.2h0M304.1 934.8h0M283.4 960.2h0M280.1 972.8h0M271 983h0M381.5 883.5h0M320.2 942.2h0M392.1 859.2h0M257.3 983.3h0M293.1 946.8h0M398.9 862.4h0M260.2 987.7h0M238.1 996.6h0M268.3 983.6h0M342.6 919.6h0M291 951.8h0M282.5 962.4h0M297.3 944.1h0M241.1 997.2h0M261.1 984.5h0M356.3 907.1h0M325.9 921.8h0M286.6 965.7h0M302.4 949.3h0" stroke="#60ff97" stroke-width="12.6" stroke-linecap="round" fill="none"/>
<path d="M510.5 776.6h0M253 975.5h0M217.4 1013.5h0M268.4 992.9h0M409.9 869.9h0M394.1 849.6h0M381.3 895h0M249.6 1004.2h0M426.7 851.6h0M223.2 1014.7h0M484 800.5h0M459.7 806.4h0M425.6 847.7h0M269.9 986.8h0M449.3 823.6h0M241.2 990.3h0M405 842.8h0M347.5 920.7h0M345.2 925h0M226.8 1005.4h0M339.9 900h0M249 1002.8h0M226.8 1006.5h0M282.8 974.6h0M377.2 893.6h0M346.4 894.1h0M345 923h0M427.7 831.8h0M266.5 987.8h0M407 866.5h0M408.1 843.3h0M378.4 890.7h0M269.7 963.4h0M304.2 931.5h0M378.1 890h0M376.5 879.3h0M279.4 956.4h0M336.4 931h0M358 889h0M389.7 877.1h0M353.6 892.6h0M250 1000.8h0M258.1 978.9h0M313.8 952.3h0M372.6 892.4h0M325.6 914.9h0M236.8 996.4h0M313.9 926.2h0M421.9 844.7h0M417.8 846.8h0M310.6 928.1h0M398.7 870.2h0M380.7 887.2h0M311.9 928.2h0M368.8 895.7h0M324.8 933.9h0M399 856h0M244.4 1002.1h0M237.8 1000.9h0M378.7 880.6h0M353 894.3h0M402.2 851.4h0M236.4 998.5h0M307.9 930.1h0M263.9 987.7h0M269.9 965.1h0M250.9 988.3h0M407.6 858h0M403.8 864.6h0M322.2 920h0M358 909.6h0M362.6 888.1h0M401.8 861.6h0M343.7 903h0M305.8 956.3h0M396.1 867.1h0M287.3 952h0M308.1 931.8h0M323.4 921.2h0M364.9 906.7h0M290.9 947h0M255 987.3h0M393.5 859.8h0M244.7 993.5h0M364 893.4h0M319.2 929.5h0M344.4 904h0M325.3 925.9h0M348.8 912.8h0M346.4 904.5h0M253.4 996.6h0M269.6 982h0M340.6 910.4h0M294.9 961.5h0M277.2 963.9h0M242.6 996.1h0M302.2 939.9h0M288 967.1h0M327.6 924.6h0M317.1 932.1h0M338.5 916.5h0M345.6 914.2h0M330.8 918.9h0M295 952.2h0M326.7 922.4h0M296.1 952.5h0M261.7 983.8h0M353.9 906.9h0M319.2 934.8h0M298.1 952.6h0" stroke="#73ff83" stroke-width="12.6" stroke-linecap="round" fill="none"/>
<path d="M231.8 1016h0M388.8 855.2h0M230.2 1017.5h0M396.9 879.6h0M436.8 819.1h0M222.5 1008.1h0M469.1 801.4h0M305.3 928.4h0M470.1 803.9h0M453.1 825.5h0M332.2 904.8h0M340.8 930.8h0M364.1 910.7h0M390.1 883.9h0M366.4 909.5h0M391.4 883h0M265.4 989.3h0M221.8 1013.2h0M244.7 1004.5h0M302.6 961.6h0M415.9 858.3h0M360.8 910.8h0M289.6 971.8h0M398.8 875.8h0M294.4 940.2h0M436.9 822.6h0M423.4 848.3h0M278.4 955.7h0M341 900.5h0M322.4 914.4h0M313.4 925.3h0M393.6 875h0M325 937.9h0M354.5 891.1h0M401.9 845.9h0M302.2 934.3h0M352.4 892.4h0M381.1 868.6h0M282.3 953.2h0M365.3 882.1h0M310.5 927.1h0M317.4 922.8h0M287.4 947.6h0M275.8 980.9h0M230.2 1007.3h0M415.7 842.8h0M321.4 942.6h0M331.7 930h0M364.7 908.2h0M313.3 952.1h0M249.5 987.5h0M276.9 962.5h0M285.4 952.1h0M287.5 970.9h0M385.9 879.3h0M312.4 952.9h0M385.9 881.3h0M302.4 936.4h0M266.1 969.7h0M391.4 858.9h0M315 948.5h0M237 1000.3h0M337.7 929.4h0M338.7 927.8h0M277.6 961.5h0M334.4 912.8h0M337.4 910.7h0M314.3 948.3h0M401.8 855.7h0M347.4 899.8h0M348.8 899.1h0M253 988.4h0M365.4 887.4h0M380.1 881.9h0M277.4 973.9h0M306.2 934.5h0M271.5 981h0M272.7 977.6h0M311.8 952.3h0M310 931.3h0M358 899h0M350.5 903.2h0M344.8 914.8h0M354 900.7h0M238.7 997.9h0M267.5 979.2h0M301.1 941.2h0M311.8 934.1h0M262.5 982.1h0M240.2 998.2h0M291.3 958.2h0M361.1 903.9h0M288.1 963.4h0M327.9 921.6h0M273.1 967.2h0M312 938.1h0" stroke="#83ff73" stroke-width="12.6" stroke-linecap="round" fill="none"/>
<path d="M276.7 987h0M328.9 941.9h0M446.7 808.1h0M468.2 793h0M494.9 776.2h0M483.5 794.1h0M340.1 931.8h0M472.7 812.2h0M360.8 912.1h0M240.5 990.5h0M329.8 933.5h0M416.2 840.5h0M483.3 795.8h0M384.3 860.6h0M223.5 1014.8h0M253.8 1001h0M348.7 891.3h0M304.3 930h0M272.3 985.5h0M286.3 946.9h0M229.3 1011.4h0M298.6 964.7h0M287.1 945.8h0M434.5 837.9h0M422.4 841.7h0M307.9 957.1h0M423.4 843.1h0M360.2 886.1h0M394.5 855.2h0M419.4 842.1h0M253.4 981.2h0M385.9 864.4h0M340 903.8h0M370.2 894.8h0M244.2 1002.5h0M338.4 929.8h0M336.8 929.9h0M401 871.4h0M409.5 859.3h0M309.2 928.4h0M387.7 881.9h0M287.2 949.3h0M307.2 931.4h0M386.7 866.4h0M283.2 971.6h0M348.2 896.3h0M411.1 853.6h0M281.4 972.9h0M255.5 997.3h0M283.2 958h0M251 988.9h0M294.5 943.8h0M312.1 928.9h0M322.6 938.8h0M340 924h0M347.5 915.5h0M291.7 967.9h0M332.5 915.3h0M368.2 891.2h0M343.2 906.8h0M278.1 972.9h0M359.4 900.5h0M295.1 946.7h0M320.4 939.8h0M341.1 922.8h0M326.3 920.4h0M337.7 926.1h0M291.1 955.8h0M276.1 964.5h0M360.3 906.6h0M359.3 906.6h0M348 911.9h0M288.4 962.3h0M296.1 948.2h0M348.1 910.8h0M302.9 942.8h0M272.2 968.9h0M280.5 969.8h0M304.7 950.7h0M281 967.7h0" stroke="#97ff60" stroke-width="12.6" stroke-linecap="round" fill="none"/>
<path d="M411.6 837h0M247.1 983.1h0M454.2 823.5h0M481 802.7h0M473.6 790.9h0M347.7 889.9h0M469.5 805.4h0M258.3 999.3h0M416.8 861h0M449.6 826.5h0M452.2 812.2h0M282.6 950.2h0M236.5 995.1h0M453.8 813.1h0M272.2 962.4h0M256.5 999.4h0M388.3 884h0M440.4 825.1h0M367.7 905.5h0M373.6 893.6h0M270.7 963.2h0M388.5 881.2h0M389.9 858.5h0M370 896.7h0M330.3 911.8h0M268.1 964.7h0M374.3 892h0M420.9 844.4h0M377.7 889.5h0M395.9 873.7h0M397.5 871.6h0M277.4 976.5h0M314 927.3h0M290.8 968.8h0M399.2 854.7h0M335.5 908.9h0M416 846.6h0M386.8 869.2h0M392.1 858.3h0M341.8 922.6h0M418.6 844.4h0M275.8 976.1h0M400.7 853h0M315.4 927.6h0M260.7 978.2h0M246 1000.3h0M307.5 932.3h0M401.2 861.8h0M370.3 887.9h0M366 890.3h0M269 983.8h0M312.7 950.2h0M325.8 917.4h0M296.2 961.5h0M261.3 981.3h0M238.8 996h0M289.5 954.1h0M361.8 906.6h0M341.6 907.5h0M335.6 915.2h0M301.4 939.8h0M267.5 974.7h0M286.4 958.1h0M278.8 972h0M362.1 899.9h0M239 997.4h0M363.6 905.2h0M297.9 943.2h0M338.8 914.6h0M295.3 959.5h0M338.4 916.4h0M349.1 903.9h0M262 985.9h0M294.4 950.6h0M289.8 965.4h0M267.5 979.7h0M344.9 910h0M336.5 918.8h0M273 970.2h0M275.1 967.4h0" stroke="#a7ff50" stroke-width="12.6" stroke-linecap="round" fill="none"/>
<path d="M418.8 859.8h0M474 792.2h0M262.8 991.9h0M425.7 844.5h0M396 876.7h0M379.6 868.7h0M276.7 979.7h0M306 930.4h0M400.2 849.1h0M337.9 930.6h0M296.4 939.1h0M325.1 914.6h0M410.9 844.4h0M241 1002.6h0M327.2 931.6h0M243.2 1002.5h0M294.6 967.7h0M273 983.7h0M407.4 862.1h0M298.9 939.5h0M385.7 885h0M291.4 945.3h0M274.7 979.1h0M388.1 866h0M394.6 868.4h0M384 879.9h0M343.1 903.2h0M364.5 888.9h0M368.8 893.9h0M392.8 863.6h0M287.9 968.7h0M314.4 929.2h0M365.6 893.7h0M266.2 985.2h0M281.1 971.8h0M345.2 916.6h0M343.4 909.4h0M344 917.5h0M326.3 923.5h0M351.6 910.1h0M300.4 942.4h0M289.6 962.4h0M345.4 912.8h0M331.3 923.6h0M319 939.7h0M303 947.3h0" stroke="#baff3c" stroke-width="12.6" stroke-linecap="round" fill="none"/>
<path d="M371 905.1h0M307.2 925.9h0M362.6 880.5h0M473.1 812.6h0M338 931.7h0M387.6 886.3h0M292.1 941.9h0M436.9 838.5h0M420 849.5h0M227.2 1010.3h0M414.5 854.6h0M260.2 992.9h0M407.9 863.5h0M383.3 868.6h0M335.8 907h0M418.3 848h0M398.9 870.7h0M283.8 952.7h0M265.3 970.5h0M383.3 879.5h0M360.3 909.6h0M384 867.5h0M371.8 893h0M254.2 983h0M254.6 998.7h0M381.7 880.3h0M318.5 944.9h0M389.4 870h0M290.2 969.4h0M367.7 884.4h0M259.9 979.4h0M402.9 862.7h0M342 922h0M277.9 974.4h0M351.9 895.9h0M397.1 865.7h0M292.9 966.9h0M324.6 932.9h0M261.9 979.1h0M315 929.2h0M291.3 948.2h0M355 909.9h0M322.7 923.1h0M288.4 950.9h0M300.4 939.9h0M392.8 861.6h0M394.4 861.5h0M290.8 965.8h0M271.5 965.3h0M301.6 939.1h0M240.4 1000h0M333.9 916h0M268.6 968.1h0M241.6 999.6h0M287.2 967.5h0M243.1 998.3h0M362.5 906h0M361.6 904.8h0M289.2 957.2h0M270.6 966.9h0M275.7 972h0M337.7 925.3h0M276.8 964.7h0M313.3 934.1h0M314.7 932.8h0M278.4 965.8h0M301.7 943.1h0M357.1 905.6h0M307.6 950.2h0M318.2 938.6h0M308.1 948.6h0M303.9 950.5h0" stroke="#caff2c" stroke-width="12.6" stroke-linecap="round" fill="none"/>
<path d="M270.6 988.4h0M253.6 976.6h0M248.9 981.2h0M273.6 984.5h0M452.7 812.9h0M261.2 992.5h0M415.3 841.5h0M389.5 881.1h0M371.7 893.8h0M378.2 878.7h0M313.6 953.2h0M249.1 987.2h0M320.2 920.2h0M302.1 958.7h0M339.3 906.3h0M317.2 925.2h0M276.8 975.9h0M254.6 997.7h0M313.5 928.4h0M283.3 955.7h0M394.6 858.5h0M307.4 933.5h0M328.6 915.6h0M302.6 956.5h0M251 990.6h0M339.6 911.1h0M351.4 910.7h0M364.7 904.7h0M331.9 927.2h0M259.3 983.5h0M326.4 926.4h0M269.4 970h0M292.3 954.3h0M294.2 953.2h0M238.2 998.8h0M310.4 934.1h0M316.4 942.2h0M357.7 905.6h0M291.7 956.6h0M281.7 968.9h0M337 918.6h0M355.1 903.8h0M355.1 906h0M332 920.7h0M355.6 905.2h0" stroke="#dbff1c" stroke-width="12.6" stroke-linecap="round" fill="none"/>
<path d="M392.5 890.6h0M405.1 868.6h0M427.7 830.5h0M325.6 933.9h0M236.6 994.8h0M396.4 854.9h0M339.1 929.7h0M260.9 975.1h0M271.8 963.2h0M408.3 862.1h0M412.6 852h0M378.5 882.1h0M407.3 853h0M295.3 965h0M308.3 931.1h0M342.4 904.1h0M402.9 861.1h0M272.7 979.6h0M349.1 900.3h0M403.4 857.2h0M245.3 996.2h0M306 937.8h0M358.6 901.4h0M282 963.8h0M282.6 968.6h0M259.8 983.6h0M357.6 901.4h0M290.7 961.5h0M283.6 964.4h0M294.8 956.2h0M328.4 922.8h0M315.9 932.9h0M310.5 946.8h0" stroke="#eeff09" stroke-width="12.6" stroke-linecap="round" fill="none"/>
<path d="M479.7 782.2h0M363.4 911.5h0M346.6 922.2h0M324.9 911.8h0M371.3 877.1h0M383.9 864.1h0M348.1 894.9h0M296.8 966.8h0M255.3 980h0M412.5 854.1h0M360.4 886.6h0M250.1 986.8h0M253.8 999.8h0M267.4 967.1h0M283.4 955h0M366.1 887.3h0M241.6 1000.5h0M267 984.6h0M323.4 922.4h0M253.9 988.1h0M311.4 929.9h0M251.4 992.3h0M288.2 958h0M269.7 967.3h0M336.8 926.7h0M311.3 931.1h0M345.7 915.7h0M269 970.9h0M352.8 900.1h0M294.8 958.5h0M330.3 918h0M329.3 926h0M270.8 970.6h0M288.2 961.2h0M308 953.8h0M336.6 918h0M303.4 952.5h0M281.3 966.2h0M320.8 937.6h0M297.1 952.8h0M308.7 941.9h0" stroke="#feed00" stroke-width="12.6" stroke-linecap="round" fill="none"/>
<path d="M341.4 931.5h0M305.8 959.7h0M387.3 858.5h0M428.2 828.5h0M260.1 976.3h0M384.8 864.3h0M313.3 925.6h0M343.8 899.4h0M421.3 843.3h0M323.7 938.7h0M400.3 869.7h0M318.9 922h0M388.4 862h0M272.8 981.9h0M324.3 918h0M239.7 1000.8h0M283.9 970.6h0M340.9 907.1h0M248.8 998.7h0M243.9 1000.1h0M402.3 860.2h0M280.4 962.2h0M350.7 899.2h0M318.1 942.9h0M324.5 921.4h0M358.3 898.1h0M290.9 952.6h0M325.2 921.2h0M268.6 981.9h0M313.2 933.4h0M263.4 980.5h0M268.1 982.9h0M311.5 948h0M265.9 983h0M292.5 963.5h0M286.7 963.3h0M301.4 953.9h0M354.3 903.1h0M271.2 968.2h0M346.4 911.7h0M305.3 952.8h0M309.4 940.5h0M313.1 937.5h0M358 904.9h0M302 949.8h0M279 968.4h0" stroke="#ffd700" stroke-width="12.6" stroke-linecap="round" fill="none"/>
<path d="M393.5 883.6h0M304.4 931.5h0M422.3 848.5h0M401.3 849.9h0M246.3 989.4h0M260.9 990.1h0M416.2 844.3h0M303.3 935.4h0M346.3 897.5h0M313.2 950.7h0M246.5 1000.9h0M397.1 867h0M269.5 966.5h0M236.8 997.5h0M265.4 975.5h0M321.6 923.2h0M354.2 896.2h0M326.3 918.5h0M245.8 998.1h0M398.2 863.4h0M271.5 979.6h0M317.8 931.2h0M315.1 931.7h0M331.3 925.8h0M297.8 944.5h0M342.2 916.9h0M264.6 982.8h0M297.1 944.7h0M326.8 920.4h0M292.6 959.1h0M344.2 912.1h0M309.8 952.3h0M272.7 970.8h0M275.3 966.4h0M314.1 936.2h0M306.7 948.8h0M335.2 920.8h0" stroke="#ffc400" stroke-width="12.6" stroke-linecap="round" fill="none"/>
<path d="M258.2 997.7h0M396.4 854.2h0M276.1 961.9h0M257.6 993.5h0M322.5 940.5h0M365.4 886.2h0M285.3 952.7h0M349.3 898h0M337.3 908.6h0M273.6 979.4h0M266 971.3h0M295.4 943.6h0M300.6 956.7h0M285.4 969.4h0M237.4 999.1h0M268.5 967.9h0M296.5 942.2h0M362.3 901.1h0M262.9 985.6h0M356.1 908h0M332.2 926h0M266.8 979.8h0M331.1 917.9h0M312.5 934.6h0M294 955.3h0M321.1 933.5h0M334.8 923.8h0M352.1 906.4h0M300.4 954.3h0M301.4 943.9h0M305 945.2h0" stroke="#ffae00" stroke-width="12.6" stroke-linecap="round" fill="none"/>
<path d="M327 913.1h0M234.3 999.6h0M261.8 974h0M296.2 939.8h0M245.6 1001.5h0M259.8 978h0M354.7 895.1h0M350.4 897.5h0M300.5 959.1h0M320.6 940.6h0M350.7 912.3h0M252.6 995.4h0M335.1 927.7h0M359.1 908h0M323.1 924.5h0M306.7 935.3h0M244.8 997.5h0M291.5 954.2h0M304.5 954.6h0M313.5 943.8h0M349.8 906.4h0M326.9 920.8h0M334.2 918.2h0M316.6 933.3h0M316.7 933.7h0M305.5 951.9h0M312.7 942.4h0" stroke="#ff9c00" stroke-width="12.6" stroke-linecap="round" fill="none"/>
<path d="M246.7 981.4h0M256.5 997.4h0M264.4 973h0M284.4 956.4h0M365.1 890.5h0M399.5 858.1h0M261.7 980.7h0M351.1 900.5h0M268.4 977.1h0M268.2 980.6h0M284 966.8h0M336 920.6h0M315.3 936.4h0M301.4 949.4h0M276.2 967.4h0" stroke="#ff8600" stroke-width="12.6" stroke-linecap="round" fill="none"/>
<path d="M262.7 975.7h0M343.2 921.8h0M260.6 989.2h0M341.5 923.6h0M363.8 904.5h0M356.9 908.7h0M300.1 957.7h0M288.7 966.8h0M264 978.1h0M251 995.4h0M311.8 950.2h0M350.9 902.3h0M347 913.2h0M336.1 923.3h0M308.8 940.6h0M333 923.6h0" stroke="#ff7300" stroke-width="12.6" stroke-linecap="round" fill="none"/>
<path d="M375.3 873.2h0M391.5 855.4h0M300.5 936.2h0M345.7 919.8h0M295.2 941.3h0M288.2 947.7h0M302.1 957.6h0M286 969.1h0M317.6 943.7h0M319 942.6h0M296.1 944.6h0M289.5 955.9h0M297.5 956.7h0M339.6 920.9h0M327 923.4h0M295 950.9h0M343.3 913.1h0M262.8 982.7h0M357.1 901.8h0M281.7 965.7h0M313.8 942.3h0M306.5 950.4h0M331 922h0M274.9 969.9h0M318.2 938h0M317.1 936.5h0" stroke="#ff6000" stroke-width="12.6" stroke-linecap="round" fill="none"/>
<path d="M369.4 906.3h0M383.9 869.4h0M272 981.7h0M293.6 944.9h0M384 883.6h0M394.5 863.6h0M325.1 919.7h0M349.2 902.1h0M240.4 995.9h0M273.7 965.3h0M347.5 908.1h0M310.6 952.5h0M289 963.7h0M266.5 981.8h0M271.2 969.8h0M299.5 945.5h0M337.4 923.2h0M299.3 948.1h0M317.9 935.6h0M329.3 922h0M305 949h0" stroke="#ff4a00" stroke-width="12.6" stroke-linecap="round" fill="none"/>
<path d="M405.1 854.2h0M297.7 940.1h0M264.1 975.5h0M266 985.8h0M402.5 856.7h0M360 895.3h0M363 896.6h0M275.5 972.5h0M319.8 934.7h0M302.4 945.4h0" stroke="#ff3800" stroke-width="12.6" stroke-linecap="round" fill="none"/>
<path d="M397.1 850.9h0M308.7 929.2h0M286.6 969.8h0M334.7 914.9h0M319.4 941.4h0M314.1 930.5h0M288.1 958.8h0M326 922.7h0M301 956.3h0M348.5 904.5h0M265.1 983.5h0M331.9 925.1h0M311.3 949.5h0M283.7 965.2h0M298.5 949.6h0M298.8 947h0" stroke="#ff2200" stroke-width="12.6" stroke-linecap="round" fill="none"/>
<path d="M404.9 865.7h0M270.5 982h0M278.9 963.2h0M335.1 916.3h0M344.4 910.8h0M295.8 946.6h0M303.7 940h0M313 936.2h0M334.8 924.9h0M352.7 908.3h0M299.3 943.4h0M356.8 903h0M279.9 969.8h0M276.7 966.9h0M302.2 950.5h0M277.6 967.8h0M304.7 945.7h0" stroke="#fa0f00" stroke-width="12.6" stroke-linecap="round" fill="none"/>
<path d="M349.2 915.6h0M318.2 926.3h0M399.9 858.9h0M281.7 970.1h0M287.3 961.9h0M320.3 939h0M297.4 949.9h0M281 966.5h0" stroke="#df0000" stroke-width="12.6" stroke-linecap="round" fill="none"/>
<path d="M300.6 932.5h0M369.8 896.4h0M270.9 963.5h0M304.7 957.7h0M401 861.2h0M293.6 964.6h0M243.2 1001h0M267.1 971.3h0M266.4 976.2h0M363.6 906.5h0M330.3 916.4h0M243.7 999h0M339.7 912.1h0M259.3 987h0M293.6 962.6h0M362.2 895.9h0M320 931.7h0M353 901.5h0M261.5 982h0M286.3 961.2h0M325.2 922.1h0M342.5 910.2h0M340.1 914.5h0M312.3 933.4h0M238.4 998.1h0M334.9 926.1h0M278.5 971.6h0M351.2 902.9h0M342.2 912.7h0M307.5 938.5h0M272.1 966.9h0M309.8 938.9h0M337.2 924.5h0M309.7 952.8h0M320.5 935h0M337.6 922.7h0M303.1 941.1h0M266.1 981.2h0M309.9 947.8h0M339 921.3h0M277.8 970.6h0M308.3 950.7h0M319 934.3h0M302.6 952.2h0M319.8 937.5h0M336.3 919.7h0M334.8 922h0M279.6 967.9h0M305.5 947.9h0M304.2 944.4h0M273.8 969.2h0M274.4 969.7h0" stroke="#c80000" stroke-width="12.6" stroke-linecap="round" fill="none"/>
</g>
<path d="M175.00 144.0V1068.0M175.0 1068.00H1260.0M355.83 144.0V1068.0M175.0 914.00H1260.0M536.67 144.0V1068.0M175.0 760.00H1260.0M717.50 144.0V1068.0M175.0 606.00H1260.0M898.33 144.0V1068.0M175.0 452.00H1260.0M1079.17 144.0V1068.0M175.0 298.00H1260.0M1260.00 144.0V1068.0M175.0 144.00H1260.0" stroke="#b0b0b0" stroke-width="2.2" fill="none"/>
<g clip-path="url(#ax)"><path d="M175.00 1057.07L1232.88 144.00" stroke="#000" stroke-width="4.17" fill="none"/>
<path d="M175.00 1068.00L1260.00 144.00" stroke="#000" stroke-width="4.17" stroke-dasharray="15.417 6.667" fill="none"/></g>
<rect x="175.0" y="144.0" width="1085.0" height="924.0" fill="none" stroke="#000" stroke-width="2.2" stroke-linecap="square"/>
<path d="M175.00 1068.0v9.7M175.0 1068.00h-9.7M355.83 1068.0v9.7M175.0 914.00h-9.7M536.67 1068.0v9.7M175.0 760.00h-9.7M717.50 1068.0v9.7M175.0 606.00h-9.7M898.33 1068.0v9.7M175.0 452.00h-9.7M1079.17 1068.0v9.7M175.0 298.00h-9.7M1260.00 1068.0v9.7M175.0 144.00h-9.7" stroke="#000" stroke-width="2.2" fill="none"/>
<text font-size="30.6" transform="matrix(0.9787 0 0 1 166.65 1109.10)">0</text>
<text font-size="30.6" transform="matrix(0.9787 0 0 1 139.50 1078.50)">0</text>
<text font-size="30.6" transform="matrix(1.0123 0 0 1 338.06 1109.10)">10</text>
<text font-size="30.6" transform="matrix(1.0123 0 0 1 120.48 924.50)">10</text>
<text font-size="30.6" transform="matrix(0.9876 0 0 1 519.71 1109.10)">20</text>
<text font-size="30.6" transform="matrix(0.9876 0 0 1 121.29 770.50)">20</text>
<text font-size="30.6" transform="matrix(0.9757 0 0 1 700.93 1109.10)">30</text>
<text font-size="30.6" transform="matrix(0.9757 0 0 1 121.68 616.50)">30</text>
<text font-size="30.6" transform="matrix(0.9617 0 0 1 882.22 1109.10)">40</text>
<text font-size="30.6" transform="matrix(0.9617 0 0 1 122.14 462.50)">40</text>
<text font-size="30.6" transform="matrix(0.9780 0 0 1 1062.52 1109.10)">50</text>
<text font-size="30.6" transform="matrix(0.9780 0 0 1 121.60 308.50)">50</text>
<text font-size="30.6" transform="matrix(0.9876 0 0 1 1243.04 1109.10)">60</text>
<text font-size="30.6" transform="matrix(0.9876 0 0 1 121.29 154.50)">60</text>
<text font-size="30.6" transform="matrix(0.9969 0 0 1 611.60 1152.90)">gfz_ztd</text>
<text font-size="30.6" transform="matrix(1.0877 0 0 1 718.69 1152.90)">[kg/m</text>
<text font-size="30.6" transform="matrix(0.9477 0 0 1 816.48 1152.90)">]</text>
<text font-size="30.6" transform="matrix(0 -0.9136 1 0 99.30 706.10)">COWA</text>
<text font-size="30.6" transform="matrix(0 -1.0834 1 0 99.30 611.15)">[kg/m</text>
<text font-size="30.6" transform="matrix(0 -0.9804 1 0 99.30 514.23)">]</text>
<text font-size="30.6" transform="matrix(0 -0.7003 0.6677 0 88.00 530.07)" stroke="#000" stroke-width="1.0">2</text>
<text font-size="30.6" transform="matrix(0.6751 0 0 0.6653 800.07 1142.10)" stroke="#000" stroke-width="1.0">2</text>
<rect x="873" y="821.4" width="362.6" height="227" rx="7" ry="7" fill="#f5deb3" fill-opacity="0.5" stroke="#000" stroke-opacity="0.6" stroke-width="2.6"/>
<text font-size="30.6" transform="matrix(0.9507 0 0 1 981.03 852.00)">y</text>
<text font-size="30.6" transform="matrix(1.2061 0 0 1 1006.15 852.00)">=</text>
<text font-size="30.6" transform="matrix(1.0233 0 0 1 1038.25 852.00)">1.01x</text>
<text font-size="30.6" transform="matrix(1.1859 0 0 1 1125.69 852.00)">+</text>
<text font-size="30.6" transform="matrix(1.0147 0 0 1 1157.36 852.00)">0.72</text>
<text font-size="30.6" transform="matrix(0.8758 0 0 1 1098.99 885.60)">r</text>
<text font-size="30.6" transform="matrix(1.1859 0 0 1 1133.19 885.60)">=</text>
<text font-size="30.6" transform="matrix(1.0112 0 0 1 1164.66 885.60)">0.97</text>
<text font-size="30.6" transform="matrix(1.0058 0 0 1 952.80 924.90)">bias</text>
<text font-size="30.6" transform="matrix(1.1859 0 0 1 1019.29 924.90)">=</text>
<text font-size="30.6" transform="matrix(1.0046 0 0 1 1050.47 924.90)">0.91</text>
<text font-size="30.6" transform="matrix(1.0933 0 0 1 1120.37 924.90)">[kg/m</text>
<text font-size="30.6" transform="matrix(0.9477 0 0 1 1217.78 924.90)">]</text>
<text font-size="30.6" transform="matrix(1.0242 0 0 1 881.68 965.30)">rmsd</text>
<text font-size="30.6" transform="matrix(1.1859 0 0 1 962.09 965.30)">=</text>
<text font-size="30.6" transform="matrix(0.9964 0 0 1 993.71 965.30)">1.6</text>
<text font-size="30.6" transform="matrix(1.0176 0 0 1 1047.05 965.30)">(1.3)</text>
<text font-size="30.6" transform="matrix(1.0919 0 0 1 1119.58 965.30)">[kg/m</text>
<text font-size="30.6" transform="matrix(0.8987 0 0 1 1217.79 965.30)">]</text>
<text font-size="30.6" transform="matrix(1.0597 0 0 1 995.51 1002.00)">n</text>
<text font-size="30.6" transform="matrix(1.0523 0 0 1 1023.24 1002.00)">valid</text>
<text font-size="30.6" transform="matrix(1.2129 0 0 1 1098.74 1002.00)">=</text>
<text font-size="30.6" transform="matrix(1.0362 0 0 1 1129.92 1002.00)">18314</text>
<text font-size="30.6" transform="matrix(1.0597 0 0 1 915.61 1034.20)">n</text>
<text font-size="30.6" transform="matrix(1.0369 0 0 1 942.16 1034.20)">matchups</text>
<text font-size="30.6" transform="matrix(1.1926 0 0 1 1089.88 1034.20)">=</text>
<text font-size="30.6" transform="matrix(1.0347 0 0 1 1121.53 1034.20)">507039</text>
<text font-size="30.6" transform="matrix(0.6967 0 0 0.6559 1109.83 875.40)" stroke="#000" stroke-width="1.0">2</text>
<text font-size="30.6" transform="matrix(0.6392 0 0 0.6513 1202.02 914.60)" stroke="#000" stroke-width="1.0">2</text>
<text font-size="30.6" transform="matrix(0.6464 0 0 0.6653 1202.01 955.30)" stroke="#000" stroke-width="1.0">2</text>
</svg></body></html>
